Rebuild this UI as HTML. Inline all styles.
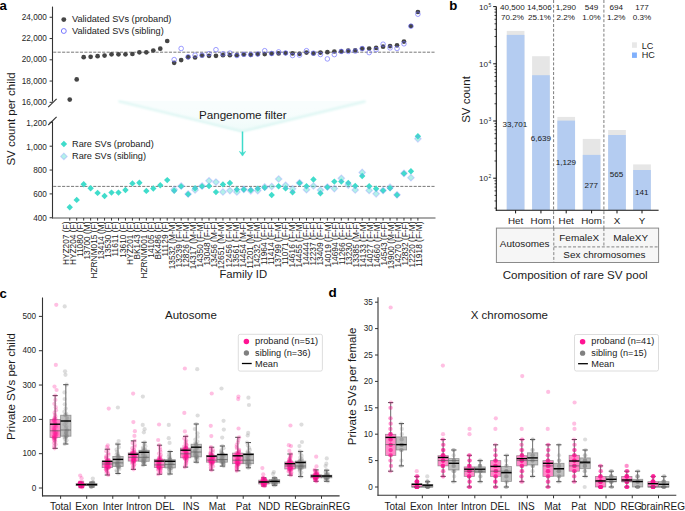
<!DOCTYPE html>
<html><head><meta charset="utf-8"><title>Figure</title>
<style>
html,body{margin:0;padding:0;background:#fff;}
body{width:685px;height:511px;overflow:hidden;}
svg{display:block;font-family:"Liberation Sans", sans-serif;}
</style></head>
<body>
<svg width="685" height="511" viewBox="0 0 685 511">
<rect x="0" y="0" width="685" height="511" fill="#fff"/>
<text x="-0.60" y="9.70" font-size="13.2" text-anchor="start" fill="#000" font-weight="bold" >a</text>
<text x="449.30" y="9.60" font-size="13.2" text-anchor="start" fill="#000" font-weight="bold" >b</text>
<text x="-0.40" y="297.70" font-size="13.2" text-anchor="start" fill="#000" font-weight="bold" >c</text>
<text x="328.40" y="297.00" font-size="13.5" text-anchor="start" fill="#000" font-weight="bold" >d</text>
<defs><linearGradient id="fg" x1="0" y1="0" x2="0" y2="1"><stop offset="0" stop-color="#ffffff" stop-opacity="0"/><stop offset="1" stop-color="#d6f5f1" stop-opacity="0.35"/></linearGradient><filter id="bl" x="-5%" y="-50%" width="110%" height="200%"><feGaussianBlur stdDeviation="1.1"/></filter></defs>
<polygon points="116.5,100.8 367.5,101.1 242.2,132.4" fill="#f8fdfd"/>
<polygon points="116.5,100.8 367.5,101.1 242.2,132.4" fill="url(#fg)"/>
<polyline points="118.5,101.2 242.2,131.4 365.5,101.4" fill="none" stroke="#ddf6f3" stroke-width="2.2" filter="url(#bl)"/>
<text x="199.00" y="118.60" font-size="11.6" text-anchor="start" fill="#1a1a1a" >Pangenome filter</text>
<line x1="242.50" y1="131.50" x2="242.50" y2="153.50" stroke="#3edbcb" stroke-width="1.5" />
<path d="M239.4,151.4 L242.5,156.1 L245.6,151.4 L242.5,153.3 Z" fill="#3edbcb" stroke="#3edbcb" stroke-width="0.6" stroke-linejoin="round"/>
<line x1="52.50" y1="6.60" x2="52.50" y2="101.60" stroke="#333" stroke-width="1.1" />
<line x1="52.50" y1="121.30" x2="52.50" y2="218.40" stroke="#333" stroke-width="1.1" />
<line x1="48.20" y1="107.20" x2="56.60" y2="98.80" stroke="#333" stroke-width="1.1" />
<line x1="48.20" y1="125.00" x2="56.60" y2="116.80" stroke="#333" stroke-width="1.1" />
<line x1="49.60" y1="17.28" x2="52.50" y2="17.28" stroke="#333" stroke-width="1" />
<text x="46.80" y="19.78" font-size="8.2" text-anchor="end" fill="#262626" >24,000</text>
<line x1="49.60" y1="38.54" x2="52.50" y2="38.54" stroke="#333" stroke-width="1" />
<text x="46.80" y="41.04" font-size="8.2" text-anchor="end" fill="#262626" >22,000</text>
<line x1="49.60" y1="59.80" x2="52.50" y2="59.80" stroke="#333" stroke-width="1" />
<text x="46.80" y="62.30" font-size="8.2" text-anchor="end" fill="#262626" >20,000</text>
<line x1="49.60" y1="81.06" x2="52.50" y2="81.06" stroke="#333" stroke-width="1" />
<text x="46.80" y="83.56" font-size="8.2" text-anchor="end" fill="#262626" >18,000</text>
<line x1="49.60" y1="102.32" x2="52.50" y2="102.32" stroke="#333" stroke-width="1" />
<text x="46.80" y="104.82" font-size="8.2" text-anchor="end" fill="#262626" >16,000</text>
<line x1="49.60" y1="122.35" x2="52.50" y2="122.35" stroke="#333" stroke-width="1" />
<text x="46.80" y="125.65" font-size="8.2" text-anchor="end" fill="#262626" >1,200</text>
<line x1="49.60" y1="146.20" x2="52.50" y2="146.20" stroke="#333" stroke-width="1" />
<text x="46.80" y="149.50" font-size="8.2" text-anchor="end" fill="#262626" >1,000</text>
<line x1="49.60" y1="170.05" x2="52.50" y2="170.05" stroke="#333" stroke-width="1" />
<text x="46.80" y="173.35" font-size="8.2" text-anchor="end" fill="#262626" >800</text>
<line x1="49.60" y1="193.90" x2="52.50" y2="193.90" stroke="#333" stroke-width="1" />
<text x="46.80" y="197.20" font-size="8.2" text-anchor="end" fill="#262626" >600</text>
<line x1="49.60" y1="217.75" x2="52.50" y2="217.75" stroke="#333" stroke-width="1" />
<text x="46.80" y="221.05" font-size="8.2" text-anchor="end" fill="#262626" >400</text>
<line x1="52.00" y1="218.00" x2="435.50" y2="218.00" stroke="#555" stroke-width="1.2" />
<line x1="69.75" y1="218.00" x2="69.75" y2="220.60" stroke="#222" stroke-width="0.9" />
<text transform="translate(68.95,221.50) rotate(-90)" font-size="8.35" text-anchor="end" fill="#1e1e1e">HYZ207 (F)</text>
<line x1="76.71" y1="218.00" x2="76.71" y2="220.60" stroke="#222" stroke-width="0.9" />
<text transform="translate(76.02,221.50) rotate(-90)" font-size="8.35" text-anchor="end" fill="#1e1e1e">HYZ204 (F)</text>
<line x1="83.68" y1="218.00" x2="83.68" y2="220.60" stroke="#222" stroke-width="0.9" />
<text transform="translate(83.09,221.50) rotate(-90)" font-size="8.35" text-anchor="end" fill="#1e1e1e">11080 (F)</text>
<line x1="90.64" y1="218.00" x2="90.64" y2="220.60" stroke="#222" stroke-width="0.9" />
<text transform="translate(90.16,221.50) rotate(-90)" font-size="8.35" text-anchor="end" fill="#1e1e1e">13700 (M)</text>
<line x1="97.60" y1="218.00" x2="97.60" y2="220.60" stroke="#222" stroke-width="0.9" />
<text transform="translate(97.23,221.50) rotate(-90)" font-size="8.35" text-anchor="end" fill="#1e1e1e">HZRNM015 (F)</text>
<line x1="104.56" y1="218.00" x2="104.56" y2="220.60" stroke="#222" stroke-width="0.9" />
<text transform="translate(104.30,221.50) rotate(-90)" font-size="8.35" text-anchor="end" fill="#1e1e1e">13414 (M)</text>
<line x1="111.53" y1="218.00" x2="111.53" y2="220.60" stroke="#222" stroke-width="0.9" />
<text transform="translate(111.37,221.50) rotate(-90)" font-size="8.35" text-anchor="end" fill="#1e1e1e">13530 (F)</text>
<line x1="118.49" y1="218.00" x2="118.49" y2="220.60" stroke="#222" stroke-width="0.9" />
<text transform="translate(118.44,221.50) rotate(-90)" font-size="8.35" text-anchor="end" fill="#1e1e1e">11611 (F)</text>
<line x1="125.45" y1="218.00" x2="125.45" y2="220.60" stroke="#222" stroke-width="0.9" />
<text transform="translate(125.51,221.50) rotate(-90)" font-size="8.35" text-anchor="end" fill="#1e1e1e">13610 (F)</text>
<line x1="132.42" y1="218.00" x2="132.42" y2="220.60" stroke="#222" stroke-width="0.9" />
<text transform="translate(132.58,221.50) rotate(-90)" font-size="8.35" text-anchor="end" fill="#1e1e1e">HYZ201 (F)</text>
<line x1="139.38" y1="218.00" x2="139.38" y2="220.60" stroke="#222" stroke-width="0.9" />
<text transform="translate(139.65,221.50) rotate(-90)" font-size="8.35" text-anchor="end" fill="#1e1e1e">BK143 (F)</text>
<line x1="146.34" y1="218.00" x2="146.34" y2="220.60" stroke="#222" stroke-width="0.9" />
<text transform="translate(146.72,221.50) rotate(-90)" font-size="8.35" text-anchor="end" fill="#1e1e1e">HZRNM001 (F)</text>
<line x1="153.31" y1="218.00" x2="153.31" y2="220.60" stroke="#222" stroke-width="0.9" />
<text transform="translate(153.79,221.50) rotate(-90)" font-size="8.35" text-anchor="end" fill="#1e1e1e">14105 (F)</text>
<line x1="160.27" y1="218.00" x2="160.27" y2="220.60" stroke="#222" stroke-width="0.9" />
<text transform="translate(160.86,221.50) rotate(-90)" font-size="8.35" text-anchor="end" fill="#1e1e1e">BK486 (F)</text>
<line x1="167.23" y1="218.00" x2="167.23" y2="220.60" stroke="#222" stroke-width="0.9" />
<text transform="translate(167.93,221.50) rotate(-90)" font-size="8.35" text-anchor="end" fill="#1e1e1e">11129 (F)</text>
<line x1="174.19" y1="218.00" x2="174.19" y2="220.60" stroke="#222" stroke-width="0.9" />
<text transform="translate(175.00,221.50) rotate(-90)" font-size="8.35" text-anchor="end" fill="#1e1e1e">13532 (M-M)</text>
<line x1="181.16" y1="218.00" x2="181.16" y2="220.60" stroke="#222" stroke-width="0.9" />
<text transform="translate(182.07,221.50) rotate(-90)" font-size="8.35" text-anchor="end" fill="#1e1e1e">13239 (F-M)</text>
<line x1="188.12" y1="218.00" x2="188.12" y2="220.60" stroke="#222" stroke-width="0.9" />
<text transform="translate(189.14,221.50) rotate(-90)" font-size="8.35" text-anchor="end" fill="#1e1e1e">12826 (F-M)</text>
<line x1="195.08" y1="218.00" x2="195.08" y2="220.60" stroke="#222" stroke-width="0.9" />
<text transform="translate(196.21,221.50) rotate(-90)" font-size="8.35" text-anchor="end" fill="#1e1e1e">14317 (M-M)</text>
<line x1="202.05" y1="218.00" x2="202.05" y2="220.60" stroke="#222" stroke-width="0.9" />
<text transform="translate(203.28,221.50) rotate(-90)" font-size="8.35" text-anchor="end" fill="#1e1e1e">14350 (F-M)</text>
<line x1="209.01" y1="218.00" x2="209.01" y2="220.60" stroke="#222" stroke-width="0.9" />
<text transform="translate(210.35,221.50) rotate(-90)" font-size="8.35" text-anchor="end" fill="#1e1e1e">13048 (F-F)</text>
<line x1="215.97" y1="218.00" x2="215.97" y2="220.60" stroke="#222" stroke-width="0.9" />
<text transform="translate(217.42,221.50) rotate(-90)" font-size="8.35" text-anchor="end" fill="#1e1e1e">13456 (M-F)</text>
<line x1="222.94" y1="218.00" x2="222.94" y2="220.60" stroke="#222" stroke-width="0.9" />
<text transform="translate(224.49,221.50) rotate(-90)" font-size="8.35" text-anchor="end" fill="#1e1e1e">12651 (M-M)</text>
<line x1="229.90" y1="218.00" x2="229.90" y2="220.60" stroke="#222" stroke-width="0.9" />
<text transform="translate(231.56,221.50) rotate(-90)" font-size="8.35" text-anchor="end" fill="#1e1e1e">12456 (F-M)</text>
<line x1="236.86" y1="218.00" x2="236.86" y2="220.60" stroke="#222" stroke-width="0.9" />
<text transform="translate(238.63,221.50) rotate(-90)" font-size="8.35" text-anchor="end" fill="#1e1e1e">13561 (F-M)</text>
<line x1="243.82" y1="218.00" x2="243.82" y2="220.60" stroke="#222" stroke-width="0.9" />
<text transform="translate(245.70,221.50) rotate(-90)" font-size="8.35" text-anchor="end" fill="#1e1e1e">14454 (M-F)</text>
<line x1="250.79" y1="218.00" x2="250.79" y2="220.60" stroke="#222" stroke-width="0.9" />
<text transform="translate(252.77,221.50) rotate(-90)" font-size="8.35" text-anchor="end" fill="#1e1e1e">11201 (M-M)</text>
<line x1="257.75" y1="218.00" x2="257.75" y2="220.60" stroke="#222" stroke-width="0.9" />
<text transform="translate(259.84,221.50) rotate(-90)" font-size="8.35" text-anchor="end" fill="#1e1e1e">14232 (F-M)</text>
<line x1="264.71" y1="218.00" x2="264.71" y2="220.60" stroke="#222" stroke-width="0.9" />
<text transform="translate(266.91,221.50) rotate(-90)" font-size="8.35" text-anchor="end" fill="#1e1e1e">11964 (F-F)</text>
<line x1="271.68" y1="218.00" x2="271.68" y2="220.60" stroke="#222" stroke-width="0.9" />
<text transform="translate(273.98,221.50) rotate(-90)" font-size="8.35" text-anchor="end" fill="#1e1e1e">11414 (F-F)</text>
<line x1="278.64" y1="218.00" x2="278.64" y2="220.60" stroke="#222" stroke-width="0.9" />
<text transform="translate(281.05,221.50) rotate(-90)" font-size="8.35" text-anchor="end" fill="#1e1e1e">13799 (F-M)</text>
<line x1="285.60" y1="218.00" x2="285.60" y2="220.60" stroke="#222" stroke-width="0.9" />
<text transform="translate(288.12,221.50) rotate(-90)" font-size="8.35" text-anchor="end" fill="#1e1e1e">11071 (F-F)</text>
<line x1="292.57" y1="218.00" x2="292.57" y2="220.60" stroke="#222" stroke-width="0.9" />
<text transform="translate(295.19,221.50) rotate(-90)" font-size="8.35" text-anchor="end" fill="#1e1e1e">14616 (F-M)</text>
<line x1="299.53" y1="218.00" x2="299.53" y2="220.60" stroke="#222" stroke-width="0.9" />
<text transform="translate(302.26,221.50) rotate(-90)" font-size="8.35" text-anchor="end" fill="#1e1e1e">14455 (F-M)</text>
<line x1="306.49" y1="218.00" x2="306.49" y2="220.60" stroke="#222" stroke-width="0.9" />
<text transform="translate(309.33,221.50) rotate(-90)" font-size="8.35" text-anchor="end" fill="#1e1e1e">14444 (F-F)</text>
<line x1="313.46" y1="218.00" x2="313.46" y2="220.60" stroke="#222" stroke-width="0.9" />
<text transform="translate(316.40,221.50) rotate(-90)" font-size="8.35" text-anchor="end" fill="#1e1e1e">12237 (F-F)</text>
<line x1="320.42" y1="218.00" x2="320.42" y2="220.60" stroke="#222" stroke-width="0.9" />
<text transform="translate(323.47,221.50) rotate(-90)" font-size="8.35" text-anchor="end" fill="#1e1e1e">13409 (F-F)</text>
<line x1="327.38" y1="218.00" x2="327.38" y2="220.60" stroke="#222" stroke-width="0.9" />
<text transform="translate(330.54,221.50) rotate(-90)" font-size="8.35" text-anchor="end" fill="#1e1e1e">14019 (F-M)</text>
<line x1="334.34" y1="218.00" x2="334.34" y2="220.60" stroke="#222" stroke-width="0.9" />
<text transform="translate(337.61,221.50) rotate(-90)" font-size="8.35" text-anchor="end" fill="#1e1e1e">14694 (F-F)</text>
<line x1="341.31" y1="218.00" x2="341.31" y2="220.60" stroke="#222" stroke-width="0.9" />
<text transform="translate(344.68,221.50) rotate(-90)" font-size="8.35" text-anchor="end" fill="#1e1e1e">11266 (F-F)</text>
<line x1="348.27" y1="218.00" x2="348.27" y2="220.60" stroke="#222" stroke-width="0.9" />
<text transform="translate(351.75,221.50) rotate(-90)" font-size="8.35" text-anchor="end" fill="#1e1e1e">13230 (F-F)</text>
<line x1="355.23" y1="218.00" x2="355.23" y2="220.60" stroke="#222" stroke-width="0.9" />
<text transform="translate(358.82,221.50) rotate(-90)" font-size="8.35" text-anchor="end" fill="#1e1e1e">13385 (M-F)</text>
<line x1="362.20" y1="218.00" x2="362.20" y2="220.60" stroke="#222" stroke-width="0.9" />
<text transform="translate(365.89,221.50) rotate(-90)" font-size="8.35" text-anchor="end" fill="#1e1e1e">14133 (F-M)</text>
<line x1="369.16" y1="218.00" x2="369.16" y2="220.60" stroke="#222" stroke-width="0.9" />
<text transform="translate(372.96,221.50) rotate(-90)" font-size="8.35" text-anchor="end" fill="#1e1e1e">14027 (F-M)</text>
<line x1="376.12" y1="218.00" x2="376.12" y2="220.60" stroke="#222" stroke-width="0.9" />
<text transform="translate(380.03,221.50) rotate(-90)" font-size="8.35" text-anchor="end" fill="#1e1e1e">14660 (F-M)</text>
<line x1="383.08" y1="218.00" x2="383.08" y2="220.60" stroke="#222" stroke-width="0.9" />
<text transform="translate(387.10,221.50) rotate(-90)" font-size="8.35" text-anchor="end" fill="#1e1e1e">14543 (F-F)</text>
<line x1="390.05" y1="218.00" x2="390.05" y2="220.60" stroke="#222" stroke-width="0.9" />
<text transform="translate(394.17,221.50) rotate(-90)" font-size="8.35" text-anchor="end" fill="#1e1e1e">13900 (M-M)</text>
<line x1="397.01" y1="218.00" x2="397.01" y2="220.60" stroke="#222" stroke-width="0.9" />
<text transform="translate(401.24,221.50) rotate(-90)" font-size="8.35" text-anchor="end" fill="#1e1e1e">14270 (F-M)</text>
<line x1="403.97" y1="218.00" x2="403.97" y2="220.60" stroke="#222" stroke-width="0.9" />
<text transform="translate(408.31,221.50) rotate(-90)" font-size="8.35" text-anchor="end" fill="#1e1e1e">12832 (F-F)</text>
<line x1="410.94" y1="218.00" x2="410.94" y2="220.60" stroke="#222" stroke-width="0.9" />
<text transform="translate(415.38,221.50) rotate(-90)" font-size="8.35" text-anchor="end" fill="#1e1e1e">12220 (F-M)</text>
<line x1="417.90" y1="218.00" x2="417.90" y2="220.60" stroke="#222" stroke-width="0.9" />
<text transform="translate(422.45,221.50) rotate(-90)" font-size="8.35" text-anchor="end" fill="#1e1e1e">11918 (F-M)</text>
<text x="219.40" y="278.00" font-size="11.3" text-anchor="start" fill="#1a1a1a" >Family ID</text>
<text transform="translate(15.00,118.90) rotate(-90)" font-size="11.5" text-anchor="middle" fill="#1a1a1a">SV count per child</text>
<line x1="53.20" y1="52.20" x2="435.00" y2="52.20" stroke="#6a6a6a" stroke-width="0.9" stroke-dasharray="3.1 1.35"/>
<line x1="53.20" y1="186.40" x2="435.00" y2="186.40" stroke="#6a6a6a" stroke-width="0.9" stroke-dasharray="3.1 1.35"/>
<circle cx="69.75" cy="99.60" r="2.35" fill="#454545"/>
<circle cx="76.71" cy="79.40" r="2.35" fill="#454545"/>
<circle cx="83.68" cy="57.20" r="2.35" fill="#454545"/>
<circle cx="90.64" cy="56.80" r="2.35" fill="#454545"/>
<circle cx="97.60" cy="56.20" r="2.35" fill="#454545"/>
<circle cx="104.56" cy="55.60" r="2.35" fill="#454545"/>
<circle cx="111.53" cy="54.30" r="2.35" fill="#454545"/>
<circle cx="118.49" cy="54.30" r="2.35" fill="#454545"/>
<circle cx="125.45" cy="54.30" r="2.35" fill="#454545"/>
<circle cx="132.42" cy="54.00" r="2.35" fill="#454545"/>
<circle cx="139.38" cy="52.30" r="2.35" fill="#454545"/>
<circle cx="146.34" cy="52.30" r="2.35" fill="#454545"/>
<circle cx="153.31" cy="50.50" r="2.35" fill="#454545"/>
<circle cx="160.27" cy="48.70" r="2.35" fill="#454545"/>
<circle cx="167.23" cy="41.00" r="2.35" fill="#454545"/>
<circle cx="174.19" cy="62.80" r="2.35" fill="#454545"/>
<circle cx="181.16" cy="60.10" r="2.35" fill="#454545"/>
<circle cx="188.12" cy="57.20" r="2.35" fill="#454545"/>
<circle cx="195.08" cy="57.50" r="2.35" fill="#454545"/>
<circle cx="202.05" cy="55.50" r="2.35" fill="#454545"/>
<circle cx="209.01" cy="55.80" r="2.35" fill="#454545"/>
<circle cx="215.97" cy="55.80" r="2.35" fill="#454545"/>
<circle cx="222.94" cy="55.20" r="2.35" fill="#454545"/>
<circle cx="229.90" cy="55.20" r="2.35" fill="#454545"/>
<circle cx="236.86" cy="55.20" r="2.35" fill="#454545"/>
<circle cx="243.82" cy="54.50" r="2.35" fill="#454545"/>
<circle cx="250.79" cy="54.80" r="2.35" fill="#454545"/>
<circle cx="257.75" cy="54.10" r="2.35" fill="#454545"/>
<circle cx="264.71" cy="54.10" r="2.35" fill="#454545"/>
<circle cx="271.68" cy="53.60" r="2.35" fill="#454545"/>
<circle cx="278.64" cy="53.40" r="2.35" fill="#454545"/>
<circle cx="285.60" cy="53.10" r="2.35" fill="#454545"/>
<circle cx="292.57" cy="53.40" r="2.35" fill="#454545"/>
<circle cx="299.53" cy="53.80" r="2.35" fill="#454545"/>
<circle cx="306.49" cy="52.60" r="2.35" fill="#454545"/>
<circle cx="313.46" cy="53.40" r="2.35" fill="#454545"/>
<circle cx="320.42" cy="52.60" r="2.35" fill="#454545"/>
<circle cx="327.38" cy="52.20" r="2.35" fill="#454545"/>
<circle cx="334.34" cy="51.50" r="2.35" fill="#454545"/>
<circle cx="341.31" cy="51.40" r="2.35" fill="#454545"/>
<circle cx="348.27" cy="50.70" r="2.35" fill="#454545"/>
<circle cx="355.23" cy="50.40" r="2.35" fill="#454545"/>
<circle cx="362.20" cy="48.60" r="2.35" fill="#454545"/>
<circle cx="369.16" cy="48.50" r="2.35" fill="#454545"/>
<circle cx="376.12" cy="47.90" r="2.35" fill="#454545"/>
<circle cx="383.08" cy="46.70" r="2.35" fill="#454545"/>
<circle cx="390.05" cy="46.10" r="2.35" fill="#454545"/>
<circle cx="397.01" cy="45.30" r="2.35" fill="#454545"/>
<circle cx="403.97" cy="41.60" r="2.35" fill="#454545"/>
<circle cx="410.94" cy="26.00" r="2.35" fill="#454545"/>
<circle cx="417.90" cy="12.00" r="2.35" fill="#454545"/>
<circle cx="174.19" cy="59.60" r="2.3" fill="none" stroke="#6b6bff" stroke-width="0.85" stroke-opacity="0.78"/>
<circle cx="181.16" cy="48.50" r="2.3" fill="none" stroke="#6b6bff" stroke-width="0.85" stroke-opacity="0.78"/>
<circle cx="188.12" cy="56.80" r="2.3" fill="none" stroke="#6b6bff" stroke-width="0.85" stroke-opacity="0.78"/>
<circle cx="195.08" cy="55.20" r="2.3" fill="none" stroke="#6b6bff" stroke-width="0.85" stroke-opacity="0.78"/>
<circle cx="202.05" cy="55.20" r="2.3" fill="none" stroke="#6b6bff" stroke-width="0.85" stroke-opacity="0.78"/>
<circle cx="209.01" cy="53.70" r="2.3" fill="none" stroke="#6b6bff" stroke-width="0.85" stroke-opacity="0.78"/>
<circle cx="215.97" cy="49.70" r="2.3" fill="none" stroke="#6b6bff" stroke-width="0.85" stroke-opacity="0.78"/>
<circle cx="222.94" cy="53.80" r="2.3" fill="none" stroke="#6b6bff" stroke-width="0.85" stroke-opacity="0.78"/>
<circle cx="229.90" cy="53.10" r="2.3" fill="none" stroke="#6b6bff" stroke-width="0.85" stroke-opacity="0.78"/>
<circle cx="236.86" cy="55.50" r="2.3" fill="none" stroke="#6b6bff" stroke-width="0.85" stroke-opacity="0.78"/>
<circle cx="243.82" cy="54.30" r="2.3" fill="none" stroke="#6b6bff" stroke-width="0.85" stroke-opacity="0.78"/>
<circle cx="250.79" cy="54.50" r="2.3" fill="none" stroke="#6b6bff" stroke-width="0.85" stroke-opacity="0.78"/>
<circle cx="257.75" cy="54.00" r="2.3" fill="none" stroke="#6b6bff" stroke-width="0.85" stroke-opacity="0.78"/>
<circle cx="264.71" cy="50.70" r="2.3" fill="none" stroke="#6b6bff" stroke-width="0.85" stroke-opacity="0.78"/>
<circle cx="271.68" cy="53.50" r="2.3" fill="none" stroke="#6b6bff" stroke-width="0.85" stroke-opacity="0.78"/>
<circle cx="278.64" cy="51.90" r="2.3" fill="none" stroke="#6b6bff" stroke-width="0.85" stroke-opacity="0.78"/>
<circle cx="285.60" cy="53.00" r="2.3" fill="none" stroke="#6b6bff" stroke-width="0.85" stroke-opacity="0.78"/>
<circle cx="292.57" cy="55.50" r="2.3" fill="none" stroke="#6b6bff" stroke-width="0.85" stroke-opacity="0.78"/>
<circle cx="299.53" cy="55.10" r="2.3" fill="none" stroke="#6b6bff" stroke-width="0.85" stroke-opacity="0.78"/>
<circle cx="306.49" cy="50.70" r="2.3" fill="none" stroke="#6b6bff" stroke-width="0.85" stroke-opacity="0.78"/>
<circle cx="313.46" cy="53.20" r="2.3" fill="none" stroke="#6b6bff" stroke-width="0.85" stroke-opacity="0.78"/>
<circle cx="320.42" cy="54.50" r="2.3" fill="none" stroke="#6b6bff" stroke-width="0.85" stroke-opacity="0.78"/>
<circle cx="327.38" cy="58.90" r="2.3" fill="none" stroke="#6b6bff" stroke-width="0.85" stroke-opacity="0.78"/>
<circle cx="334.34" cy="54.60" r="2.3" fill="none" stroke="#6b6bff" stroke-width="0.85" stroke-opacity="0.78"/>
<circle cx="341.31" cy="51.40" r="2.3" fill="none" stroke="#6b6bff" stroke-width="0.85" stroke-opacity="0.78"/>
<circle cx="348.27" cy="51.40" r="2.3" fill="none" stroke="#6b6bff" stroke-width="0.85" stroke-opacity="0.78"/>
<circle cx="355.23" cy="51.10" r="2.3" fill="none" stroke="#6b6bff" stroke-width="0.85" stroke-opacity="0.78"/>
<circle cx="362.20" cy="48.60" r="2.3" fill="none" stroke="#6b6bff" stroke-width="0.85" stroke-opacity="0.78"/>
<circle cx="369.16" cy="52.60" r="2.3" fill="none" stroke="#6b6bff" stroke-width="0.85" stroke-opacity="0.78"/>
<circle cx="376.12" cy="49.60" r="2.3" fill="none" stroke="#6b6bff" stroke-width="0.85" stroke-opacity="0.78"/>
<circle cx="383.08" cy="44.20" r="2.3" fill="none" stroke="#6b6bff" stroke-width="0.85" stroke-opacity="0.78"/>
<circle cx="390.05" cy="47.90" r="2.3" fill="none" stroke="#6b6bff" stroke-width="0.85" stroke-opacity="0.78"/>
<circle cx="397.01" cy="48.50" r="2.3" fill="none" stroke="#6b6bff" stroke-width="0.85" stroke-opacity="0.78"/>
<circle cx="403.97" cy="43.80" r="2.3" fill="none" stroke="#6b6bff" stroke-width="0.85" stroke-opacity="0.78"/>
<circle cx="410.94" cy="26.20" r="2.3" fill="none" stroke="#6b6bff" stroke-width="0.85" stroke-opacity="0.78"/>
<circle cx="417.90" cy="14.20" r="2.3" fill="none" stroke="#6b6bff" stroke-width="0.85" stroke-opacity="0.78"/>
<polygon points="69.75,204.00 72.95,207.20 69.75,210.40 66.55,207.20" fill="#40dccb"/>
<polygon points="76.71,196.70 79.91,199.90 76.71,203.10 73.51,199.90" fill="#40dccb"/>
<polygon points="83.68,181.10 86.88,184.30 83.68,187.50 80.48,184.30" fill="#40dccb"/>
<polygon points="90.64,185.00 93.84,188.20 90.64,191.40 87.44,188.20" fill="#40dccb"/>
<polygon points="97.60,189.70 100.80,192.90 97.60,196.10 94.40,192.90" fill="#40dccb"/>
<polygon points="104.56,192.80 107.77,196.00 104.56,199.20 101.36,196.00" fill="#40dccb"/>
<polygon points="111.53,189.40 114.73,192.60 111.53,195.80 108.33,192.60" fill="#40dccb"/>
<polygon points="118.49,189.40 121.69,192.60 118.49,195.80 115.29,192.60" fill="#40dccb"/>
<polygon points="125.45,186.80 128.65,190.00 125.45,193.20 122.25,190.00" fill="#40dccb"/>
<polygon points="132.42,180.20 135.62,183.40 132.42,186.60 129.22,183.40" fill="#40dccb"/>
<polygon points="139.38,179.60 142.58,182.80 139.38,186.00 136.18,182.80" fill="#40dccb"/>
<polygon points="146.34,187.70 149.54,190.90 146.34,194.10 143.14,190.90" fill="#40dccb"/>
<polygon points="153.31,185.30 156.51,188.50 153.31,191.70 150.11,188.50" fill="#40dccb"/>
<polygon points="160.27,182.10 163.47,185.30 160.27,188.50 157.07,185.30" fill="#40dccb"/>
<polygon points="167.23,176.90 170.43,180.10 167.23,183.30 164.03,180.10" fill="#40dccb"/>
<polygon points="174.19,187.60 177.39,190.80 174.19,194.00 171.00,190.80" fill="#40dccb"/>
<polygon points="181.16,183.20 184.36,186.40 181.16,189.60 177.96,186.40" fill="#40dccb"/>
<polygon points="188.12,191.10 191.32,194.30 188.12,197.50 184.92,194.30" fill="#40dccb"/>
<polygon points="195.08,185.00 198.28,188.20 195.08,191.40 191.88,188.20" fill="#40dccb"/>
<polygon points="202.05,183.20 205.25,186.40 202.05,189.60 198.85,186.40" fill="#40dccb"/>
<polygon points="209.01,182.80 212.21,186.00 209.01,189.20 205.81,186.00" fill="#40dccb"/>
<polygon points="215.97,188.90 219.17,192.10 215.97,195.30 212.77,192.10" fill="#40dccb"/>
<polygon points="222.94,181.20 226.14,184.40 222.94,187.60 219.74,184.40" fill="#40dccb"/>
<polygon points="229.90,179.80 233.10,183.00 229.90,186.20 226.70,183.00" fill="#40dccb"/>
<polygon points="236.86,186.30 240.06,189.50 236.86,192.70 233.66,189.50" fill="#40dccb"/>
<polygon points="243.82,186.30 247.02,189.50 243.82,192.70 240.62,189.50" fill="#40dccb"/>
<polygon points="250.79,186.80 253.99,190.00 250.79,193.20 247.59,190.00" fill="#40dccb"/>
<polygon points="257.75,185.40 260.95,188.60 257.75,191.80 254.55,188.60" fill="#40dccb"/>
<polygon points="264.71,184.60 267.91,187.80 264.71,191.00 261.51,187.80" fill="#40dccb"/>
<polygon points="271.68,191.80 274.88,195.00 271.68,198.20 268.48,195.00" fill="#40dccb"/>
<polygon points="278.64,183.00 281.84,186.20 278.64,189.40 275.44,186.20" fill="#40dccb"/>
<polygon points="285.60,185.20 288.80,188.40 285.60,191.60 282.40,188.40" fill="#40dccb"/>
<polygon points="292.57,189.10 295.77,192.30 292.57,195.50 289.37,192.30" fill="#40dccb"/>
<polygon points="299.53,179.80 302.73,183.00 299.53,186.20 296.33,183.00" fill="#40dccb"/>
<polygon points="306.49,183.00 309.69,186.20 306.49,189.40 303.29,186.20" fill="#40dccb"/>
<polygon points="313.46,176.30 316.66,179.50 313.46,182.70 310.26,179.50" fill="#40dccb"/>
<polygon points="320.42,190.00 323.62,193.20 320.42,196.40 317.22,193.20" fill="#40dccb"/>
<polygon points="327.38,184.00 330.58,187.20 327.38,190.40 324.18,187.20" fill="#40dccb"/>
<polygon points="334.34,178.40 337.54,181.60 334.34,184.80 331.14,181.60" fill="#40dccb"/>
<polygon points="341.31,178.40 344.51,181.60 341.31,184.80 338.11,181.60" fill="#40dccb"/>
<polygon points="348.27,179.80 351.47,183.00 348.27,186.20 345.07,183.00" fill="#40dccb"/>
<polygon points="355.23,182.80 358.43,186.00 355.23,189.20 352.03,186.00" fill="#40dccb"/>
<polygon points="362.20,172.80 365.40,176.00 362.20,179.20 359.00,176.00" fill="#40dccb"/>
<polygon points="369.16,183.00 372.36,186.20 369.16,189.40 365.96,186.20" fill="#40dccb"/>
<polygon points="376.12,185.50 379.32,188.70 376.12,191.90 372.92,188.70" fill="#40dccb"/>
<polygon points="383.08,187.40 386.28,190.60 383.08,193.80 379.88,190.60" fill="#40dccb"/>
<polygon points="390.05,185.00 393.25,188.20 390.05,191.40 386.85,188.20" fill="#40dccb"/>
<polygon points="397.01,191.80 400.21,195.00 397.01,198.20 393.81,195.00" fill="#40dccb"/>
<polygon points="403.97,170.30 407.17,173.50 403.97,176.70 400.77,173.50" fill="#40dccb"/>
<polygon points="410.94,168.10 414.14,171.30 410.94,174.50 407.74,171.30" fill="#40dccb"/>
<polygon points="417.90,133.10 421.10,136.30 417.90,139.50 414.70,136.30" fill="#40dccb"/>
<polygon points="174.19,186.20 177.50,189.50 174.19,192.80 170.89,189.50" fill="#40dccb" fill-opacity="0.4" stroke="#8a8aff" stroke-width="1.1" stroke-opacity="0.32"/>
<polygon points="181.16,182.70 184.46,186.00 181.16,189.30 177.86,186.00" fill="#40dccb" fill-opacity="0.4" stroke="#8a8aff" stroke-width="1.1" stroke-opacity="0.32"/>
<polygon points="188.12,190.70 191.42,194.00 188.12,197.30 184.82,194.00" fill="#40dccb" fill-opacity="0.4" stroke="#8a8aff" stroke-width="1.1" stroke-opacity="0.32"/>
<polygon points="195.08,186.70 198.38,190.00 195.08,193.30 191.78,190.00" fill="#40dccb" fill-opacity="0.4" stroke="#8a8aff" stroke-width="1.1" stroke-opacity="0.32"/>
<polygon points="202.05,182.70 205.35,186.00 202.05,189.30 198.75,186.00" fill="#40dccb" fill-opacity="0.4" stroke="#8a8aff" stroke-width="1.1" stroke-opacity="0.32"/>
<polygon points="209.01,177.50 212.31,180.80 209.01,184.10 205.71,180.80" fill="#40dccb" fill-opacity="0.4" stroke="#8a8aff" stroke-width="1.1" stroke-opacity="0.32"/>
<polygon points="215.97,178.80 219.27,182.10 215.97,185.40 212.67,182.10" fill="#40dccb" fill-opacity="0.4" stroke="#8a8aff" stroke-width="1.1" stroke-opacity="0.32"/>
<polygon points="222.94,188.70 226.24,192.00 222.94,195.30 219.64,192.00" fill="#40dccb" fill-opacity="0.4" stroke="#8a8aff" stroke-width="1.1" stroke-opacity="0.32"/>
<polygon points="229.90,187.30 233.20,190.60 229.90,193.90 226.60,190.60" fill="#40dccb" fill-opacity="0.4" stroke="#8a8aff" stroke-width="1.1" stroke-opacity="0.32"/>
<polygon points="236.86,188.70 240.16,192.00 236.86,195.30 233.56,192.00" fill="#40dccb" fill-opacity="0.4" stroke="#8a8aff" stroke-width="1.1" stroke-opacity="0.32"/>
<polygon points="243.82,186.00 247.12,189.30 243.82,192.60 240.52,189.30" fill="#40dccb" fill-opacity="0.4" stroke="#8a8aff" stroke-width="1.1" stroke-opacity="0.32"/>
<polygon points="250.79,187.50 254.09,190.80 250.79,194.10 247.49,190.80" fill="#40dccb" fill-opacity="0.4" stroke="#8a8aff" stroke-width="1.1" stroke-opacity="0.32"/>
<polygon points="257.75,187.30 261.05,190.60 257.75,193.90 254.45,190.60" fill="#40dccb" fill-opacity="0.4" stroke="#8a8aff" stroke-width="1.1" stroke-opacity="0.32"/>
<polygon points="264.71,183.60 268.01,186.90 264.71,190.20 261.41,186.90" fill="#40dccb" fill-opacity="0.4" stroke="#8a8aff" stroke-width="1.1" stroke-opacity="0.32"/>
<polygon points="271.68,183.20 274.98,186.50 271.68,189.80 268.38,186.50" fill="#40dccb" fill-opacity="0.4" stroke="#8a8aff" stroke-width="1.1" stroke-opacity="0.32"/>
<polygon points="278.64,175.70 281.94,179.00 278.64,182.30 275.34,179.00" fill="#40dccb" fill-opacity="0.4" stroke="#8a8aff" stroke-width="1.1" stroke-opacity="0.32"/>
<polygon points="285.60,182.00 288.90,185.30 285.60,188.60 282.30,185.30" fill="#40dccb" fill-opacity="0.4" stroke="#8a8aff" stroke-width="1.1" stroke-opacity="0.32"/>
<polygon points="292.57,185.50 295.87,188.80 292.57,192.10 289.27,188.80" fill="#40dccb" fill-opacity="0.4" stroke="#8a8aff" stroke-width="1.1" stroke-opacity="0.32"/>
<polygon points="299.53,179.50 302.83,182.80 299.53,186.10 296.23,182.80" fill="#40dccb" fill-opacity="0.4" stroke="#8a8aff" stroke-width="1.1" stroke-opacity="0.32"/>
<polygon points="306.49,186.40 309.79,189.70 306.49,193.00 303.19,189.70" fill="#40dccb" fill-opacity="0.4" stroke="#8a8aff" stroke-width="1.1" stroke-opacity="0.32"/>
<polygon points="313.46,182.70 316.76,186.00 313.46,189.30 310.16,186.00" fill="#40dccb" fill-opacity="0.4" stroke="#8a8aff" stroke-width="1.1" stroke-opacity="0.32"/>
<polygon points="320.42,186.70 323.72,190.00 320.42,193.30 317.12,190.00" fill="#40dccb" fill-opacity="0.4" stroke="#8a8aff" stroke-width="1.1" stroke-opacity="0.32"/>
<polygon points="327.38,183.70 330.68,187.00 327.38,190.30 324.08,187.00" fill="#40dccb" fill-opacity="0.4" stroke="#8a8aff" stroke-width="1.1" stroke-opacity="0.32"/>
<polygon points="334.34,185.30 337.64,188.60 334.34,191.90 331.04,188.60" fill="#40dccb" fill-opacity="0.4" stroke="#8a8aff" stroke-width="1.1" stroke-opacity="0.32"/>
<polygon points="341.31,175.00 344.61,178.30 341.31,181.60 338.01,178.30" fill="#40dccb" fill-opacity="0.4" stroke="#8a8aff" stroke-width="1.1" stroke-opacity="0.32"/>
<polygon points="348.27,181.80 351.57,185.10 348.27,188.40 344.97,185.10" fill="#40dccb" fill-opacity="0.4" stroke="#8a8aff" stroke-width="1.1" stroke-opacity="0.32"/>
<polygon points="355.23,186.70 358.53,190.00 355.23,193.30 351.93,190.00" fill="#40dccb" fill-opacity="0.4" stroke="#8a8aff" stroke-width="1.1" stroke-opacity="0.32"/>
<polygon points="362.20,169.10 365.50,172.40 362.20,175.70 358.90,172.40" fill="#40dccb" fill-opacity="0.4" stroke="#8a8aff" stroke-width="1.1" stroke-opacity="0.32"/>
<polygon points="369.16,187.10 372.46,190.40 369.16,193.70 365.86,190.40" fill="#40dccb" fill-opacity="0.4" stroke="#8a8aff" stroke-width="1.1" stroke-opacity="0.32"/>
<polygon points="376.12,190.50 379.42,193.80 376.12,197.10 372.82,193.80" fill="#40dccb" fill-opacity="0.4" stroke="#8a8aff" stroke-width="1.1" stroke-opacity="0.32"/>
<polygon points="383.08,187.10 386.38,190.40 383.08,193.70 379.78,190.40" fill="#40dccb" fill-opacity="0.4" stroke="#8a8aff" stroke-width="1.1" stroke-opacity="0.32"/>
<polygon points="390.05,183.90 393.35,187.20 390.05,190.50 386.75,187.20" fill="#40dccb" fill-opacity="0.4" stroke="#8a8aff" stroke-width="1.1" stroke-opacity="0.32"/>
<polygon points="397.01,191.50 400.31,194.80 397.01,198.10 393.71,194.80" fill="#40dccb" fill-opacity="0.4" stroke="#8a8aff" stroke-width="1.1" stroke-opacity="0.32"/>
<polygon points="403.97,170.00 407.27,173.30 403.97,176.60 400.67,173.30" fill="#40dccb" fill-opacity="0.4" stroke="#8a8aff" stroke-width="1.1" stroke-opacity="0.32"/>
<polygon points="410.94,174.40 414.24,177.70 410.94,181.00 407.64,177.70" fill="#40dccb" fill-opacity="0.4" stroke="#8a8aff" stroke-width="1.1" stroke-opacity="0.32"/>
<polygon points="417.90,135.50 421.20,138.80 417.90,142.10 414.60,138.80" fill="#40dccb" fill-opacity="0.4" stroke="#8a8aff" stroke-width="1.1" stroke-opacity="0.32"/>
<circle cx="63.8" cy="19.6" r="2.45" fill="#454545"/>
<circle cx="63.8" cy="31.0" r="2.45" fill="none" stroke="#6b6bff" stroke-width="0.9"/>
<text x="72.00" y="22.30" font-size="9.2" text-anchor="start" fill="#1a1a1a" >Validated SVs (proband)</text>
<text x="72.00" y="34.20" font-size="9.2" text-anchor="start" fill="#1a1a1a" >Validated SVs (sibling)</text>
<polygon points="63.90,140.85 67.15,144.10 63.90,147.35 60.65,144.10" fill="#40dccb"/>
<polygon points="63.90,153.05 67.25,156.40 63.90,159.75 60.55,156.40" fill="#40dccb" fill-opacity="0.4" stroke="#8a8aff" stroke-width="1.1" stroke-opacity="0.32"/>
<text x="72.00" y="146.80" font-size="9.2" text-anchor="start" fill="#1a1a1a" >Rare SVs (proband)</text>
<text x="72.00" y="159.00" font-size="9.2" text-anchor="start" fill="#1a1a1a" >Rare SVs (sibling)</text>
<rect x="506.75" y="30.90" width="17.7" height="179.10" fill="#e6e6e6"/>
<rect x="506.75" y="34.90" width="17.7" height="175.10" fill="#b4ccf1"/>
<rect x="532.10" y="56.20" width="17.7" height="153.80" fill="#e6e6e6"/>
<rect x="532.10" y="75.20" width="17.7" height="134.80" fill="#b4ccf1"/>
<rect x="557.35" y="116.90" width="17.7" height="93.10" fill="#e6e6e6"/>
<rect x="557.35" y="120.60" width="17.7" height="89.40" fill="#b4ccf1"/>
<rect x="582.75" y="138.90" width="17.7" height="71.10" fill="#e6e6e6"/>
<rect x="582.75" y="154.90" width="17.7" height="55.10" fill="#b4ccf1"/>
<rect x="608.15" y="130.00" width="17.7" height="80.00" fill="#e6e6e6"/>
<rect x="608.15" y="135.00" width="17.7" height="75.00" fill="#b4ccf1"/>
<rect x="633.15" y="164.40" width="17.7" height="45.60" fill="#e6e6e6"/>
<rect x="633.15" y="170.00" width="17.7" height="40.00" fill="#b4ccf1"/>
<line x1="553.60" y1="0.00" x2="553.60" y2="262.50" stroke="#6e6e6e" stroke-width="0.9" stroke-dasharray="3 1.8"/>
<line x1="603.90" y1="0.00" x2="603.90" y2="246.80" stroke="#6e6e6e" stroke-width="0.9" stroke-dasharray="3 1.8"/>
<line x1="496.30" y1="6.60" x2="496.30" y2="210.80" stroke="#111" stroke-width="1.1" />
<line x1="495.80" y1="210.30" x2="658.60" y2="210.30" stroke="#111" stroke-width="1.1" />
<line x1="493.20" y1="6.60" x2="496.30" y2="6.60" stroke="#111" stroke-width="1" />
<text x="487.90" y="9.75" font-size="8.1" text-anchor="end" fill="#262626" >10</text>
<text x="488.40" y="6.80" font-size="4.9" text-anchor="start" fill="#262626" >5</text>
<line x1="493.20" y1="63.80" x2="496.30" y2="63.80" stroke="#111" stroke-width="1" />
<text x="487.90" y="66.95" font-size="8.1" text-anchor="end" fill="#262626" >10</text>
<text x="488.40" y="64.00" font-size="4.9" text-anchor="start" fill="#262626" >4</text>
<line x1="493.20" y1="121.00" x2="496.30" y2="121.00" stroke="#111" stroke-width="1" />
<text x="487.90" y="124.15" font-size="8.1" text-anchor="end" fill="#262626" >10</text>
<text x="488.40" y="121.20" font-size="4.9" text-anchor="start" fill="#262626" >3</text>
<line x1="493.20" y1="178.20" x2="496.30" y2="178.20" stroke="#111" stroke-width="1" />
<text x="487.90" y="181.35" font-size="8.1" text-anchor="end" fill="#262626" >10</text>
<text x="488.40" y="178.40" font-size="4.9" text-anchor="start" fill="#262626" >2</text>
<line x1="494.50" y1="46.58" x2="496.30" y2="46.58" stroke="#111" stroke-width="0.8" />
<line x1="494.50" y1="36.51" x2="496.30" y2="36.51" stroke="#111" stroke-width="0.8" />
<line x1="494.50" y1="29.36" x2="496.30" y2="29.36" stroke="#111" stroke-width="0.8" />
<line x1="494.50" y1="23.82" x2="496.30" y2="23.82" stroke="#111" stroke-width="0.8" />
<line x1="494.50" y1="19.29" x2="496.30" y2="19.29" stroke="#111" stroke-width="0.8" />
<line x1="494.50" y1="15.46" x2="496.30" y2="15.46" stroke="#111" stroke-width="0.8" />
<line x1="494.50" y1="12.14" x2="496.30" y2="12.14" stroke="#111" stroke-width="0.8" />
<line x1="494.50" y1="9.22" x2="496.30" y2="9.22" stroke="#111" stroke-width="0.8" />
<line x1="494.50" y1="103.78" x2="496.30" y2="103.78" stroke="#111" stroke-width="0.8" />
<line x1="494.50" y1="93.71" x2="496.30" y2="93.71" stroke="#111" stroke-width="0.8" />
<line x1="494.50" y1="86.56" x2="496.30" y2="86.56" stroke="#111" stroke-width="0.8" />
<line x1="494.50" y1="81.02" x2="496.30" y2="81.02" stroke="#111" stroke-width="0.8" />
<line x1="494.50" y1="76.49" x2="496.30" y2="76.49" stroke="#111" stroke-width="0.8" />
<line x1="494.50" y1="72.66" x2="496.30" y2="72.66" stroke="#111" stroke-width="0.8" />
<line x1="494.50" y1="69.34" x2="496.30" y2="69.34" stroke="#111" stroke-width="0.8" />
<line x1="494.50" y1="66.42" x2="496.30" y2="66.42" stroke="#111" stroke-width="0.8" />
<line x1="494.50" y1="160.98" x2="496.30" y2="160.98" stroke="#111" stroke-width="0.8" />
<line x1="494.50" y1="150.91" x2="496.30" y2="150.91" stroke="#111" stroke-width="0.8" />
<line x1="494.50" y1="143.76" x2="496.30" y2="143.76" stroke="#111" stroke-width="0.8" />
<line x1="494.50" y1="138.22" x2="496.30" y2="138.22" stroke="#111" stroke-width="0.8" />
<line x1="494.50" y1="133.69" x2="496.30" y2="133.69" stroke="#111" stroke-width="0.8" />
<line x1="494.50" y1="129.86" x2="496.30" y2="129.86" stroke="#111" stroke-width="0.8" />
<line x1="494.50" y1="126.54" x2="496.30" y2="126.54" stroke="#111" stroke-width="0.8" />
<line x1="494.50" y1="123.62" x2="496.30" y2="123.62" stroke="#111" stroke-width="0.8" />
<line x1="494.50" y1="208.11" x2="496.30" y2="208.11" stroke="#111" stroke-width="0.8" />
<line x1="494.50" y1="200.96" x2="496.30" y2="200.96" stroke="#111" stroke-width="0.8" />
<line x1="494.50" y1="195.42" x2="496.30" y2="195.42" stroke="#111" stroke-width="0.8" />
<line x1="494.50" y1="190.89" x2="496.30" y2="190.89" stroke="#111" stroke-width="0.8" />
<line x1="494.50" y1="187.06" x2="496.30" y2="187.06" stroke="#111" stroke-width="0.8" />
<line x1="494.50" y1="183.74" x2="496.30" y2="183.74" stroke="#111" stroke-width="0.8" />
<line x1="494.50" y1="180.82" x2="496.30" y2="180.82" stroke="#111" stroke-width="0.8" />
<text transform="translate(470.30,99.50) rotate(-90)" font-size="11.5" text-anchor="middle" fill="#1a1a1a">SV count</text>
<line x1="515.60" y1="210.30" x2="515.60" y2="213.40" stroke="#111" stroke-width="1" />
<text x="515.60" y="223.70" font-size="9.8" text-anchor="middle" fill="#1a1a1a" >Het</text>
<line x1="540.95" y1="210.30" x2="540.95" y2="213.40" stroke="#111" stroke-width="1" />
<text x="540.95" y="223.70" font-size="9.8" text-anchor="middle" fill="#1a1a1a" >Hom</text>
<line x1="566.20" y1="210.30" x2="566.20" y2="213.40" stroke="#111" stroke-width="1" />
<text x="566.20" y="223.70" font-size="9.8" text-anchor="middle" fill="#1a1a1a" >Het</text>
<line x1="591.60" y1="210.30" x2="591.60" y2="213.40" stroke="#111" stroke-width="1" />
<text x="591.60" y="223.70" font-size="9.8" text-anchor="middle" fill="#1a1a1a" >Hom</text>
<line x1="617.00" y1="210.30" x2="617.00" y2="213.40" stroke="#111" stroke-width="1" />
<text x="617.00" y="223.70" font-size="9.8" text-anchor="middle" fill="#1a1a1a" >X</text>
<line x1="642.00" y1="210.30" x2="642.00" y2="213.40" stroke="#111" stroke-width="1" />
<text x="642.00" y="223.70" font-size="9.8" text-anchor="middle" fill="#1a1a1a" >Y</text>
<text x="512.50" y="9.90" font-size="8.1" text-anchor="middle" fill="#1a1a1a" >40,500</text>
<text x="512.50" y="19.70" font-size="8.1" text-anchor="middle" fill="#1a1a1a" >70.2%</text>
<text x="539.50" y="9.90" font-size="8.1" text-anchor="middle" fill="#1a1a1a" >14,506</text>
<text x="539.50" y="19.70" font-size="8.1" text-anchor="middle" fill="#1a1a1a" >25.1%</text>
<text x="565.80" y="9.90" font-size="8.1" text-anchor="middle" fill="#1a1a1a" >1,290</text>
<text x="565.80" y="19.70" font-size="8.1" text-anchor="middle" fill="#1a1a1a" >2.2%</text>
<text x="591.40" y="9.90" font-size="8.1" text-anchor="middle" fill="#1a1a1a" >549</text>
<text x="591.40" y="19.70" font-size="8.1" text-anchor="middle" fill="#1a1a1a" >1.0%</text>
<text x="616.30" y="9.90" font-size="8.1" text-anchor="middle" fill="#1a1a1a" >694</text>
<text x="616.30" y="19.70" font-size="8.1" text-anchor="middle" fill="#1a1a1a" >1.2%</text>
<text x="642.00" y="9.90" font-size="8.1" text-anchor="middle" fill="#1a1a1a" >177</text>
<text x="642.00" y="19.70" font-size="8.1" text-anchor="middle" fill="#1a1a1a" >0.3%</text>
<text x="514.90" y="126.90" font-size="8.1" text-anchor="middle" fill="#1a1a1a" >33,701</text>
<text x="540.80" y="140.80" font-size="8.1" text-anchor="middle" fill="#1a1a1a" >6,639</text>
<text x="565.80" y="164.60" font-size="8.1" text-anchor="middle" fill="#1a1a1a" >1,129</text>
<text x="591.20" y="188.40" font-size="8.1" text-anchor="middle" fill="#1a1a1a" >277</text>
<text x="616.50" y="176.60" font-size="8.1" text-anchor="middle" fill="#1a1a1a" >565</text>
<text x="641.70" y="194.50" font-size="8.1" text-anchor="middle" fill="#1a1a1a" >141</text>
<rect x="632" y="42.3" width="4.9" height="5.5" fill="#e8e8e8"/>
<rect x="632" y="52.5" width="4.9" height="5.4" fill="#80b0fc"/>
<text x="641.70" y="48.60" font-size="9.1" text-anchor="start" fill="#1a1a1a" >LC</text>
<text x="641.70" y="57.80" font-size="9.1" text-anchor="start" fill="#1a1a1a" >HC</text>
<rect x="496.4" y="228.1" width="162.2" height="34.4" fill="#f6f6f6" stroke="#8a8a8a" stroke-width="1"/>
<line x1="553.80" y1="228.10" x2="553.80" y2="262.50" stroke="#777" stroke-width="0.9" stroke-dasharray="3 1.8"/>
<line x1="603.90" y1="228.10" x2="603.90" y2="246.80" stroke="#777" stroke-width="0.9" stroke-dasharray="3 1.8"/>
<line x1="553.80" y1="246.80" x2="658.60" y2="246.80" stroke="#999" stroke-width="1.2" stroke-dasharray="3 1.8"/>
<text x="499.80" y="247.00" font-size="9.95" text-anchor="start" fill="#1a1a1a" >Autosomes</text>
<text x="559.30" y="240.60" font-size="9.95" text-anchor="start" fill="#1a1a1a" >FemaleX</text>
<text x="613.30" y="240.50" font-size="9.95" text-anchor="start" fill="#1a1a1a" >MaleXY</text>
<text x="563.30" y="257.70" font-size="9.95" text-anchor="start" fill="#1a1a1a" >Sex chromosomes</text>
<text x="502.70" y="278.60" font-size="11.6" text-anchor="start" fill="#1a1a1a" >Composition of rare SV pool</text>
<line x1="42.50" y1="297.50" x2="42.50" y2="496.40" stroke="#333" stroke-width="1.1" />
<line x1="42.00" y1="495.90" x2="339.60" y2="495.90" stroke="#333" stroke-width="1.1" />
<line x1="38.90" y1="488.00" x2="42.50" y2="488.00" stroke="#333" stroke-width="1" />
<text x="36.20" y="490.50" font-size="8.2" text-anchor="end" fill="#262626" >0</text>
<line x1="38.90" y1="453.68" x2="42.50" y2="453.68" stroke="#333" stroke-width="1" />
<text x="36.20" y="456.18" font-size="8.2" text-anchor="end" fill="#262626" >100</text>
<line x1="38.90" y1="419.36" x2="42.50" y2="419.36" stroke="#333" stroke-width="1" />
<text x="36.20" y="421.86" font-size="8.2" text-anchor="end" fill="#262626" >200</text>
<line x1="38.90" y1="385.04" x2="42.50" y2="385.04" stroke="#333" stroke-width="1" />
<text x="36.20" y="387.54" font-size="8.2" text-anchor="end" fill="#262626" >300</text>
<line x1="38.90" y1="350.72" x2="42.50" y2="350.72" stroke="#333" stroke-width="1" />
<text x="36.20" y="353.22" font-size="8.2" text-anchor="end" fill="#262626" >400</text>
<line x1="38.90" y1="316.40" x2="42.50" y2="316.40" stroke="#333" stroke-width="1" />
<text x="36.20" y="318.90" font-size="8.2" text-anchor="end" fill="#262626" >500</text>
<line x1="60.60" y1="495.90" x2="60.60" y2="498.80" stroke="#333" stroke-width="1" />
<text x="60.60" y="510.30" font-size="10.0" text-anchor="middle" fill="#1a1a1a" >Total</text>
<line x1="86.69" y1="495.90" x2="86.69" y2="498.80" stroke="#333" stroke-width="1" />
<text x="86.69" y="510.30" font-size="10.0" text-anchor="middle" fill="#1a1a1a" >Exon</text>
<line x1="112.78" y1="495.90" x2="112.78" y2="498.80" stroke="#333" stroke-width="1" />
<text x="112.78" y="510.30" font-size="10.0" text-anchor="middle" fill="#1a1a1a" >Inter</text>
<line x1="138.87" y1="495.90" x2="138.87" y2="498.80" stroke="#333" stroke-width="1" />
<text x="138.87" y="510.30" font-size="10.0" text-anchor="middle" fill="#1a1a1a" >Intron</text>
<line x1="164.96" y1="495.90" x2="164.96" y2="498.80" stroke="#333" stroke-width="1" />
<text x="164.96" y="510.30" font-size="10.0" text-anchor="middle" fill="#1a1a1a" >DEL</text>
<line x1="191.05" y1="495.90" x2="191.05" y2="498.80" stroke="#333" stroke-width="1" />
<text x="191.05" y="510.30" font-size="10.0" text-anchor="middle" fill="#1a1a1a" >INS</text>
<line x1="217.14" y1="495.90" x2="217.14" y2="498.80" stroke="#333" stroke-width="1" />
<text x="217.14" y="510.30" font-size="10.0" text-anchor="middle" fill="#1a1a1a" >Mat</text>
<line x1="243.23" y1="495.90" x2="243.23" y2="498.80" stroke="#333" stroke-width="1" />
<text x="243.23" y="510.30" font-size="10.0" text-anchor="middle" fill="#1a1a1a" >Pat</text>
<line x1="269.32" y1="495.90" x2="269.32" y2="498.80" stroke="#333" stroke-width="1" />
<text x="269.32" y="510.30" font-size="10.0" text-anchor="middle" fill="#1a1a1a" >NDD</text>
<line x1="295.41" y1="495.90" x2="295.41" y2="498.80" stroke="#333" stroke-width="1" />
<text x="295.41" y="510.30" font-size="10.0" text-anchor="middle" fill="#1a1a1a" >REG</text>
<line x1="321.50" y1="495.90" x2="321.50" y2="498.80" stroke="#333" stroke-width="1" />
<text x="328.30" y="510.30" font-size="10.0" text-anchor="middle" fill="#1a1a1a" >brainREG</text>
<text transform="translate(14.70,386.50) rotate(-90)" font-size="11.5" text-anchor="middle" fill="#1a1a1a">Private SVs per child</text>
<text x="165.00" y="318.70" font-size="11.5" text-anchor="start" fill="#1a1a1a" >Autosome</text>
<rect x="49.95" y="419.50" width="10.4" height="18.00" fill="#ff1493" fill-opacity="0.5" stroke="#666" stroke-opacity="0.6" stroke-width="0.8"/>
<line x1="55.15" y1="419.50" x2="55.15" y2="395.60" stroke="#5a5a5a" stroke-width="0.9" stroke-opacity="0.85"/>
<line x1="55.15" y1="437.50" x2="55.15" y2="448.30" stroke="#5a5a5a" stroke-width="0.9" stroke-opacity="0.85"/>
<line x1="52.55" y1="395.60" x2="57.75" y2="395.60" stroke="#444" stroke-width="1.0" />
<line x1="52.55" y1="448.30" x2="57.75" y2="448.30" stroke="#444" stroke-width="1.0" />
<circle cx="54.62" cy="448.30" r="2.1" fill="#ff1493" fill-opacity="0.27"/>
<circle cx="54.10" cy="446.34" r="2.1" fill="#ff1493" fill-opacity="0.27"/>
<circle cx="55.60" cy="444.59" r="2.1" fill="#ff1493" fill-opacity="0.27"/>
<circle cx="53.87" cy="443.05" r="2.1" fill="#ff1493" fill-opacity="0.27"/>
<circle cx="55.26" cy="441.72" r="2.1" fill="#ff1493" fill-opacity="0.27"/>
<circle cx="54.75" cy="440.58" r="2.1" fill="#ff1493" fill-opacity="0.27"/>
<circle cx="53.82" cy="439.63" r="2.1" fill="#ff1493" fill-opacity="0.27"/>
<circle cx="55.17" cy="438.87" r="2.1" fill="#ff1493" fill-opacity="0.27"/>
<circle cx="53.76" cy="438.29" r="2.1" fill="#ff1493" fill-opacity="0.27"/>
<circle cx="54.95" cy="437.88" r="2.1" fill="#ff1493" fill-opacity="0.27"/>
<circle cx="53.86" cy="437.62" r="2.1" fill="#ff1493" fill-opacity="0.27"/>
<circle cx="53.92" cy="437.51" r="2.1" fill="#ff1493" fill-opacity="0.27"/>
<circle cx="54.92" cy="437.21" r="2.1" fill="#ff1493" fill-opacity="0.27"/>
<circle cx="56.13" cy="436.63" r="2.1" fill="#ff1493" fill-opacity="0.27"/>
<circle cx="54.02" cy="436.04" r="2.1" fill="#ff1493" fill-opacity="0.27"/>
<circle cx="54.32" cy="435.46" r="2.1" fill="#ff1493" fill-opacity="0.27"/>
<circle cx="55.53" cy="434.88" r="2.1" fill="#ff1493" fill-opacity="0.27"/>
<circle cx="56.49" cy="434.30" r="2.1" fill="#ff1493" fill-opacity="0.27"/>
<circle cx="55.38" cy="433.71" r="2.1" fill="#ff1493" fill-opacity="0.27"/>
<circle cx="54.84" cy="433.13" r="2.1" fill="#ff1493" fill-opacity="0.27"/>
<circle cx="56.58" cy="432.55" r="2.1" fill="#ff1493" fill-opacity="0.27"/>
<circle cx="53.79" cy="431.97" r="2.1" fill="#ff1493" fill-opacity="0.27"/>
<circle cx="56.23" cy="431.38" r="2.1" fill="#ff1493" fill-opacity="0.27"/>
<circle cx="54.52" cy="430.80" r="2.1" fill="#ff1493" fill-opacity="0.27"/>
<circle cx="54.08" cy="429.82" r="2.1" fill="#ff1493" fill-opacity="0.27"/>
<circle cx="54.00" cy="428.83" r="2.1" fill="#ff1493" fill-opacity="0.27"/>
<circle cx="54.58" cy="427.85" r="2.1" fill="#ff1493" fill-opacity="0.27"/>
<circle cx="56.10" cy="426.87" r="2.1" fill="#ff1493" fill-opacity="0.27"/>
<circle cx="54.19" cy="425.89" r="2.1" fill="#ff1493" fill-opacity="0.27"/>
<circle cx="55.39" cy="424.90" r="2.1" fill="#ff1493" fill-opacity="0.27"/>
<circle cx="55.57" cy="423.92" r="2.1" fill="#ff1493" fill-opacity="0.27"/>
<circle cx="54.77" cy="422.94" r="2.1" fill="#ff1493" fill-opacity="0.27"/>
<circle cx="55.29" cy="421.96" r="2.1" fill="#ff1493" fill-opacity="0.27"/>
<circle cx="53.84" cy="420.97" r="2.1" fill="#ff1493" fill-opacity="0.27"/>
<circle cx="53.83" cy="419.99" r="2.1" fill="#ff1493" fill-opacity="0.27"/>
<circle cx="54.27" cy="419.48" r="2.1" fill="#ff1493" fill-opacity="0.27"/>
<circle cx="55.69" cy="419.23" r="2.1" fill="#ff1493" fill-opacity="0.27"/>
<circle cx="54.93" cy="418.67" r="2.1" fill="#ff1493" fill-opacity="0.27"/>
<circle cx="54.59" cy="417.75" r="2.1" fill="#ff1493" fill-opacity="0.27"/>
<circle cx="55.41" cy="416.47" r="2.1" fill="#ff1493" fill-opacity="0.27"/>
<circle cx="55.01" cy="414.78" r="2.1" fill="#ff1493" fill-opacity="0.27"/>
<circle cx="54.55" cy="412.69" r="2.1" fill="#ff1493" fill-opacity="0.27"/>
<circle cx="56.03" cy="410.17" r="2.1" fill="#ff1493" fill-opacity="0.27"/>
<circle cx="55.75" cy="407.21" r="2.1" fill="#ff1493" fill-opacity="0.27"/>
<circle cx="54.38" cy="403.80" r="2.1" fill="#ff1493" fill-opacity="0.27"/>
<circle cx="55.37" cy="399.94" r="2.1" fill="#ff1493" fill-opacity="0.27"/>
<circle cx="55.23" cy="395.60" r="2.1" fill="#ff1493" fill-opacity="0.27"/>
<circle cx="56.28" cy="304.80" r="2.1" fill="#ff1493" fill-opacity="0.27"/>
<circle cx="55.84" cy="364.90" r="2.1" fill="#ff1493" fill-opacity="0.27"/>
<circle cx="54.51" cy="386.60" r="2.1" fill="#ff1493" fill-opacity="0.27"/>
<circle cx="56.59" cy="390.00" r="2.1" fill="#ff1493" fill-opacity="0.27"/>
<line x1="49.95" y1="430.80" x2="60.35" y2="430.80" stroke="#555" stroke-width="0.9" stroke-opacity="0.75"/>
<line x1="55.15" y1="419.50" x2="55.15" y2="395.60" stroke="#5a5a5a" stroke-width="0.7" stroke-opacity="0.45"/>
<line x1="55.15" y1="437.50" x2="55.15" y2="448.30" stroke="#5a5a5a" stroke-width="0.7" stroke-opacity="0.45"/>
<line x1="49.95" y1="424.20" x2="60.35" y2="424.20" stroke="#000" stroke-width="1.4" />
<rect x="60.60" y="415.20" width="10.4" height="21.00" fill="#808080" fill-opacity="0.5" stroke="#666" stroke-opacity="0.6" stroke-width="0.8"/>
<line x1="65.80" y1="415.20" x2="65.80" y2="384.70" stroke="#5a5a5a" stroke-width="0.9" stroke-opacity="0.85"/>
<line x1="65.80" y1="436.20" x2="65.80" y2="444.00" stroke="#5a5a5a" stroke-width="0.9" stroke-opacity="0.85"/>
<line x1="63.20" y1="384.70" x2="68.40" y2="384.70" stroke="#444" stroke-width="1.0" />
<line x1="63.20" y1="444.00" x2="68.40" y2="444.00" stroke="#444" stroke-width="1.0" />
<circle cx="64.65" cy="444.00" r="2.1" fill="#808080" fill-opacity="0.27"/>
<circle cx="65.55" cy="442.01" r="2.1" fill="#808080" fill-opacity="0.27"/>
<circle cx="66.57" cy="440.34" r="2.1" fill="#808080" fill-opacity="0.27"/>
<circle cx="64.76" cy="438.97" r="2.1" fill="#808080" fill-opacity="0.27"/>
<circle cx="65.77" cy="437.90" r="2.1" fill="#808080" fill-opacity="0.27"/>
<circle cx="64.42" cy="437.10" r="2.1" fill="#808080" fill-opacity="0.27"/>
<circle cx="66.30" cy="436.57" r="2.1" fill="#808080" fill-opacity="0.27"/>
<circle cx="66.59" cy="436.28" r="2.1" fill="#808080" fill-opacity="0.27"/>
<circle cx="66.02" cy="436.20" r="2.1" fill="#808080" fill-opacity="0.27"/>
<circle cx="66.93" cy="435.43" r="2.1" fill="#808080" fill-opacity="0.27"/>
<circle cx="65.24" cy="434.65" r="2.1" fill="#808080" fill-opacity="0.27"/>
<circle cx="66.39" cy="433.88" r="2.1" fill="#808080" fill-opacity="0.27"/>
<circle cx="66.08" cy="433.10" r="2.1" fill="#808080" fill-opacity="0.27"/>
<circle cx="66.04" cy="432.32" r="2.1" fill="#808080" fill-opacity="0.27"/>
<circle cx="65.67" cy="431.55" r="2.1" fill="#808080" fill-opacity="0.27"/>
<circle cx="66.82" cy="430.77" r="2.1" fill="#808080" fill-opacity="0.27"/>
<circle cx="67.13" cy="430.00" r="2.1" fill="#808080" fill-opacity="0.27"/>
<circle cx="65.72" cy="428.15" r="2.1" fill="#808080" fill-opacity="0.27"/>
<circle cx="66.29" cy="426.30" r="2.1" fill="#808080" fill-opacity="0.27"/>
<circle cx="64.48" cy="424.45" r="2.1" fill="#808080" fill-opacity="0.27"/>
<circle cx="66.40" cy="422.60" r="2.1" fill="#808080" fill-opacity="0.27"/>
<circle cx="66.24" cy="420.75" r="2.1" fill="#808080" fill-opacity="0.27"/>
<circle cx="67.28" cy="418.90" r="2.1" fill="#808080" fill-opacity="0.27"/>
<circle cx="66.77" cy="417.05" r="2.1" fill="#808080" fill-opacity="0.27"/>
<circle cx="65.15" cy="415.20" r="2.1" fill="#808080" fill-opacity="0.27"/>
<circle cx="65.46" cy="414.89" r="2.1" fill="#808080" fill-opacity="0.27"/>
<circle cx="66.31" cy="413.76" r="2.1" fill="#808080" fill-opacity="0.27"/>
<circle cx="64.37" cy="411.67" r="2.1" fill="#808080" fill-opacity="0.27"/>
<circle cx="65.69" cy="408.56" r="2.1" fill="#808080" fill-opacity="0.27"/>
<circle cx="64.80" cy="404.35" r="2.1" fill="#808080" fill-opacity="0.27"/>
<circle cx="64.65" cy="399.00" r="2.1" fill="#808080" fill-opacity="0.27"/>
<circle cx="64.48" cy="392.46" r="2.1" fill="#808080" fill-opacity="0.27"/>
<circle cx="66.60" cy="384.70" r="2.1" fill="#808080" fill-opacity="0.27"/>
<circle cx="64.69" cy="306.40" r="2.1" fill="#808080" fill-opacity="0.27"/>
<circle cx="65.04" cy="371.30" r="2.1" fill="#808080" fill-opacity="0.27"/>
<circle cx="65.47" cy="374.80" r="2.1" fill="#808080" fill-opacity="0.27"/>
<line x1="60.60" y1="430.00" x2="71.00" y2="430.00" stroke="#555" stroke-width="0.9" stroke-opacity="0.75"/>
<line x1="65.80" y1="415.20" x2="65.80" y2="384.70" stroke="#5a5a5a" stroke-width="0.7" stroke-opacity="0.45"/>
<line x1="65.80" y1="436.20" x2="65.80" y2="444.00" stroke="#5a5a5a" stroke-width="0.7" stroke-opacity="0.45"/>
<line x1="60.60" y1="421.00" x2="71.00" y2="421.00" stroke="#000" stroke-width="1.4" />
<rect x="76.04" y="483.60" width="10.4" height="2.00" fill="#ff1493" fill-opacity="0.5" stroke="#666" stroke-opacity="0.6" stroke-width="0.8"/>
<line x1="81.24" y1="483.60" x2="81.24" y2="482.00" stroke="#5a5a5a" stroke-width="0.9" stroke-opacity="0.85"/>
<line x1="81.24" y1="485.60" x2="81.24" y2="487.30" stroke="#5a5a5a" stroke-width="0.9" stroke-opacity="0.85"/>
<line x1="78.64" y1="482.00" x2="83.84" y2="482.00" stroke="#444" stroke-width="1.0" />
<line x1="78.64" y1="487.30" x2="83.84" y2="487.30" stroke="#444" stroke-width="1.0" />
<circle cx="82.35" cy="487.30" r="2.1" fill="#ff1493" fill-opacity="0.27"/>
<circle cx="79.98" cy="487.00" r="2.1" fill="#ff1493" fill-opacity="0.27"/>
<circle cx="81.09" cy="486.74" r="2.1" fill="#ff1493" fill-opacity="0.27"/>
<circle cx="81.39" cy="486.50" r="2.1" fill="#ff1493" fill-opacity="0.27"/>
<circle cx="82.39" cy="486.30" r="2.1" fill="#ff1493" fill-opacity="0.27"/>
<circle cx="82.20" cy="486.12" r="2.1" fill="#ff1493" fill-opacity="0.27"/>
<circle cx="82.33" cy="485.97" r="2.1" fill="#ff1493" fill-opacity="0.27"/>
<circle cx="80.58" cy="485.85" r="2.1" fill="#ff1493" fill-opacity="0.27"/>
<circle cx="80.99" cy="485.75" r="2.1" fill="#ff1493" fill-opacity="0.27"/>
<circle cx="80.82" cy="485.68" r="2.1" fill="#ff1493" fill-opacity="0.27"/>
<circle cx="82.39" cy="485.63" r="2.1" fill="#ff1493" fill-opacity="0.27"/>
<circle cx="82.61" cy="485.61" r="2.1" fill="#ff1493" fill-opacity="0.27"/>
<circle cx="80.19" cy="485.60" r="2.1" fill="#ff1493" fill-opacity="0.27"/>
<circle cx="80.27" cy="485.53" r="2.1" fill="#ff1493" fill-opacity="0.27"/>
<circle cx="80.44" cy="485.47" r="2.1" fill="#ff1493" fill-opacity="0.27"/>
<circle cx="80.44" cy="485.40" r="2.1" fill="#ff1493" fill-opacity="0.27"/>
<circle cx="81.19" cy="485.33" r="2.1" fill="#ff1493" fill-opacity="0.27"/>
<circle cx="81.51" cy="485.27" r="2.1" fill="#ff1493" fill-opacity="0.27"/>
<circle cx="80.53" cy="485.20" r="2.1" fill="#ff1493" fill-opacity="0.27"/>
<circle cx="79.75" cy="485.13" r="2.1" fill="#ff1493" fill-opacity="0.27"/>
<circle cx="81.00" cy="485.07" r="2.1" fill="#ff1493" fill-opacity="0.27"/>
<circle cx="80.85" cy="485.00" r="2.1" fill="#ff1493" fill-opacity="0.27"/>
<circle cx="81.44" cy="484.93" r="2.1" fill="#ff1493" fill-opacity="0.27"/>
<circle cx="82.60" cy="484.87" r="2.1" fill="#ff1493" fill-opacity="0.27"/>
<circle cx="81.81" cy="484.80" r="2.1" fill="#ff1493" fill-opacity="0.27"/>
<circle cx="81.29" cy="484.70" r="2.1" fill="#ff1493" fill-opacity="0.27"/>
<circle cx="81.59" cy="484.60" r="2.1" fill="#ff1493" fill-opacity="0.27"/>
<circle cx="81.77" cy="484.50" r="2.1" fill="#ff1493" fill-opacity="0.27"/>
<circle cx="79.90" cy="484.40" r="2.1" fill="#ff1493" fill-opacity="0.27"/>
<circle cx="82.44" cy="484.30" r="2.1" fill="#ff1493" fill-opacity="0.27"/>
<circle cx="82.08" cy="484.20" r="2.1" fill="#ff1493" fill-opacity="0.27"/>
<circle cx="82.36" cy="484.10" r="2.1" fill="#ff1493" fill-opacity="0.27"/>
<circle cx="82.13" cy="484.00" r="2.1" fill="#ff1493" fill-opacity="0.27"/>
<circle cx="80.92" cy="483.90" r="2.1" fill="#ff1493" fill-opacity="0.27"/>
<circle cx="80.94" cy="483.80" r="2.1" fill="#ff1493" fill-opacity="0.27"/>
<circle cx="80.05" cy="483.70" r="2.1" fill="#ff1493" fill-opacity="0.27"/>
<circle cx="81.64" cy="483.60" r="2.1" fill="#ff1493" fill-opacity="0.27"/>
<circle cx="79.93" cy="483.59" r="2.1" fill="#ff1493" fill-opacity="0.27"/>
<circle cx="79.94" cy="483.57" r="2.1" fill="#ff1493" fill-opacity="0.27"/>
<circle cx="80.37" cy="483.52" r="2.1" fill="#ff1493" fill-opacity="0.27"/>
<circle cx="80.23" cy="483.46" r="2.1" fill="#ff1493" fill-opacity="0.27"/>
<circle cx="80.76" cy="483.37" r="2.1" fill="#ff1493" fill-opacity="0.27"/>
<circle cx="79.90" cy="483.25" r="2.1" fill="#ff1493" fill-opacity="0.27"/>
<circle cx="79.74" cy="483.11" r="2.1" fill="#ff1493" fill-opacity="0.27"/>
<circle cx="80.19" cy="482.94" r="2.1" fill="#ff1493" fill-opacity="0.27"/>
<circle cx="80.04" cy="482.75" r="2.1" fill="#ff1493" fill-opacity="0.27"/>
<circle cx="80.83" cy="482.53" r="2.1" fill="#ff1493" fill-opacity="0.27"/>
<circle cx="79.82" cy="482.28" r="2.1" fill="#ff1493" fill-opacity="0.27"/>
<circle cx="82.36" cy="482.00" r="2.1" fill="#ff1493" fill-opacity="0.27"/>
<circle cx="81.58" cy="478.20" r="2.1" fill="#ff1493" fill-opacity="0.27"/>
<circle cx="80.19" cy="475.60" r="2.1" fill="#ff1493" fill-opacity="0.27"/>
<line x1="76.04" y1="484.80" x2="86.44" y2="484.80" stroke="#555" stroke-width="0.9" stroke-opacity="0.75"/>
<line x1="81.24" y1="483.60" x2="81.24" y2="482.00" stroke="#5a5a5a" stroke-width="0.7" stroke-opacity="0.45"/>
<line x1="81.24" y1="485.60" x2="81.24" y2="487.30" stroke="#5a5a5a" stroke-width="0.7" stroke-opacity="0.45"/>
<line x1="76.04" y1="484.60" x2="86.44" y2="484.60" stroke="#000" stroke-width="1.4" />
<rect x="86.69" y="483.60" width="10.4" height="2.00" fill="#808080" fill-opacity="0.5" stroke="#666" stroke-opacity="0.6" stroke-width="0.8"/>
<line x1="91.89" y1="483.60" x2="91.89" y2="482.20" stroke="#5a5a5a" stroke-width="0.9" stroke-opacity="0.85"/>
<line x1="91.89" y1="485.60" x2="91.89" y2="487.00" stroke="#5a5a5a" stroke-width="0.9" stroke-opacity="0.85"/>
<line x1="89.29" y1="482.20" x2="94.49" y2="482.20" stroke="#444" stroke-width="1.0" />
<line x1="89.29" y1="487.00" x2="94.49" y2="487.00" stroke="#444" stroke-width="1.0" />
<circle cx="91.15" cy="487.00" r="2.1" fill="#808080" fill-opacity="0.27"/>
<circle cx="91.43" cy="486.66" r="2.1" fill="#808080" fill-opacity="0.27"/>
<circle cx="91.48" cy="486.38" r="2.1" fill="#808080" fill-opacity="0.27"/>
<circle cx="90.76" cy="486.14" r="2.1" fill="#808080" fill-opacity="0.27"/>
<circle cx="92.94" cy="485.95" r="2.1" fill="#808080" fill-opacity="0.27"/>
<circle cx="93.37" cy="485.80" r="2.1" fill="#808080" fill-opacity="0.27"/>
<circle cx="91.79" cy="485.69" r="2.1" fill="#808080" fill-opacity="0.27"/>
<circle cx="91.84" cy="485.63" r="2.1" fill="#808080" fill-opacity="0.27"/>
<circle cx="90.65" cy="485.60" r="2.1" fill="#808080" fill-opacity="0.27"/>
<circle cx="90.70" cy="485.55" r="2.1" fill="#808080" fill-opacity="0.27"/>
<circle cx="91.42" cy="485.46" r="2.1" fill="#808080" fill-opacity="0.27"/>
<circle cx="91.18" cy="485.36" r="2.1" fill="#808080" fill-opacity="0.27"/>
<circle cx="92.88" cy="485.27" r="2.1" fill="#808080" fill-opacity="0.27"/>
<circle cx="90.87" cy="485.18" r="2.1" fill="#808080" fill-opacity="0.27"/>
<circle cx="90.46" cy="485.08" r="2.1" fill="#808080" fill-opacity="0.27"/>
<circle cx="93.24" cy="484.99" r="2.1" fill="#808080" fill-opacity="0.27"/>
<circle cx="91.97" cy="484.89" r="2.1" fill="#808080" fill-opacity="0.27"/>
<circle cx="90.83" cy="484.80" r="2.1" fill="#808080" fill-opacity="0.27"/>
<circle cx="92.02" cy="484.66" r="2.1" fill="#808080" fill-opacity="0.27"/>
<circle cx="90.47" cy="484.52" r="2.1" fill="#808080" fill-opacity="0.27"/>
<circle cx="91.97" cy="484.38" r="2.1" fill="#808080" fill-opacity="0.27"/>
<circle cx="93.33" cy="484.24" r="2.1" fill="#808080" fill-opacity="0.27"/>
<circle cx="92.98" cy="484.09" r="2.1" fill="#808080" fill-opacity="0.27"/>
<circle cx="92.48" cy="483.95" r="2.1" fill="#808080" fill-opacity="0.27"/>
<circle cx="91.17" cy="483.81" r="2.1" fill="#808080" fill-opacity="0.27"/>
<circle cx="91.49" cy="483.67" r="2.1" fill="#808080" fill-opacity="0.27"/>
<circle cx="90.89" cy="483.60" r="2.1" fill="#808080" fill-opacity="0.27"/>
<circle cx="92.71" cy="483.57" r="2.1" fill="#808080" fill-opacity="0.27"/>
<circle cx="91.99" cy="483.51" r="2.1" fill="#808080" fill-opacity="0.27"/>
<circle cx="92.73" cy="483.40" r="2.1" fill="#808080" fill-opacity="0.27"/>
<circle cx="91.38" cy="483.25" r="2.1" fill="#808080" fill-opacity="0.27"/>
<circle cx="91.06" cy="483.06" r="2.1" fill="#808080" fill-opacity="0.27"/>
<circle cx="92.82" cy="482.82" r="2.1" fill="#808080" fill-opacity="0.27"/>
<circle cx="93.34" cy="482.54" r="2.1" fill="#808080" fill-opacity="0.27"/>
<circle cx="92.95" cy="482.20" r="2.1" fill="#808080" fill-opacity="0.27"/>
<circle cx="92.81" cy="478.60" r="2.1" fill="#808080" fill-opacity="0.27"/>
<line x1="86.69" y1="484.80" x2="97.09" y2="484.80" stroke="#555" stroke-width="0.9" stroke-opacity="0.75"/>
<line x1="91.89" y1="483.60" x2="91.89" y2="482.20" stroke="#5a5a5a" stroke-width="0.7" stroke-opacity="0.45"/>
<line x1="91.89" y1="485.60" x2="91.89" y2="487.00" stroke="#5a5a5a" stroke-width="0.7" stroke-opacity="0.45"/>
<line x1="86.69" y1="484.60" x2="97.09" y2="484.60" stroke="#000" stroke-width="1.4" />
<rect x="102.13" y="460.90" width="10.4" height="6.70" fill="#ff1493" fill-opacity="0.5" stroke="#666" stroke-opacity="0.6" stroke-width="0.8"/>
<line x1="107.33" y1="460.90" x2="107.33" y2="449.20" stroke="#5a5a5a" stroke-width="0.9" stroke-opacity="0.85"/>
<line x1="107.33" y1="467.60" x2="107.33" y2="475.00" stroke="#5a5a5a" stroke-width="0.9" stroke-opacity="0.85"/>
<line x1="104.73" y1="449.20" x2="109.93" y2="449.20" stroke="#444" stroke-width="1.0" />
<line x1="104.73" y1="475.00" x2="109.93" y2="475.00" stroke="#444" stroke-width="1.0" />
<circle cx="108.28" cy="475.00" r="2.1" fill="#ff1493" fill-opacity="0.27"/>
<circle cx="108.05" cy="473.68" r="2.1" fill="#ff1493" fill-opacity="0.27"/>
<circle cx="106.51" cy="472.51" r="2.1" fill="#ff1493" fill-opacity="0.27"/>
<circle cx="107.38" cy="471.47" r="2.1" fill="#ff1493" fill-opacity="0.27"/>
<circle cx="106.90" cy="470.56" r="2.1" fill="#ff1493" fill-opacity="0.27"/>
<circle cx="105.92" cy="469.79" r="2.1" fill="#ff1493" fill-opacity="0.27"/>
<circle cx="105.91" cy="469.14" r="2.1" fill="#ff1493" fill-opacity="0.27"/>
<circle cx="106.67" cy="468.61" r="2.1" fill="#ff1493" fill-opacity="0.27"/>
<circle cx="106.61" cy="468.20" r="2.1" fill="#ff1493" fill-opacity="0.27"/>
<circle cx="107.91" cy="467.90" r="2.1" fill="#ff1493" fill-opacity="0.27"/>
<circle cx="108.70" cy="467.71" r="2.1" fill="#ff1493" fill-opacity="0.27"/>
<circle cx="107.17" cy="467.62" r="2.1" fill="#ff1493" fill-opacity="0.27"/>
<circle cx="108.64" cy="467.52" r="2.1" fill="#ff1493" fill-opacity="0.27"/>
<circle cx="108.79" cy="467.22" r="2.1" fill="#ff1493" fill-opacity="0.27"/>
<circle cx="108.70" cy="466.91" r="2.1" fill="#ff1493" fill-opacity="0.27"/>
<circle cx="106.92" cy="466.60" r="2.1" fill="#ff1493" fill-opacity="0.27"/>
<circle cx="106.49" cy="466.30" r="2.1" fill="#ff1493" fill-opacity="0.27"/>
<circle cx="106.51" cy="465.99" r="2.1" fill="#ff1493" fill-opacity="0.27"/>
<circle cx="106.42" cy="465.69" r="2.1" fill="#ff1493" fill-opacity="0.27"/>
<circle cx="106.44" cy="465.38" r="2.1" fill="#ff1493" fill-opacity="0.27"/>
<circle cx="107.70" cy="465.07" r="2.1" fill="#ff1493" fill-opacity="0.27"/>
<circle cx="108.53" cy="464.77" r="2.1" fill="#ff1493" fill-opacity="0.27"/>
<circle cx="108.35" cy="464.46" r="2.1" fill="#ff1493" fill-opacity="0.27"/>
<circle cx="107.27" cy="464.15" r="2.1" fill="#ff1493" fill-opacity="0.27"/>
<circle cx="107.79" cy="463.87" r="2.1" fill="#ff1493" fill-opacity="0.27"/>
<circle cx="108.23" cy="463.60" r="2.1" fill="#ff1493" fill-opacity="0.27"/>
<circle cx="106.08" cy="463.34" r="2.1" fill="#ff1493" fill-opacity="0.27"/>
<circle cx="107.81" cy="463.08" r="2.1" fill="#ff1493" fill-opacity="0.27"/>
<circle cx="108.56" cy="462.81" r="2.1" fill="#ff1493" fill-opacity="0.27"/>
<circle cx="108.18" cy="462.55" r="2.1" fill="#ff1493" fill-opacity="0.27"/>
<circle cx="108.08" cy="462.29" r="2.1" fill="#ff1493" fill-opacity="0.27"/>
<circle cx="107.26" cy="462.02" r="2.1" fill="#ff1493" fill-opacity="0.27"/>
<circle cx="106.37" cy="461.76" r="2.1" fill="#ff1493" fill-opacity="0.27"/>
<circle cx="108.20" cy="461.49" r="2.1" fill="#ff1493" fill-opacity="0.27"/>
<circle cx="106.83" cy="461.23" r="2.1" fill="#ff1493" fill-opacity="0.27"/>
<circle cx="108.23" cy="460.97" r="2.1" fill="#ff1493" fill-opacity="0.27"/>
<circle cx="108.74" cy="460.87" r="2.1" fill="#ff1493" fill-opacity="0.27"/>
<circle cx="107.02" cy="460.72" r="2.1" fill="#ff1493" fill-opacity="0.27"/>
<circle cx="107.03" cy="460.42" r="2.1" fill="#ff1493" fill-opacity="0.27"/>
<circle cx="108.67" cy="459.95" r="2.1" fill="#ff1493" fill-opacity="0.27"/>
<circle cx="108.00" cy="459.30" r="2.1" fill="#ff1493" fill-opacity="0.27"/>
<circle cx="106.34" cy="458.47" r="2.1" fill="#ff1493" fill-opacity="0.27"/>
<circle cx="106.21" cy="457.44" r="2.1" fill="#ff1493" fill-opacity="0.27"/>
<circle cx="106.28" cy="456.22" r="2.1" fill="#ff1493" fill-opacity="0.27"/>
<circle cx="108.54" cy="454.78" r="2.1" fill="#ff1493" fill-opacity="0.27"/>
<circle cx="108.25" cy="453.14" r="2.1" fill="#ff1493" fill-opacity="0.27"/>
<circle cx="106.27" cy="451.28" r="2.1" fill="#ff1493" fill-opacity="0.27"/>
<circle cx="108.31" cy="449.20" r="2.1" fill="#ff1493" fill-opacity="0.27"/>
<circle cx="108.77" cy="408.60" r="2.1" fill="#ff1493" fill-opacity="0.27"/>
<circle cx="107.80" cy="445.30" r="2.1" fill="#ff1493" fill-opacity="0.27"/>
<circle cx="106.88" cy="447.00" r="2.1" fill="#ff1493" fill-opacity="0.27"/>
<line x1="102.13" y1="464.00" x2="112.53" y2="464.00" stroke="#555" stroke-width="0.9" stroke-opacity="0.75"/>
<line x1="107.33" y1="460.90" x2="107.33" y2="449.20" stroke="#5a5a5a" stroke-width="0.7" stroke-opacity="0.45"/>
<line x1="107.33" y1="467.60" x2="107.33" y2="475.00" stroke="#5a5a5a" stroke-width="0.7" stroke-opacity="0.45"/>
<line x1="102.13" y1="461.40" x2="112.53" y2="461.40" stroke="#000" stroke-width="1.4" />
<rect x="112.78" y="456.40" width="10.4" height="10.00" fill="#808080" fill-opacity="0.5" stroke="#666" stroke-opacity="0.6" stroke-width="0.8"/>
<line x1="117.98" y1="456.40" x2="117.98" y2="444.10" stroke="#5a5a5a" stroke-width="0.9" stroke-opacity="0.85"/>
<line x1="117.98" y1="466.40" x2="117.98" y2="473.50" stroke="#5a5a5a" stroke-width="0.9" stroke-opacity="0.85"/>
<line x1="115.38" y1="444.10" x2="120.58" y2="444.10" stroke="#444" stroke-width="1.0" />
<line x1="115.38" y1="473.50" x2="120.58" y2="473.50" stroke="#444" stroke-width="1.0" />
<circle cx="118.13" cy="473.50" r="2.1" fill="#808080" fill-opacity="0.27"/>
<circle cx="116.87" cy="471.74" r="2.1" fill="#808080" fill-opacity="0.27"/>
<circle cx="116.52" cy="470.25" r="2.1" fill="#808080" fill-opacity="0.27"/>
<circle cx="119.39" cy="469.03" r="2.1" fill="#808080" fill-opacity="0.27"/>
<circle cx="118.43" cy="468.05" r="2.1" fill="#808080" fill-opacity="0.27"/>
<circle cx="118.06" cy="467.31" r="2.1" fill="#808080" fill-opacity="0.27"/>
<circle cx="119.28" cy="466.81" r="2.1" fill="#808080" fill-opacity="0.27"/>
<circle cx="117.78" cy="466.51" r="2.1" fill="#808080" fill-opacity="0.27"/>
<circle cx="119.10" cy="466.40" r="2.1" fill="#808080" fill-opacity="0.27"/>
<circle cx="118.96" cy="466.08" r="2.1" fill="#808080" fill-opacity="0.27"/>
<circle cx="117.11" cy="465.66" r="2.1" fill="#808080" fill-opacity="0.27"/>
<circle cx="117.24" cy="465.23" r="2.1" fill="#808080" fill-opacity="0.27"/>
<circle cx="117.36" cy="464.81" r="2.1" fill="#808080" fill-opacity="0.27"/>
<circle cx="117.20" cy="464.38" r="2.1" fill="#808080" fill-opacity="0.27"/>
<circle cx="118.24" cy="463.96" r="2.1" fill="#808080" fill-opacity="0.27"/>
<circle cx="117.26" cy="463.54" r="2.1" fill="#808080" fill-opacity="0.27"/>
<circle cx="117.74" cy="463.11" r="2.1" fill="#808080" fill-opacity="0.27"/>
<circle cx="116.87" cy="462.51" r="2.1" fill="#808080" fill-opacity="0.27"/>
<circle cx="119.21" cy="461.72" r="2.1" fill="#808080" fill-opacity="0.27"/>
<circle cx="117.54" cy="460.93" r="2.1" fill="#808080" fill-opacity="0.27"/>
<circle cx="117.85" cy="460.14" r="2.1" fill="#808080" fill-opacity="0.27"/>
<circle cx="118.23" cy="459.35" r="2.1" fill="#808080" fill-opacity="0.27"/>
<circle cx="119.19" cy="458.57" r="2.1" fill="#808080" fill-opacity="0.27"/>
<circle cx="117.74" cy="457.78" r="2.1" fill="#808080" fill-opacity="0.27"/>
<circle cx="119.23" cy="456.99" r="2.1" fill="#808080" fill-opacity="0.27"/>
<circle cx="117.98" cy="456.39" r="2.1" fill="#808080" fill-opacity="0.27"/>
<circle cx="118.08" cy="456.21" r="2.1" fill="#808080" fill-opacity="0.27"/>
<circle cx="118.05" cy="455.69" r="2.1" fill="#808080" fill-opacity="0.27"/>
<circle cx="116.54" cy="454.82" r="2.1" fill="#808080" fill-opacity="0.27"/>
<circle cx="117.80" cy="453.54" r="2.1" fill="#808080" fill-opacity="0.27"/>
<circle cx="117.03" cy="451.85" r="2.1" fill="#808080" fill-opacity="0.27"/>
<circle cx="116.49" cy="449.72" r="2.1" fill="#808080" fill-opacity="0.27"/>
<circle cx="118.88" cy="447.14" r="2.1" fill="#808080" fill-opacity="0.27"/>
<circle cx="117.00" cy="444.10" r="2.1" fill="#808080" fill-opacity="0.27"/>
<circle cx="117.90" cy="407.50" r="2.1" fill="#808080" fill-opacity="0.27"/>
<circle cx="118.66" cy="441.00" r="2.1" fill="#808080" fill-opacity="0.27"/>
<line x1="112.78" y1="462.90" x2="123.18" y2="462.90" stroke="#555" stroke-width="0.9" stroke-opacity="0.75"/>
<line x1="117.98" y1="456.40" x2="117.98" y2="444.10" stroke="#5a5a5a" stroke-width="0.7" stroke-opacity="0.45"/>
<line x1="117.98" y1="466.40" x2="117.98" y2="473.50" stroke="#5a5a5a" stroke-width="0.7" stroke-opacity="0.45"/>
<line x1="112.78" y1="459.40" x2="123.18" y2="459.40" stroke="#000" stroke-width="1.4" />
<rect x="128.22" y="452.90" width="10.4" height="8.20" fill="#ff1493" fill-opacity="0.5" stroke="#666" stroke-opacity="0.6" stroke-width="0.8"/>
<line x1="133.42" y1="452.90" x2="133.42" y2="440.90" stroke="#5a5a5a" stroke-width="0.9" stroke-opacity="0.85"/>
<line x1="133.42" y1="461.10" x2="133.42" y2="469.30" stroke="#5a5a5a" stroke-width="0.9" stroke-opacity="0.85"/>
<line x1="130.82" y1="440.90" x2="136.02" y2="440.90" stroke="#444" stroke-width="1.0" />
<line x1="130.82" y1="469.30" x2="136.02" y2="469.30" stroke="#444" stroke-width="1.0" />
<circle cx="133.59" cy="469.30" r="2.1" fill="#ff1493" fill-opacity="0.27"/>
<circle cx="132.90" cy="467.81" r="2.1" fill="#ff1493" fill-opacity="0.27"/>
<circle cx="133.48" cy="466.49" r="2.1" fill="#ff1493" fill-opacity="0.27"/>
<circle cx="133.59" cy="465.32" r="2.1" fill="#ff1493" fill-opacity="0.27"/>
<circle cx="134.27" cy="464.30" r="2.1" fill="#ff1493" fill-opacity="0.27"/>
<circle cx="132.24" cy="463.44" r="2.1" fill="#ff1493" fill-opacity="0.27"/>
<circle cx="133.60" cy="462.72" r="2.1" fill="#ff1493" fill-opacity="0.27"/>
<circle cx="132.67" cy="462.14" r="2.1" fill="#ff1493" fill-opacity="0.27"/>
<circle cx="132.75" cy="461.70" r="2.1" fill="#ff1493" fill-opacity="0.27"/>
<circle cx="134.24" cy="461.39" r="2.1" fill="#ff1493" fill-opacity="0.27"/>
<circle cx="133.44" cy="461.19" r="2.1" fill="#ff1493" fill-opacity="0.27"/>
<circle cx="133.61" cy="461.11" r="2.1" fill="#ff1493" fill-opacity="0.27"/>
<circle cx="134.20" cy="460.93" r="2.1" fill="#ff1493" fill-opacity="0.27"/>
<circle cx="134.66" cy="460.60" r="2.1" fill="#ff1493" fill-opacity="0.27"/>
<circle cx="133.25" cy="460.27" r="2.1" fill="#ff1493" fill-opacity="0.27"/>
<circle cx="133.76" cy="459.94" r="2.1" fill="#ff1493" fill-opacity="0.27"/>
<circle cx="133.44" cy="459.61" r="2.1" fill="#ff1493" fill-opacity="0.27"/>
<circle cx="133.46" cy="459.28" r="2.1" fill="#ff1493" fill-opacity="0.27"/>
<circle cx="134.00" cy="458.95" r="2.1" fill="#ff1493" fill-opacity="0.27"/>
<circle cx="133.28" cy="458.62" r="2.1" fill="#ff1493" fill-opacity="0.27"/>
<circle cx="133.52" cy="458.29" r="2.1" fill="#ff1493" fill-opacity="0.27"/>
<circle cx="133.35" cy="457.96" r="2.1" fill="#ff1493" fill-opacity="0.27"/>
<circle cx="134.74" cy="457.63" r="2.1" fill="#ff1493" fill-opacity="0.27"/>
<circle cx="134.02" cy="457.30" r="2.1" fill="#ff1493" fill-opacity="0.27"/>
<circle cx="134.55" cy="456.92" r="2.1" fill="#ff1493" fill-opacity="0.27"/>
<circle cx="134.75" cy="456.53" r="2.1" fill="#ff1493" fill-opacity="0.27"/>
<circle cx="132.70" cy="456.15" r="2.1" fill="#ff1493" fill-opacity="0.27"/>
<circle cx="133.60" cy="455.77" r="2.1" fill="#ff1493" fill-opacity="0.27"/>
<circle cx="134.75" cy="455.39" r="2.1" fill="#ff1493" fill-opacity="0.27"/>
<circle cx="134.44" cy="455.00" r="2.1" fill="#ff1493" fill-opacity="0.27"/>
<circle cx="132.33" cy="454.62" r="2.1" fill="#ff1493" fill-opacity="0.27"/>
<circle cx="132.28" cy="454.24" r="2.1" fill="#ff1493" fill-opacity="0.27"/>
<circle cx="133.25" cy="453.86" r="2.1" fill="#ff1493" fill-opacity="0.27"/>
<circle cx="132.14" cy="453.47" r="2.1" fill="#ff1493" fill-opacity="0.27"/>
<circle cx="132.64" cy="453.09" r="2.1" fill="#ff1493" fill-opacity="0.27"/>
<circle cx="132.14" cy="452.89" r="2.1" fill="#ff1493" fill-opacity="0.27"/>
<circle cx="133.93" cy="452.76" r="2.1" fill="#ff1493" fill-opacity="0.27"/>
<circle cx="134.27" cy="452.48" r="2.1" fill="#ff1493" fill-opacity="0.27"/>
<circle cx="134.61" cy="452.02" r="2.1" fill="#ff1493" fill-opacity="0.27"/>
<circle cx="132.38" cy="451.38" r="2.1" fill="#ff1493" fill-opacity="0.27"/>
<circle cx="134.07" cy="450.53" r="2.1" fill="#ff1493" fill-opacity="0.27"/>
<circle cx="133.90" cy="449.48" r="2.1" fill="#ff1493" fill-opacity="0.27"/>
<circle cx="132.35" cy="448.21" r="2.1" fill="#ff1493" fill-opacity="0.27"/>
<circle cx="134.57" cy="446.73" r="2.1" fill="#ff1493" fill-opacity="0.27"/>
<circle cx="134.82" cy="445.02" r="2.1" fill="#ff1493" fill-opacity="0.27"/>
<circle cx="132.58" cy="443.08" r="2.1" fill="#ff1493" fill-opacity="0.27"/>
<circle cx="134.78" cy="440.90" r="2.1" fill="#ff1493" fill-opacity="0.27"/>
<circle cx="133.11" cy="393.60" r="2.1" fill="#ff1493" fill-opacity="0.27"/>
<circle cx="133.38" cy="422.10" r="2.1" fill="#ff1493" fill-opacity="0.27"/>
<circle cx="134.89" cy="431.20" r="2.1" fill="#ff1493" fill-opacity="0.27"/>
<circle cx="134.42" cy="435.90" r="2.1" fill="#ff1493" fill-opacity="0.27"/>
<line x1="128.22" y1="457.30" x2="138.62" y2="457.30" stroke="#555" stroke-width="0.9" stroke-opacity="0.75"/>
<line x1="133.42" y1="452.90" x2="133.42" y2="440.90" stroke="#5a5a5a" stroke-width="0.7" stroke-opacity="0.45"/>
<line x1="133.42" y1="461.10" x2="133.42" y2="469.30" stroke="#5a5a5a" stroke-width="0.7" stroke-opacity="0.45"/>
<line x1="128.22" y1="454.30" x2="138.62" y2="454.30" stroke="#000" stroke-width="1.4" />
<rect x="138.87" y="450.30" width="10.4" height="11.00" fill="#808080" fill-opacity="0.5" stroke="#666" stroke-opacity="0.6" stroke-width="0.8"/>
<line x1="144.07" y1="450.30" x2="144.07" y2="442.30" stroke="#5a5a5a" stroke-width="0.9" stroke-opacity="0.85"/>
<line x1="144.07" y1="461.30" x2="144.07" y2="465.20" stroke="#5a5a5a" stroke-width="0.9" stroke-opacity="0.85"/>
<line x1="141.47" y1="442.30" x2="146.67" y2="442.30" stroke="#444" stroke-width="1.0" />
<line x1="141.47" y1="465.20" x2="146.67" y2="465.20" stroke="#444" stroke-width="1.0" />
<circle cx="143.05" cy="465.20" r="2.1" fill="#808080" fill-opacity="0.27"/>
<circle cx="143.86" cy="464.18" r="2.1" fill="#808080" fill-opacity="0.27"/>
<circle cx="144.12" cy="463.32" r="2.1" fill="#808080" fill-opacity="0.27"/>
<circle cx="143.59" cy="462.63" r="2.1" fill="#808080" fill-opacity="0.27"/>
<circle cx="143.16" cy="462.09" r="2.1" fill="#808080" fill-opacity="0.27"/>
<circle cx="143.53" cy="461.70" r="2.1" fill="#808080" fill-opacity="0.27"/>
<circle cx="144.74" cy="461.45" r="2.1" fill="#808080" fill-opacity="0.27"/>
<circle cx="142.63" cy="461.32" r="2.1" fill="#808080" fill-opacity="0.27"/>
<circle cx="144.23" cy="461.17" r="2.1" fill="#808080" fill-opacity="0.27"/>
<circle cx="143.89" cy="460.65" r="2.1" fill="#808080" fill-opacity="0.27"/>
<circle cx="142.62" cy="460.14" r="2.1" fill="#808080" fill-opacity="0.27"/>
<circle cx="143.56" cy="459.62" r="2.1" fill="#808080" fill-opacity="0.27"/>
<circle cx="144.44" cy="459.11" r="2.1" fill="#808080" fill-opacity="0.27"/>
<circle cx="144.11" cy="458.59" r="2.1" fill="#808080" fill-opacity="0.27"/>
<circle cx="142.76" cy="458.07" r="2.1" fill="#808080" fill-opacity="0.27"/>
<circle cx="145.53" cy="457.56" r="2.1" fill="#808080" fill-opacity="0.27"/>
<circle cx="144.94" cy="456.85" r="2.1" fill="#808080" fill-opacity="0.27"/>
<circle cx="145.49" cy="455.95" r="2.1" fill="#808080" fill-opacity="0.27"/>
<circle cx="142.88" cy="455.04" r="2.1" fill="#808080" fill-opacity="0.27"/>
<circle cx="143.37" cy="454.14" r="2.1" fill="#808080" fill-opacity="0.27"/>
<circle cx="142.69" cy="453.24" r="2.1" fill="#808080" fill-opacity="0.27"/>
<circle cx="144.91" cy="452.33" r="2.1" fill="#808080" fill-opacity="0.27"/>
<circle cx="143.38" cy="451.43" r="2.1" fill="#808080" fill-opacity="0.27"/>
<circle cx="142.96" cy="450.53" r="2.1" fill="#808080" fill-opacity="0.27"/>
<circle cx="143.84" cy="450.25" r="2.1" fill="#808080" fill-opacity="0.27"/>
<circle cx="145.30" cy="450.00" r="2.1" fill="#808080" fill-opacity="0.27"/>
<circle cx="145.03" cy="449.48" r="2.1" fill="#808080" fill-opacity="0.27"/>
<circle cx="143.35" cy="448.68" r="2.1" fill="#808080" fill-opacity="0.27"/>
<circle cx="143.02" cy="447.58" r="2.1" fill="#808080" fill-opacity="0.27"/>
<circle cx="145.33" cy="446.15" r="2.1" fill="#808080" fill-opacity="0.27"/>
<circle cx="144.28" cy="444.40" r="2.1" fill="#808080" fill-opacity="0.27"/>
<circle cx="144.67" cy="442.30" r="2.1" fill="#808080" fill-opacity="0.27"/>
<circle cx="142.84" cy="396.60" r="2.1" fill="#808080" fill-opacity="0.27"/>
<circle cx="142.74" cy="424.90" r="2.1" fill="#808080" fill-opacity="0.27"/>
<circle cx="144.63" cy="429.20" r="2.1" fill="#808080" fill-opacity="0.27"/>
<circle cx="143.85" cy="432.30" r="2.1" fill="#808080" fill-opacity="0.27"/>
<line x1="138.87" y1="457.30" x2="149.27" y2="457.30" stroke="#555" stroke-width="0.9" stroke-opacity="0.75"/>
<line x1="144.07" y1="450.30" x2="144.07" y2="442.30" stroke="#5a5a5a" stroke-width="0.7" stroke-opacity="0.45"/>
<line x1="144.07" y1="461.30" x2="144.07" y2="465.20" stroke="#5a5a5a" stroke-width="0.7" stroke-opacity="0.45"/>
<line x1="138.87" y1="452.30" x2="149.27" y2="452.30" stroke="#000" stroke-width="1.4" />
<rect x="154.31" y="459.30" width="10.4" height="8.30" fill="#ff1493" fill-opacity="0.5" stroke="#666" stroke-opacity="0.6" stroke-width="0.8"/>
<line x1="159.51" y1="459.30" x2="159.51" y2="445.20" stroke="#5a5a5a" stroke-width="0.9" stroke-opacity="0.85"/>
<line x1="159.51" y1="467.60" x2="159.51" y2="474.20" stroke="#5a5a5a" stroke-width="0.9" stroke-opacity="0.85"/>
<line x1="156.91" y1="445.20" x2="162.11" y2="445.20" stroke="#444" stroke-width="1.0" />
<line x1="156.91" y1="474.20" x2="162.11" y2="474.20" stroke="#444" stroke-width="1.0" />
<circle cx="158.23" cy="474.20" r="2.1" fill="#ff1493" fill-opacity="0.27"/>
<circle cx="160.83" cy="473.05" r="2.1" fill="#ff1493" fill-opacity="0.27"/>
<circle cx="159.91" cy="472.02" r="2.1" fill="#ff1493" fill-opacity="0.27"/>
<circle cx="160.41" cy="471.10" r="2.1" fill="#ff1493" fill-opacity="0.27"/>
<circle cx="158.26" cy="470.30" r="2.1" fill="#ff1493" fill-opacity="0.27"/>
<circle cx="160.58" cy="469.62" r="2.1" fill="#ff1493" fill-opacity="0.27"/>
<circle cx="158.21" cy="469.04" r="2.1" fill="#ff1493" fill-opacity="0.27"/>
<circle cx="160.60" cy="468.56" r="2.1" fill="#ff1493" fill-opacity="0.27"/>
<circle cx="159.37" cy="468.19" r="2.1" fill="#ff1493" fill-opacity="0.27"/>
<circle cx="159.03" cy="467.91" r="2.1" fill="#ff1493" fill-opacity="0.27"/>
<circle cx="159.67" cy="467.73" r="2.1" fill="#ff1493" fill-opacity="0.27"/>
<circle cx="160.79" cy="467.63" r="2.1" fill="#ff1493" fill-opacity="0.27"/>
<circle cx="158.81" cy="467.60" r="2.1" fill="#ff1493" fill-opacity="0.27"/>
<circle cx="158.40" cy="467.38" r="2.1" fill="#ff1493" fill-opacity="0.27"/>
<circle cx="159.59" cy="467.15" r="2.1" fill="#ff1493" fill-opacity="0.27"/>
<circle cx="158.73" cy="466.93" r="2.1" fill="#ff1493" fill-opacity="0.27"/>
<circle cx="158.34" cy="466.70" r="2.1" fill="#ff1493" fill-opacity="0.27"/>
<circle cx="158.49" cy="466.48" r="2.1" fill="#ff1493" fill-opacity="0.27"/>
<circle cx="158.16" cy="466.25" r="2.1" fill="#ff1493" fill-opacity="0.27"/>
<circle cx="158.62" cy="466.02" r="2.1" fill="#ff1493" fill-opacity="0.27"/>
<circle cx="158.95" cy="465.80" r="2.1" fill="#ff1493" fill-opacity="0.27"/>
<circle cx="158.93" cy="465.57" r="2.1" fill="#ff1493" fill-opacity="0.27"/>
<circle cx="160.29" cy="465.35" r="2.1" fill="#ff1493" fill-opacity="0.27"/>
<circle cx="158.88" cy="465.12" r="2.1" fill="#ff1493" fill-opacity="0.27"/>
<circle cx="159.51" cy="464.90" r="2.1" fill="#ff1493" fill-opacity="0.27"/>
<circle cx="158.54" cy="464.43" r="2.1" fill="#ff1493" fill-opacity="0.27"/>
<circle cx="159.05" cy="463.97" r="2.1" fill="#ff1493" fill-opacity="0.27"/>
<circle cx="158.06" cy="463.50" r="2.1" fill="#ff1493" fill-opacity="0.27"/>
<circle cx="158.76" cy="463.03" r="2.1" fill="#ff1493" fill-opacity="0.27"/>
<circle cx="158.06" cy="462.57" r="2.1" fill="#ff1493" fill-opacity="0.27"/>
<circle cx="160.21" cy="462.10" r="2.1" fill="#ff1493" fill-opacity="0.27"/>
<circle cx="159.66" cy="461.63" r="2.1" fill="#ff1493" fill-opacity="0.27"/>
<circle cx="158.58" cy="461.17" r="2.1" fill="#ff1493" fill-opacity="0.27"/>
<circle cx="159.43" cy="460.70" r="2.1" fill="#ff1493" fill-opacity="0.27"/>
<circle cx="160.81" cy="460.23" r="2.1" fill="#ff1493" fill-opacity="0.27"/>
<circle cx="158.33" cy="459.77" r="2.1" fill="#ff1493" fill-opacity="0.27"/>
<circle cx="160.47" cy="459.30" r="2.1" fill="#ff1493" fill-opacity="0.27"/>
<circle cx="159.31" cy="459.24" r="2.1" fill="#ff1493" fill-opacity="0.27"/>
<circle cx="159.50" cy="459.03" r="2.1" fill="#ff1493" fill-opacity="0.27"/>
<circle cx="160.51" cy="458.63" r="2.1" fill="#ff1493" fill-opacity="0.27"/>
<circle cx="159.19" cy="458.04" r="2.1" fill="#ff1493" fill-opacity="0.27"/>
<circle cx="159.53" cy="457.25" r="2.1" fill="#ff1493" fill-opacity="0.27"/>
<circle cx="160.07" cy="456.23" r="2.1" fill="#ff1493" fill-opacity="0.27"/>
<circle cx="160.96" cy="454.99" r="2.1" fill="#ff1493" fill-opacity="0.27"/>
<circle cx="159.04" cy="453.52" r="2.1" fill="#ff1493" fill-opacity="0.27"/>
<circle cx="160.51" cy="451.81" r="2.1" fill="#ff1493" fill-opacity="0.27"/>
<circle cx="160.13" cy="449.86" r="2.1" fill="#ff1493" fill-opacity="0.27"/>
<circle cx="159.92" cy="447.66" r="2.1" fill="#ff1493" fill-opacity="0.27"/>
<circle cx="159.22" cy="445.20" r="2.1" fill="#ff1493" fill-opacity="0.27"/>
<circle cx="159.05" cy="424.50" r="2.1" fill="#ff1493" fill-opacity="0.27"/>
<circle cx="158.17" cy="440.00" r="2.1" fill="#ff1493" fill-opacity="0.27"/>
<line x1="154.31" y1="464.90" x2="164.71" y2="464.90" stroke="#555" stroke-width="0.9" stroke-opacity="0.75"/>
<line x1="159.51" y1="459.30" x2="159.51" y2="445.20" stroke="#5a5a5a" stroke-width="0.7" stroke-opacity="0.45"/>
<line x1="159.51" y1="467.60" x2="159.51" y2="474.20" stroke="#5a5a5a" stroke-width="0.7" stroke-opacity="0.45"/>
<line x1="154.31" y1="461.10" x2="164.71" y2="461.10" stroke="#000" stroke-width="1.4" />
<rect x="164.96" y="459.70" width="10.4" height="8.20" fill="#808080" fill-opacity="0.5" stroke="#666" stroke-opacity="0.6" stroke-width="0.8"/>
<line x1="170.16" y1="459.70" x2="170.16" y2="451.50" stroke="#5a5a5a" stroke-width="0.9" stroke-opacity="0.85"/>
<line x1="170.16" y1="467.90" x2="170.16" y2="474.00" stroke="#5a5a5a" stroke-width="0.9" stroke-opacity="0.85"/>
<line x1="167.56" y1="451.50" x2="172.76" y2="451.50" stroke="#444" stroke-width="1.0" />
<line x1="167.56" y1="474.00" x2="172.76" y2="474.00" stroke="#444" stroke-width="1.0" />
<circle cx="169.05" cy="474.00" r="2.1" fill="#808080" fill-opacity="0.27"/>
<circle cx="168.87" cy="472.45" r="2.1" fill="#808080" fill-opacity="0.27"/>
<circle cx="170.88" cy="471.14" r="2.1" fill="#808080" fill-opacity="0.27"/>
<circle cx="169.43" cy="470.07" r="2.1" fill="#808080" fill-opacity="0.27"/>
<circle cx="169.15" cy="469.23" r="2.1" fill="#808080" fill-opacity="0.27"/>
<circle cx="168.91" cy="468.61" r="2.1" fill="#808080" fill-opacity="0.27"/>
<circle cx="171.18" cy="468.19" r="2.1" fill="#808080" fill-opacity="0.27"/>
<circle cx="171.27" cy="467.96" r="2.1" fill="#808080" fill-opacity="0.27"/>
<circle cx="170.67" cy="467.90" r="2.1" fill="#808080" fill-opacity="0.27"/>
<circle cx="169.51" cy="467.46" r="2.1" fill="#808080" fill-opacity="0.27"/>
<circle cx="169.39" cy="467.02" r="2.1" fill="#808080" fill-opacity="0.27"/>
<circle cx="169.54" cy="466.59" r="2.1" fill="#808080" fill-opacity="0.27"/>
<circle cx="170.04" cy="466.15" r="2.1" fill="#808080" fill-opacity="0.27"/>
<circle cx="169.13" cy="465.71" r="2.1" fill="#808080" fill-opacity="0.27"/>
<circle cx="170.00" cy="465.27" r="2.1" fill="#808080" fill-opacity="0.27"/>
<circle cx="169.45" cy="464.84" r="2.1" fill="#808080" fill-opacity="0.27"/>
<circle cx="171.55" cy="464.40" r="2.1" fill="#808080" fill-opacity="0.27"/>
<circle cx="171.58" cy="463.81" r="2.1" fill="#808080" fill-opacity="0.27"/>
<circle cx="170.30" cy="463.22" r="2.1" fill="#808080" fill-opacity="0.27"/>
<circle cx="169.39" cy="462.64" r="2.1" fill="#808080" fill-opacity="0.27"/>
<circle cx="171.56" cy="462.05" r="2.1" fill="#808080" fill-opacity="0.27"/>
<circle cx="169.59" cy="461.46" r="2.1" fill="#808080" fill-opacity="0.27"/>
<circle cx="169.73" cy="460.88" r="2.1" fill="#808080" fill-opacity="0.27"/>
<circle cx="168.66" cy="460.29" r="2.1" fill="#808080" fill-opacity="0.27"/>
<circle cx="169.80" cy="459.70" r="2.1" fill="#808080" fill-opacity="0.27"/>
<circle cx="170.08" cy="459.62" r="2.1" fill="#808080" fill-opacity="0.27"/>
<circle cx="170.17" cy="459.31" r="2.1" fill="#808080" fill-opacity="0.27"/>
<circle cx="169.26" cy="458.75" r="2.1" fill="#808080" fill-opacity="0.27"/>
<circle cx="170.17" cy="457.92" r="2.1" fill="#808080" fill-opacity="0.27"/>
<circle cx="168.67" cy="456.78" r="2.1" fill="#808080" fill-opacity="0.27"/>
<circle cx="169.45" cy="455.35" r="2.1" fill="#808080" fill-opacity="0.27"/>
<circle cx="168.93" cy="453.59" r="2.1" fill="#808080" fill-opacity="0.27"/>
<circle cx="169.86" cy="451.50" r="2.1" fill="#808080" fill-opacity="0.27"/>
<circle cx="168.79" cy="424.90" r="2.1" fill="#808080" fill-opacity="0.27"/>
<circle cx="168.73" cy="438.20" r="2.1" fill="#808080" fill-opacity="0.27"/>
<circle cx="169.57" cy="442.90" r="2.1" fill="#808080" fill-opacity="0.27"/>
<line x1="164.96" y1="464.40" x2="175.36" y2="464.40" stroke="#555" stroke-width="0.9" stroke-opacity="0.75"/>
<line x1="170.16" y1="459.70" x2="170.16" y2="451.50" stroke="#5a5a5a" stroke-width="0.7" stroke-opacity="0.45"/>
<line x1="170.16" y1="467.90" x2="170.16" y2="474.00" stroke="#5a5a5a" stroke-width="0.7" stroke-opacity="0.45"/>
<line x1="164.96" y1="461.30" x2="175.36" y2="461.30" stroke="#000" stroke-width="1.4" />
<rect x="180.40" y="448.10" width="10.4" height="9.70" fill="#ff1493" fill-opacity="0.5" stroke="#666" stroke-opacity="0.6" stroke-width="0.8"/>
<line x1="185.60" y1="448.10" x2="185.60" y2="436.30" stroke="#5a5a5a" stroke-width="0.9" stroke-opacity="0.85"/>
<line x1="185.60" y1="457.80" x2="185.60" y2="467.10" stroke="#5a5a5a" stroke-width="0.9" stroke-opacity="0.85"/>
<line x1="183.00" y1="436.30" x2="188.20" y2="436.30" stroke="#444" stroke-width="1.0" />
<line x1="183.00" y1="467.10" x2="188.20" y2="467.10" stroke="#444" stroke-width="1.0" />
<circle cx="184.80" cy="467.10" r="2.1" fill="#ff1493" fill-opacity="0.27"/>
<circle cx="185.86" cy="465.45" r="2.1" fill="#ff1493" fill-opacity="0.27"/>
<circle cx="185.69" cy="463.97" r="2.1" fill="#ff1493" fill-opacity="0.27"/>
<circle cx="186.35" cy="462.66" r="2.1" fill="#ff1493" fill-opacity="0.27"/>
<circle cx="186.07" cy="461.52" r="2.1" fill="#ff1493" fill-opacity="0.27"/>
<circle cx="186.25" cy="460.55" r="2.1" fill="#ff1493" fill-opacity="0.27"/>
<circle cx="186.74" cy="459.73" r="2.1" fill="#ff1493" fill-opacity="0.27"/>
<circle cx="185.27" cy="459.07" r="2.1" fill="#ff1493" fill-opacity="0.27"/>
<circle cx="185.08" cy="458.55" r="2.1" fill="#ff1493" fill-opacity="0.27"/>
<circle cx="187.05" cy="458.18" r="2.1" fill="#ff1493" fill-opacity="0.27"/>
<circle cx="184.55" cy="457.94" r="2.1" fill="#ff1493" fill-opacity="0.27"/>
<circle cx="186.27" cy="457.82" r="2.1" fill="#ff1493" fill-opacity="0.27"/>
<circle cx="186.03" cy="457.71" r="2.1" fill="#ff1493" fill-opacity="0.27"/>
<circle cx="184.23" cy="457.37" r="2.1" fill="#ff1493" fill-opacity="0.27"/>
<circle cx="186.61" cy="457.03" r="2.1" fill="#ff1493" fill-opacity="0.27"/>
<circle cx="186.78" cy="456.69" r="2.1" fill="#ff1493" fill-opacity="0.27"/>
<circle cx="185.98" cy="456.35" r="2.1" fill="#ff1493" fill-opacity="0.27"/>
<circle cx="186.30" cy="456.01" r="2.1" fill="#ff1493" fill-opacity="0.27"/>
<circle cx="186.54" cy="455.67" r="2.1" fill="#ff1493" fill-opacity="0.27"/>
<circle cx="184.52" cy="455.33" r="2.1" fill="#ff1493" fill-opacity="0.27"/>
<circle cx="185.67" cy="454.99" r="2.1" fill="#ff1493" fill-opacity="0.27"/>
<circle cx="185.61" cy="454.65" r="2.1" fill="#ff1493" fill-opacity="0.27"/>
<circle cx="186.60" cy="454.31" r="2.1" fill="#ff1493" fill-opacity="0.27"/>
<circle cx="186.51" cy="453.97" r="2.1" fill="#ff1493" fill-opacity="0.27"/>
<circle cx="186.58" cy="453.56" r="2.1" fill="#ff1493" fill-opacity="0.27"/>
<circle cx="185.85" cy="453.07" r="2.1" fill="#ff1493" fill-opacity="0.27"/>
<circle cx="186.78" cy="452.59" r="2.1" fill="#ff1493" fill-opacity="0.27"/>
<circle cx="186.15" cy="452.10" r="2.1" fill="#ff1493" fill-opacity="0.27"/>
<circle cx="186.18" cy="451.62" r="2.1" fill="#ff1493" fill-opacity="0.27"/>
<circle cx="184.79" cy="451.13" r="2.1" fill="#ff1493" fill-opacity="0.27"/>
<circle cx="184.19" cy="450.65" r="2.1" fill="#ff1493" fill-opacity="0.27"/>
<circle cx="184.50" cy="450.16" r="2.1" fill="#ff1493" fill-opacity="0.27"/>
<circle cx="185.18" cy="449.68" r="2.1" fill="#ff1493" fill-opacity="0.27"/>
<circle cx="184.41" cy="449.19" r="2.1" fill="#ff1493" fill-opacity="0.27"/>
<circle cx="186.61" cy="448.71" r="2.1" fill="#ff1493" fill-opacity="0.27"/>
<circle cx="185.78" cy="448.22" r="2.1" fill="#ff1493" fill-opacity="0.27"/>
<circle cx="185.98" cy="448.07" r="2.1" fill="#ff1493" fill-opacity="0.27"/>
<circle cx="185.98" cy="447.92" r="2.1" fill="#ff1493" fill-opacity="0.27"/>
<circle cx="186.14" cy="447.62" r="2.1" fill="#ff1493" fill-opacity="0.27"/>
<circle cx="185.57" cy="447.14" r="2.1" fill="#ff1493" fill-opacity="0.27"/>
<circle cx="184.11" cy="446.49" r="2.1" fill="#ff1493" fill-opacity="0.27"/>
<circle cx="186.49" cy="445.65" r="2.1" fill="#ff1493" fill-opacity="0.27"/>
<circle cx="186.34" cy="444.61" r="2.1" fill="#ff1493" fill-opacity="0.27"/>
<circle cx="185.61" cy="443.38" r="2.1" fill="#ff1493" fill-opacity="0.27"/>
<circle cx="185.71" cy="441.93" r="2.1" fill="#ff1493" fill-opacity="0.27"/>
<circle cx="186.08" cy="440.27" r="2.1" fill="#ff1493" fill-opacity="0.27"/>
<circle cx="184.30" cy="438.40" r="2.1" fill="#ff1493" fill-opacity="0.27"/>
<circle cx="186.31" cy="436.30" r="2.1" fill="#ff1493" fill-opacity="0.27"/>
<circle cx="184.86" cy="368.50" r="2.1" fill="#ff1493" fill-opacity="0.27"/>
<circle cx="184.32" cy="412.90" r="2.1" fill="#ff1493" fill-opacity="0.27"/>
<circle cx="184.90" cy="431.40" r="2.1" fill="#ff1493" fill-opacity="0.27"/>
<line x1="180.40" y1="453.80" x2="190.80" y2="453.80" stroke="#555" stroke-width="0.9" stroke-opacity="0.75"/>
<line x1="185.60" y1="448.10" x2="185.60" y2="436.30" stroke="#5a5a5a" stroke-width="0.7" stroke-opacity="0.45"/>
<line x1="185.60" y1="457.80" x2="185.60" y2="467.10" stroke="#5a5a5a" stroke-width="0.7" stroke-opacity="0.45"/>
<line x1="180.40" y1="450.20" x2="190.80" y2="450.20" stroke="#000" stroke-width="1.4" />
<rect x="191.05" y="444.20" width="10.4" height="12.70" fill="#808080" fill-opacity="0.5" stroke="#666" stroke-opacity="0.6" stroke-width="0.8"/>
<line x1="196.25" y1="444.20" x2="196.25" y2="424.00" stroke="#5a5a5a" stroke-width="0.9" stroke-opacity="0.85"/>
<line x1="196.25" y1="456.90" x2="196.25" y2="462.20" stroke="#5a5a5a" stroke-width="0.9" stroke-opacity="0.85"/>
<line x1="193.65" y1="424.00" x2="198.85" y2="424.00" stroke="#444" stroke-width="1.0" />
<line x1="193.65" y1="462.20" x2="198.85" y2="462.20" stroke="#444" stroke-width="1.0" />
<circle cx="196.94" cy="462.20" r="2.1" fill="#808080" fill-opacity="0.27"/>
<circle cx="195.37" cy="460.89" r="2.1" fill="#808080" fill-opacity="0.27"/>
<circle cx="196.97" cy="459.78" r="2.1" fill="#808080" fill-opacity="0.27"/>
<circle cx="197.68" cy="458.86" r="2.1" fill="#808080" fill-opacity="0.27"/>
<circle cx="196.23" cy="458.13" r="2.1" fill="#808080" fill-opacity="0.27"/>
<circle cx="195.90" cy="457.58" r="2.1" fill="#808080" fill-opacity="0.27"/>
<circle cx="196.19" cy="457.20" r="2.1" fill="#808080" fill-opacity="0.27"/>
<circle cx="196.80" cy="456.98" r="2.1" fill="#808080" fill-opacity="0.27"/>
<circle cx="197.05" cy="456.90" r="2.1" fill="#808080" fill-opacity="0.27"/>
<circle cx="196.60" cy="456.45" r="2.1" fill="#808080" fill-opacity="0.27"/>
<circle cx="196.68" cy="455.86" r="2.1" fill="#808080" fill-opacity="0.27"/>
<circle cx="194.98" cy="455.27" r="2.1" fill="#808080" fill-opacity="0.27"/>
<circle cx="195.19" cy="454.67" r="2.1" fill="#808080" fill-opacity="0.27"/>
<circle cx="195.51" cy="454.08" r="2.1" fill="#808080" fill-opacity="0.27"/>
<circle cx="196.98" cy="453.48" r="2.1" fill="#808080" fill-opacity="0.27"/>
<circle cx="195.66" cy="452.89" r="2.1" fill="#808080" fill-opacity="0.27"/>
<circle cx="196.45" cy="452.30" r="2.1" fill="#808080" fill-opacity="0.27"/>
<circle cx="194.79" cy="451.53" r="2.1" fill="#808080" fill-opacity="0.27"/>
<circle cx="194.93" cy="450.58" r="2.1" fill="#808080" fill-opacity="0.27"/>
<circle cx="195.56" cy="449.64" r="2.1" fill="#808080" fill-opacity="0.27"/>
<circle cx="196.77" cy="448.69" r="2.1" fill="#808080" fill-opacity="0.27"/>
<circle cx="196.83" cy="447.75" r="2.1" fill="#808080" fill-opacity="0.27"/>
<circle cx="196.78" cy="446.80" r="2.1" fill="#808080" fill-opacity="0.27"/>
<circle cx="195.62" cy="445.85" r="2.1" fill="#808080" fill-opacity="0.27"/>
<circle cx="196.30" cy="444.91" r="2.1" fill="#808080" fill-opacity="0.27"/>
<circle cx="196.14" cy="444.19" r="2.1" fill="#808080" fill-opacity="0.27"/>
<circle cx="196.15" cy="443.88" r="2.1" fill="#808080" fill-opacity="0.27"/>
<circle cx="195.11" cy="443.04" r="2.1" fill="#808080" fill-opacity="0.27"/>
<circle cx="197.43" cy="441.60" r="2.1" fill="#808080" fill-opacity="0.27"/>
<circle cx="195.35" cy="439.51" r="2.1" fill="#808080" fill-opacity="0.27"/>
<circle cx="197.68" cy="436.73" r="2.1" fill="#808080" fill-opacity="0.27"/>
<circle cx="197.56" cy="433.23" r="2.1" fill="#808080" fill-opacity="0.27"/>
<circle cx="194.80" cy="429.00" r="2.1" fill="#808080" fill-opacity="0.27"/>
<circle cx="196.13" cy="424.00" r="2.1" fill="#808080" fill-opacity="0.27"/>
<circle cx="197.21" cy="369.20" r="2.1" fill="#808080" fill-opacity="0.27"/>
<circle cx="197.65" cy="415.50" r="2.1" fill="#808080" fill-opacity="0.27"/>
<line x1="191.05" y1="452.00" x2="201.45" y2="452.00" stroke="#555" stroke-width="0.9" stroke-opacity="0.75"/>
<line x1="196.25" y1="444.20" x2="196.25" y2="424.00" stroke="#5a5a5a" stroke-width="0.7" stroke-opacity="0.45"/>
<line x1="196.25" y1="456.90" x2="196.25" y2="462.20" stroke="#5a5a5a" stroke-width="0.7" stroke-opacity="0.45"/>
<line x1="191.05" y1="447.20" x2="201.45" y2="447.20" stroke="#000" stroke-width="1.4" />
<rect x="206.49" y="455.50" width="10.4" height="6.70" fill="#ff1493" fill-opacity="0.5" stroke="#666" stroke-opacity="0.6" stroke-width="0.8"/>
<line x1="211.69" y1="455.50" x2="211.69" y2="447.20" stroke="#5a5a5a" stroke-width="0.9" stroke-opacity="0.85"/>
<line x1="211.69" y1="462.20" x2="211.69" y2="470.10" stroke="#5a5a5a" stroke-width="0.9" stroke-opacity="0.85"/>
<line x1="209.09" y1="447.20" x2="214.29" y2="447.20" stroke="#444" stroke-width="1.0" />
<line x1="209.09" y1="470.10" x2="214.29" y2="470.10" stroke="#444" stroke-width="1.0" />
<circle cx="211.54" cy="470.10" r="2.1" fill="#ff1493" fill-opacity="0.27"/>
<circle cx="211.00" cy="468.70" r="2.1" fill="#ff1493" fill-opacity="0.27"/>
<circle cx="210.82" cy="467.44" r="2.1" fill="#ff1493" fill-opacity="0.27"/>
<circle cx="213.03" cy="466.33" r="2.1" fill="#ff1493" fill-opacity="0.27"/>
<circle cx="210.82" cy="465.36" r="2.1" fill="#ff1493" fill-opacity="0.27"/>
<circle cx="211.93" cy="464.53" r="2.1" fill="#ff1493" fill-opacity="0.27"/>
<circle cx="210.62" cy="463.84" r="2.1" fill="#ff1493" fill-opacity="0.27"/>
<circle cx="211.76" cy="463.28" r="2.1" fill="#ff1493" fill-opacity="0.27"/>
<circle cx="213.05" cy="462.84" r="2.1" fill="#ff1493" fill-opacity="0.27"/>
<circle cx="210.59" cy="462.52" r="2.1" fill="#ff1493" fill-opacity="0.27"/>
<circle cx="212.65" cy="462.32" r="2.1" fill="#ff1493" fill-opacity="0.27"/>
<circle cx="211.72" cy="462.22" r="2.1" fill="#ff1493" fill-opacity="0.27"/>
<circle cx="212.85" cy="462.16" r="2.1" fill="#ff1493" fill-opacity="0.27"/>
<circle cx="212.30" cy="461.98" r="2.1" fill="#ff1493" fill-opacity="0.27"/>
<circle cx="210.88" cy="461.80" r="2.1" fill="#ff1493" fill-opacity="0.27"/>
<circle cx="212.88" cy="461.62" r="2.1" fill="#ff1493" fill-opacity="0.27"/>
<circle cx="211.65" cy="461.44" r="2.1" fill="#ff1493" fill-opacity="0.27"/>
<circle cx="210.26" cy="461.26" r="2.1" fill="#ff1493" fill-opacity="0.27"/>
<circle cx="210.20" cy="461.08" r="2.1" fill="#ff1493" fill-opacity="0.27"/>
<circle cx="211.67" cy="460.90" r="2.1" fill="#ff1493" fill-opacity="0.27"/>
<circle cx="211.54" cy="460.73" r="2.1" fill="#ff1493" fill-opacity="0.27"/>
<circle cx="211.10" cy="460.55" r="2.1" fill="#ff1493" fill-opacity="0.27"/>
<circle cx="210.61" cy="460.37" r="2.1" fill="#ff1493" fill-opacity="0.27"/>
<circle cx="211.22" cy="460.19" r="2.1" fill="#ff1493" fill-opacity="0.27"/>
<circle cx="211.14" cy="459.90" r="2.1" fill="#ff1493" fill-opacity="0.27"/>
<circle cx="212.71" cy="459.51" r="2.1" fill="#ff1493" fill-opacity="0.27"/>
<circle cx="210.20" cy="459.12" r="2.1" fill="#ff1493" fill-opacity="0.27"/>
<circle cx="212.44" cy="458.73" r="2.1" fill="#ff1493" fill-opacity="0.27"/>
<circle cx="212.71" cy="458.34" r="2.1" fill="#ff1493" fill-opacity="0.27"/>
<circle cx="210.55" cy="457.95" r="2.1" fill="#ff1493" fill-opacity="0.27"/>
<circle cx="212.97" cy="457.56" r="2.1" fill="#ff1493" fill-opacity="0.27"/>
<circle cx="212.33" cy="457.16" r="2.1" fill="#ff1493" fill-opacity="0.27"/>
<circle cx="212.89" cy="456.77" r="2.1" fill="#ff1493" fill-opacity="0.27"/>
<circle cx="211.06" cy="456.38" r="2.1" fill="#ff1493" fill-opacity="0.27"/>
<circle cx="211.31" cy="455.99" r="2.1" fill="#ff1493" fill-opacity="0.27"/>
<circle cx="211.37" cy="455.60" r="2.1" fill="#ff1493" fill-opacity="0.27"/>
<circle cx="213.19" cy="455.48" r="2.1" fill="#ff1493" fill-opacity="0.27"/>
<circle cx="211.96" cy="455.37" r="2.1" fill="#ff1493" fill-opacity="0.27"/>
<circle cx="211.27" cy="455.16" r="2.1" fill="#ff1493" fill-opacity="0.27"/>
<circle cx="211.47" cy="454.83" r="2.1" fill="#ff1493" fill-opacity="0.27"/>
<circle cx="211.02" cy="454.37" r="2.1" fill="#ff1493" fill-opacity="0.27"/>
<circle cx="210.33" cy="453.78" r="2.1" fill="#ff1493" fill-opacity="0.27"/>
<circle cx="210.50" cy="453.05" r="2.1" fill="#ff1493" fill-opacity="0.27"/>
<circle cx="212.69" cy="452.18" r="2.1" fill="#ff1493" fill-opacity="0.27"/>
<circle cx="211.05" cy="451.16" r="2.1" fill="#ff1493" fill-opacity="0.27"/>
<circle cx="213.00" cy="449.99" r="2.1" fill="#ff1493" fill-opacity="0.27"/>
<circle cx="210.94" cy="448.68" r="2.1" fill="#ff1493" fill-opacity="0.27"/>
<circle cx="210.99" cy="447.20" r="2.1" fill="#ff1493" fill-opacity="0.27"/>
<circle cx="211.72" cy="393.50" r="2.1" fill="#ff1493" fill-opacity="0.27"/>
<circle cx="210.76" cy="425.80" r="2.1" fill="#ff1493" fill-opacity="0.27"/>
<circle cx="211.31" cy="436.10" r="2.1" fill="#ff1493" fill-opacity="0.27"/>
<line x1="206.49" y1="460.10" x2="216.89" y2="460.10" stroke="#555" stroke-width="0.9" stroke-opacity="0.75"/>
<line x1="211.69" y1="455.50" x2="211.69" y2="447.20" stroke="#5a5a5a" stroke-width="0.7" stroke-opacity="0.45"/>
<line x1="211.69" y1="462.20" x2="211.69" y2="470.10" stroke="#5a5a5a" stroke-width="0.7" stroke-opacity="0.45"/>
<line x1="206.49" y1="456.20" x2="216.89" y2="456.20" stroke="#000" stroke-width="1.4" />
<rect x="217.14" y="454.30" width="10.4" height="7.90" fill="#808080" fill-opacity="0.5" stroke="#666" stroke-opacity="0.6" stroke-width="0.8"/>
<line x1="222.34" y1="454.30" x2="222.34" y2="446.00" stroke="#5a5a5a" stroke-width="0.9" stroke-opacity="0.85"/>
<line x1="222.34" y1="462.20" x2="222.34" y2="466.10" stroke="#5a5a5a" stroke-width="0.9" stroke-opacity="0.85"/>
<line x1="219.74" y1="446.00" x2="224.94" y2="446.00" stroke="#444" stroke-width="1.0" />
<line x1="219.74" y1="466.10" x2="224.94" y2="466.10" stroke="#444" stroke-width="1.0" />
<circle cx="223.71" cy="466.10" r="2.1" fill="#808080" fill-opacity="0.27"/>
<circle cx="223.49" cy="465.08" r="2.1" fill="#808080" fill-opacity="0.27"/>
<circle cx="223.28" cy="464.22" r="2.1" fill="#808080" fill-opacity="0.27"/>
<circle cx="222.73" cy="463.53" r="2.1" fill="#808080" fill-opacity="0.27"/>
<circle cx="223.58" cy="462.99" r="2.1" fill="#808080" fill-opacity="0.27"/>
<circle cx="223.66" cy="462.60" r="2.1" fill="#808080" fill-opacity="0.27"/>
<circle cx="222.49" cy="462.35" r="2.1" fill="#808080" fill-opacity="0.27"/>
<circle cx="223.00" cy="462.22" r="2.1" fill="#808080" fill-opacity="0.27"/>
<circle cx="220.99" cy="462.12" r="2.1" fill="#808080" fill-opacity="0.27"/>
<circle cx="223.04" cy="461.78" r="2.1" fill="#808080" fill-opacity="0.27"/>
<circle cx="222.19" cy="461.45" r="2.1" fill="#808080" fill-opacity="0.27"/>
<circle cx="223.10" cy="461.11" r="2.1" fill="#808080" fill-opacity="0.27"/>
<circle cx="222.77" cy="460.77" r="2.1" fill="#808080" fill-opacity="0.27"/>
<circle cx="221.70" cy="460.44" r="2.1" fill="#808080" fill-opacity="0.27"/>
<circle cx="220.99" cy="460.10" r="2.1" fill="#808080" fill-opacity="0.27"/>
<circle cx="223.62" cy="459.77" r="2.1" fill="#808080" fill-opacity="0.27"/>
<circle cx="221.22" cy="459.26" r="2.1" fill="#808080" fill-opacity="0.27"/>
<circle cx="222.26" cy="458.57" r="2.1" fill="#808080" fill-opacity="0.27"/>
<circle cx="221.87" cy="457.89" r="2.1" fill="#808080" fill-opacity="0.27"/>
<circle cx="221.73" cy="457.21" r="2.1" fill="#808080" fill-opacity="0.27"/>
<circle cx="223.06" cy="456.52" r="2.1" fill="#808080" fill-opacity="0.27"/>
<circle cx="223.77" cy="455.84" r="2.1" fill="#808080" fill-opacity="0.27"/>
<circle cx="221.62" cy="455.15" r="2.1" fill="#808080" fill-opacity="0.27"/>
<circle cx="222.81" cy="454.47" r="2.1" fill="#808080" fill-opacity="0.27"/>
<circle cx="221.74" cy="454.25" r="2.1" fill="#808080" fill-opacity="0.27"/>
<circle cx="222.51" cy="453.99" r="2.1" fill="#808080" fill-opacity="0.27"/>
<circle cx="222.02" cy="453.45" r="2.1" fill="#808080" fill-opacity="0.27"/>
<circle cx="221.34" cy="452.62" r="2.1" fill="#808080" fill-opacity="0.27"/>
<circle cx="221.32" cy="451.47" r="2.1" fill="#808080" fill-opacity="0.27"/>
<circle cx="221.46" cy="450.00" r="2.1" fill="#808080" fill-opacity="0.27"/>
<circle cx="223.56" cy="448.18" r="2.1" fill="#808080" fill-opacity="0.27"/>
<circle cx="222.33" cy="446.00" r="2.1" fill="#808080" fill-opacity="0.27"/>
<circle cx="221.50" cy="388.50" r="2.1" fill="#808080" fill-opacity="0.27"/>
<circle cx="223.56" cy="420.80" r="2.1" fill="#808080" fill-opacity="0.27"/>
<circle cx="223.83" cy="429.60" r="2.1" fill="#808080" fill-opacity="0.27"/>
<circle cx="222.19" cy="437.60" r="2.1" fill="#808080" fill-opacity="0.27"/>
<line x1="217.14" y1="459.60" x2="227.54" y2="459.60" stroke="#555" stroke-width="0.9" stroke-opacity="0.75"/>
<line x1="222.34" y1="454.30" x2="222.34" y2="446.00" stroke="#5a5a5a" stroke-width="0.7" stroke-opacity="0.45"/>
<line x1="222.34" y1="462.20" x2="222.34" y2="466.10" stroke="#5a5a5a" stroke-width="0.7" stroke-opacity="0.45"/>
<line x1="217.14" y1="454.50" x2="227.54" y2="454.50" stroke="#000" stroke-width="1.4" />
<rect x="232.58" y="453.10" width="10.4" height="10.60" fill="#ff1493" fill-opacity="0.5" stroke="#666" stroke-opacity="0.6" stroke-width="0.8"/>
<line x1="237.78" y1="453.10" x2="237.78" y2="437.30" stroke="#5a5a5a" stroke-width="0.9" stroke-opacity="0.85"/>
<line x1="237.78" y1="463.70" x2="237.78" y2="470.80" stroke="#5a5a5a" stroke-width="0.9" stroke-opacity="0.85"/>
<line x1="235.18" y1="437.30" x2="240.38" y2="437.30" stroke="#444" stroke-width="1.0" />
<line x1="235.18" y1="470.80" x2="240.38" y2="470.80" stroke="#444" stroke-width="1.0" />
<circle cx="236.70" cy="470.80" r="2.1" fill="#ff1493" fill-opacity="0.27"/>
<circle cx="236.86" cy="469.54" r="2.1" fill="#ff1493" fill-opacity="0.27"/>
<circle cx="236.55" cy="468.41" r="2.1" fill="#ff1493" fill-opacity="0.27"/>
<circle cx="237.31" cy="467.41" r="2.1" fill="#ff1493" fill-opacity="0.27"/>
<circle cx="236.55" cy="466.54" r="2.1" fill="#ff1493" fill-opacity="0.27"/>
<circle cx="237.00" cy="465.80" r="2.1" fill="#ff1493" fill-opacity="0.27"/>
<circle cx="237.06" cy="465.17" r="2.1" fill="#ff1493" fill-opacity="0.27"/>
<circle cx="237.99" cy="464.67" r="2.1" fill="#ff1493" fill-opacity="0.27"/>
<circle cx="238.94" cy="464.28" r="2.1" fill="#ff1493" fill-opacity="0.27"/>
<circle cx="238.53" cy="463.99" r="2.1" fill="#ff1493" fill-opacity="0.27"/>
<circle cx="237.52" cy="463.81" r="2.1" fill="#ff1493" fill-opacity="0.27"/>
<circle cx="237.52" cy="463.72" r="2.1" fill="#ff1493" fill-opacity="0.27"/>
<circle cx="237.85" cy="463.63" r="2.1" fill="#ff1493" fill-opacity="0.27"/>
<circle cx="237.41" cy="463.33" r="2.1" fill="#ff1493" fill-opacity="0.27"/>
<circle cx="237.29" cy="463.03" r="2.1" fill="#ff1493" fill-opacity="0.27"/>
<circle cx="236.47" cy="462.73" r="2.1" fill="#ff1493" fill-opacity="0.27"/>
<circle cx="237.11" cy="462.43" r="2.1" fill="#ff1493" fill-opacity="0.27"/>
<circle cx="239.18" cy="462.14" r="2.1" fill="#ff1493" fill-opacity="0.27"/>
<circle cx="236.66" cy="461.84" r="2.1" fill="#ff1493" fill-opacity="0.27"/>
<circle cx="237.79" cy="461.54" r="2.1" fill="#ff1493" fill-opacity="0.27"/>
<circle cx="238.17" cy="461.24" r="2.1" fill="#ff1493" fill-opacity="0.27"/>
<circle cx="238.87" cy="460.94" r="2.1" fill="#ff1493" fill-opacity="0.27"/>
<circle cx="236.93" cy="460.65" r="2.1" fill="#ff1493" fill-opacity="0.27"/>
<circle cx="237.09" cy="460.35" r="2.1" fill="#ff1493" fill-opacity="0.27"/>
<circle cx="237.03" cy="459.90" r="2.1" fill="#ff1493" fill-opacity="0.27"/>
<circle cx="237.48" cy="459.29" r="2.1" fill="#ff1493" fill-opacity="0.27"/>
<circle cx="237.62" cy="458.69" r="2.1" fill="#ff1493" fill-opacity="0.27"/>
<circle cx="239.14" cy="458.09" r="2.1" fill="#ff1493" fill-opacity="0.27"/>
<circle cx="238.83" cy="457.48" r="2.1" fill="#ff1493" fill-opacity="0.27"/>
<circle cx="238.90" cy="456.88" r="2.1" fill="#ff1493" fill-opacity="0.27"/>
<circle cx="236.35" cy="456.27" r="2.1" fill="#ff1493" fill-opacity="0.27"/>
<circle cx="236.38" cy="455.67" r="2.1" fill="#ff1493" fill-opacity="0.27"/>
<circle cx="238.41" cy="455.06" r="2.1" fill="#ff1493" fill-opacity="0.27"/>
<circle cx="238.97" cy="454.46" r="2.1" fill="#ff1493" fill-opacity="0.27"/>
<circle cx="237.70" cy="453.86" r="2.1" fill="#ff1493" fill-opacity="0.27"/>
<circle cx="238.04" cy="453.25" r="2.1" fill="#ff1493" fill-opacity="0.27"/>
<circle cx="236.28" cy="453.06" r="2.1" fill="#ff1493" fill-opacity="0.27"/>
<circle cx="237.45" cy="452.86" r="2.1" fill="#ff1493" fill-opacity="0.27"/>
<circle cx="239.06" cy="452.45" r="2.1" fill="#ff1493" fill-opacity="0.27"/>
<circle cx="238.76" cy="451.82" r="2.1" fill="#ff1493" fill-opacity="0.27"/>
<circle cx="238.85" cy="450.95" r="2.1" fill="#ff1493" fill-opacity="0.27"/>
<circle cx="239.20" cy="449.82" r="2.1" fill="#ff1493" fill-opacity="0.27"/>
<circle cx="237.03" cy="448.43" r="2.1" fill="#ff1493" fill-opacity="0.27"/>
<circle cx="236.61" cy="446.78" r="2.1" fill="#ff1493" fill-opacity="0.27"/>
<circle cx="236.74" cy="444.84" r="2.1" fill="#ff1493" fill-opacity="0.27"/>
<circle cx="237.85" cy="442.62" r="2.1" fill="#ff1493" fill-opacity="0.27"/>
<circle cx="238.33" cy="440.11" r="2.1" fill="#ff1493" fill-opacity="0.27"/>
<circle cx="239.10" cy="437.30" r="2.1" fill="#ff1493" fill-opacity="0.27"/>
<circle cx="238.45" cy="396.60" r="2.1" fill="#ff1493" fill-opacity="0.27"/>
<circle cx="238.22" cy="399.10" r="2.1" fill="#ff1493" fill-opacity="0.27"/>
<circle cx="238.57" cy="428.50" r="2.1" fill="#ff1493" fill-opacity="0.27"/>
<line x1="232.58" y1="460.20" x2="242.98" y2="460.20" stroke="#555" stroke-width="0.9" stroke-opacity="0.75"/>
<line x1="237.78" y1="453.10" x2="237.78" y2="437.30" stroke="#5a5a5a" stroke-width="0.7" stroke-opacity="0.45"/>
<line x1="237.78" y1="463.70" x2="237.78" y2="470.80" stroke="#5a5a5a" stroke-width="0.7" stroke-opacity="0.45"/>
<line x1="232.58" y1="455.80" x2="242.98" y2="455.80" stroke="#000" stroke-width="1.4" />
<rect x="243.23" y="453.70" width="10.4" height="10.00" fill="#808080" fill-opacity="0.5" stroke="#666" stroke-opacity="0.6" stroke-width="0.8"/>
<line x1="248.43" y1="453.70" x2="248.43" y2="442.60" stroke="#5a5a5a" stroke-width="0.9" stroke-opacity="0.85"/>
<line x1="248.43" y1="463.70" x2="248.43" y2="467.80" stroke="#5a5a5a" stroke-width="0.9" stroke-opacity="0.85"/>
<line x1="245.83" y1="442.60" x2="251.03" y2="442.60" stroke="#444" stroke-width="1.0" />
<line x1="245.83" y1="467.80" x2="251.03" y2="467.80" stroke="#444" stroke-width="1.0" />
<circle cx="248.30" cy="467.80" r="2.1" fill="#808080" fill-opacity="0.27"/>
<circle cx="248.58" cy="466.73" r="2.1" fill="#808080" fill-opacity="0.27"/>
<circle cx="247.05" cy="465.83" r="2.1" fill="#808080" fill-opacity="0.27"/>
<circle cx="249.28" cy="465.10" r="2.1" fill="#808080" fill-opacity="0.27"/>
<circle cx="247.63" cy="464.53" r="2.1" fill="#808080" fill-opacity="0.27"/>
<circle cx="249.69" cy="464.12" r="2.1" fill="#808080" fill-opacity="0.27"/>
<circle cx="248.87" cy="463.86" r="2.1" fill="#808080" fill-opacity="0.27"/>
<circle cx="247.84" cy="463.72" r="2.1" fill="#808080" fill-opacity="0.27"/>
<circle cx="247.31" cy="463.59" r="2.1" fill="#808080" fill-opacity="0.27"/>
<circle cx="247.69" cy="463.14" r="2.1" fill="#808080" fill-opacity="0.27"/>
<circle cx="248.84" cy="462.68" r="2.1" fill="#808080" fill-opacity="0.27"/>
<circle cx="249.03" cy="462.23" r="2.1" fill="#808080" fill-opacity="0.27"/>
<circle cx="247.27" cy="461.78" r="2.1" fill="#808080" fill-opacity="0.27"/>
<circle cx="247.14" cy="461.33" r="2.1" fill="#808080" fill-opacity="0.27"/>
<circle cx="248.50" cy="460.88" r="2.1" fill="#808080" fill-opacity="0.27"/>
<circle cx="248.68" cy="460.43" r="2.1" fill="#808080" fill-opacity="0.27"/>
<circle cx="248.09" cy="459.78" r="2.1" fill="#808080" fill-opacity="0.27"/>
<circle cx="247.60" cy="458.94" r="2.1" fill="#808080" fill-opacity="0.27"/>
<circle cx="248.73" cy="458.10" r="2.1" fill="#808080" fill-opacity="0.27"/>
<circle cx="246.96" cy="457.26" r="2.1" fill="#808080" fill-opacity="0.27"/>
<circle cx="247.83" cy="456.43" r="2.1" fill="#808080" fill-opacity="0.27"/>
<circle cx="248.31" cy="455.59" r="2.1" fill="#808080" fill-opacity="0.27"/>
<circle cx="249.81" cy="454.75" r="2.1" fill="#808080" fill-opacity="0.27"/>
<circle cx="248.86" cy="453.91" r="2.1" fill="#808080" fill-opacity="0.27"/>
<circle cx="249.58" cy="453.63" r="2.1" fill="#808080" fill-opacity="0.27"/>
<circle cx="248.36" cy="453.28" r="2.1" fill="#808080" fill-opacity="0.27"/>
<circle cx="247.63" cy="452.56" r="2.1" fill="#808080" fill-opacity="0.27"/>
<circle cx="247.67" cy="451.45" r="2.1" fill="#808080" fill-opacity="0.27"/>
<circle cx="249.81" cy="449.92" r="2.1" fill="#808080" fill-opacity="0.27"/>
<circle cx="249.04" cy="447.94" r="2.1" fill="#808080" fill-opacity="0.27"/>
<circle cx="247.85" cy="445.51" r="2.1" fill="#808080" fill-opacity="0.27"/>
<circle cx="247.00" cy="442.60" r="2.1" fill="#808080" fill-opacity="0.27"/>
<circle cx="248.42" cy="397.70" r="2.1" fill="#808080" fill-opacity="0.27"/>
<circle cx="248.95" cy="405.00" r="2.1" fill="#808080" fill-opacity="0.27"/>
<circle cx="248.19" cy="432.90" r="2.1" fill="#808080" fill-opacity="0.27"/>
<circle cx="247.70" cy="435.50" r="2.1" fill="#808080" fill-opacity="0.27"/>
<line x1="243.23" y1="460.20" x2="253.63" y2="460.20" stroke="#555" stroke-width="0.9" stroke-opacity="0.75"/>
<line x1="248.43" y1="453.70" x2="248.43" y2="442.60" stroke="#5a5a5a" stroke-width="0.7" stroke-opacity="0.45"/>
<line x1="248.43" y1="463.70" x2="248.43" y2="467.80" stroke="#5a5a5a" stroke-width="0.7" stroke-opacity="0.45"/>
<line x1="243.23" y1="454.40" x2="253.63" y2="454.40" stroke="#000" stroke-width="1.4" />
<rect x="258.67" y="480.10" width="10.4" height="3.90" fill="#ff1493" fill-opacity="0.5" stroke="#666" stroke-opacity="0.6" stroke-width="0.8"/>
<line x1="263.87" y1="480.10" x2="263.87" y2="477.80" stroke="#5a5a5a" stroke-width="0.9" stroke-opacity="0.85"/>
<line x1="263.87" y1="484.00" x2="263.87" y2="486.10" stroke="#5a5a5a" stroke-width="0.9" stroke-opacity="0.85"/>
<line x1="261.27" y1="477.80" x2="266.47" y2="477.80" stroke="#444" stroke-width="1.0" />
<line x1="261.27" y1="486.10" x2="266.47" y2="486.10" stroke="#444" stroke-width="1.0" />
<circle cx="264.37" cy="486.10" r="2.1" fill="#ff1493" fill-opacity="0.27"/>
<circle cx="265.15" cy="485.73" r="2.1" fill="#ff1493" fill-opacity="0.27"/>
<circle cx="263.05" cy="485.41" r="2.1" fill="#ff1493" fill-opacity="0.27"/>
<circle cx="262.47" cy="485.12" r="2.1" fill="#ff1493" fill-opacity="0.27"/>
<circle cx="263.38" cy="484.86" r="2.1" fill="#ff1493" fill-opacity="0.27"/>
<circle cx="263.63" cy="484.64" r="2.1" fill="#ff1493" fill-opacity="0.27"/>
<circle cx="264.42" cy="484.46" r="2.1" fill="#ff1493" fill-opacity="0.27"/>
<circle cx="262.96" cy="484.31" r="2.1" fill="#ff1493" fill-opacity="0.27"/>
<circle cx="264.76" cy="484.19" r="2.1" fill="#ff1493" fill-opacity="0.27"/>
<circle cx="264.59" cy="484.10" r="2.1" fill="#ff1493" fill-opacity="0.27"/>
<circle cx="263.88" cy="484.04" r="2.1" fill="#ff1493" fill-opacity="0.27"/>
<circle cx="262.99" cy="484.01" r="2.1" fill="#ff1493" fill-opacity="0.27"/>
<circle cx="265.28" cy="484.00" r="2.1" fill="#ff1493" fill-opacity="0.27"/>
<circle cx="263.31" cy="483.88" r="2.1" fill="#ff1493" fill-opacity="0.27"/>
<circle cx="264.83" cy="483.75" r="2.1" fill="#ff1493" fill-opacity="0.27"/>
<circle cx="263.06" cy="483.62" r="2.1" fill="#ff1493" fill-opacity="0.27"/>
<circle cx="263.03" cy="483.50" r="2.1" fill="#ff1493" fill-opacity="0.27"/>
<circle cx="264.65" cy="483.38" r="2.1" fill="#ff1493" fill-opacity="0.27"/>
<circle cx="263.25" cy="483.25" r="2.1" fill="#ff1493" fill-opacity="0.27"/>
<circle cx="265.23" cy="483.12" r="2.1" fill="#ff1493" fill-opacity="0.27"/>
<circle cx="263.86" cy="483.00" r="2.1" fill="#ff1493" fill-opacity="0.27"/>
<circle cx="262.93" cy="482.88" r="2.1" fill="#ff1493" fill-opacity="0.27"/>
<circle cx="263.04" cy="482.75" r="2.1" fill="#ff1493" fill-opacity="0.27"/>
<circle cx="263.62" cy="482.62" r="2.1" fill="#ff1493" fill-opacity="0.27"/>
<circle cx="264.37" cy="482.50" r="2.1" fill="#ff1493" fill-opacity="0.27"/>
<circle cx="265.22" cy="482.30" r="2.1" fill="#ff1493" fill-opacity="0.27"/>
<circle cx="262.81" cy="482.10" r="2.1" fill="#ff1493" fill-opacity="0.27"/>
<circle cx="263.55" cy="481.90" r="2.1" fill="#ff1493" fill-opacity="0.27"/>
<circle cx="263.01" cy="481.70" r="2.1" fill="#ff1493" fill-opacity="0.27"/>
<circle cx="265.29" cy="481.50" r="2.1" fill="#ff1493" fill-opacity="0.27"/>
<circle cx="262.80" cy="481.30" r="2.1" fill="#ff1493" fill-opacity="0.27"/>
<circle cx="262.53" cy="481.10" r="2.1" fill="#ff1493" fill-opacity="0.27"/>
<circle cx="262.55" cy="480.90" r="2.1" fill="#ff1493" fill-opacity="0.27"/>
<circle cx="263.55" cy="480.70" r="2.1" fill="#ff1493" fill-opacity="0.27"/>
<circle cx="265.06" cy="480.50" r="2.1" fill="#ff1493" fill-opacity="0.27"/>
<circle cx="265.02" cy="480.30" r="2.1" fill="#ff1493" fill-opacity="0.27"/>
<circle cx="264.57" cy="480.10" r="2.1" fill="#ff1493" fill-opacity="0.27"/>
<circle cx="265.36" cy="480.09" r="2.1" fill="#ff1493" fill-opacity="0.27"/>
<circle cx="265.16" cy="480.06" r="2.1" fill="#ff1493" fill-opacity="0.27"/>
<circle cx="263.36" cy="479.99" r="2.1" fill="#ff1493" fill-opacity="0.27"/>
<circle cx="262.93" cy="479.89" r="2.1" fill="#ff1493" fill-opacity="0.27"/>
<circle cx="265.18" cy="479.76" r="2.1" fill="#ff1493" fill-opacity="0.27"/>
<circle cx="264.61" cy="479.60" r="2.1" fill="#ff1493" fill-opacity="0.27"/>
<circle cx="262.47" cy="479.40" r="2.1" fill="#ff1493" fill-opacity="0.27"/>
<circle cx="264.36" cy="479.16" r="2.1" fill="#ff1493" fill-opacity="0.27"/>
<circle cx="263.51" cy="478.88" r="2.1" fill="#ff1493" fill-opacity="0.27"/>
<circle cx="263.49" cy="478.56" r="2.1" fill="#ff1493" fill-opacity="0.27"/>
<circle cx="263.37" cy="478.20" r="2.1" fill="#ff1493" fill-opacity="0.27"/>
<circle cx="262.88" cy="477.80" r="2.1" fill="#ff1493" fill-opacity="0.27"/>
<circle cx="262.38" cy="468.10" r="2.1" fill="#ff1493" fill-opacity="0.27"/>
<circle cx="263.21" cy="474.30" r="2.1" fill="#ff1493" fill-opacity="0.27"/>
<line x1="258.67" y1="482.50" x2="269.07" y2="482.50" stroke="#555" stroke-width="0.9" stroke-opacity="0.75"/>
<line x1="263.87" y1="480.10" x2="263.87" y2="477.80" stroke="#5a5a5a" stroke-width="0.7" stroke-opacity="0.45"/>
<line x1="263.87" y1="484.00" x2="263.87" y2="486.10" stroke="#5a5a5a" stroke-width="0.7" stroke-opacity="0.45"/>
<line x1="258.67" y1="481.90" x2="269.07" y2="481.90" stroke="#000" stroke-width="1.4" />
<rect x="269.32" y="479.60" width="10.4" height="3.50" fill="#808080" fill-opacity="0.5" stroke="#666" stroke-opacity="0.6" stroke-width="0.8"/>
<line x1="274.52" y1="479.60" x2="274.52" y2="477.80" stroke="#5a5a5a" stroke-width="0.9" stroke-opacity="0.85"/>
<line x1="274.52" y1="483.10" x2="274.52" y2="485.40" stroke="#5a5a5a" stroke-width="0.9" stroke-opacity="0.85"/>
<line x1="271.92" y1="477.80" x2="277.12" y2="477.80" stroke="#444" stroke-width="1.0" />
<line x1="271.92" y1="485.40" x2="277.12" y2="485.40" stroke="#444" stroke-width="1.0" />
<circle cx="274.07" cy="485.40" r="2.1" fill="#808080" fill-opacity="0.27"/>
<circle cx="275.89" cy="484.83" r="2.1" fill="#808080" fill-opacity="0.27"/>
<circle cx="273.39" cy="484.35" r="2.1" fill="#808080" fill-opacity="0.27"/>
<circle cx="275.91" cy="483.95" r="2.1" fill="#808080" fill-opacity="0.27"/>
<circle cx="273.64" cy="483.63" r="2.1" fill="#808080" fill-opacity="0.27"/>
<circle cx="274.09" cy="483.40" r="2.1" fill="#808080" fill-opacity="0.27"/>
<circle cx="275.48" cy="483.23" r="2.1" fill="#808080" fill-opacity="0.27"/>
<circle cx="275.49" cy="483.14" r="2.1" fill="#808080" fill-opacity="0.27"/>
<circle cx="274.32" cy="483.10" r="2.1" fill="#808080" fill-opacity="0.27"/>
<circle cx="273.17" cy="482.98" r="2.1" fill="#808080" fill-opacity="0.27"/>
<circle cx="274.44" cy="482.82" r="2.1" fill="#808080" fill-opacity="0.27"/>
<circle cx="274.14" cy="482.67" r="2.1" fill="#808080" fill-opacity="0.27"/>
<circle cx="275.78" cy="482.51" r="2.1" fill="#808080" fill-opacity="0.27"/>
<circle cx="273.60" cy="482.35" r="2.1" fill="#808080" fill-opacity="0.27"/>
<circle cx="274.11" cy="482.19" r="2.1" fill="#808080" fill-opacity="0.27"/>
<circle cx="275.71" cy="482.04" r="2.1" fill="#808080" fill-opacity="0.27"/>
<circle cx="273.11" cy="481.88" r="2.1" fill="#808080" fill-opacity="0.27"/>
<circle cx="274.25" cy="481.67" r="2.1" fill="#808080" fill-opacity="0.27"/>
<circle cx="275.46" cy="481.40" r="2.1" fill="#808080" fill-opacity="0.27"/>
<circle cx="275.32" cy="481.13" r="2.1" fill="#808080" fill-opacity="0.27"/>
<circle cx="273.14" cy="480.87" r="2.1" fill="#808080" fill-opacity="0.27"/>
<circle cx="273.12" cy="480.60" r="2.1" fill="#808080" fill-opacity="0.27"/>
<circle cx="273.21" cy="480.33" r="2.1" fill="#808080" fill-opacity="0.27"/>
<circle cx="275.78" cy="480.07" r="2.1" fill="#808080" fill-opacity="0.27"/>
<circle cx="273.79" cy="479.80" r="2.1" fill="#808080" fill-opacity="0.27"/>
<circle cx="275.26" cy="479.60" r="2.1" fill="#808080" fill-opacity="0.27"/>
<circle cx="275.72" cy="479.57" r="2.1" fill="#808080" fill-opacity="0.27"/>
<circle cx="274.04" cy="479.50" r="2.1" fill="#808080" fill-opacity="0.27"/>
<circle cx="273.84" cy="479.37" r="2.1" fill="#808080" fill-opacity="0.27"/>
<circle cx="275.89" cy="479.18" r="2.1" fill="#808080" fill-opacity="0.27"/>
<circle cx="274.87" cy="478.93" r="2.1" fill="#808080" fill-opacity="0.27"/>
<circle cx="273.81" cy="478.62" r="2.1" fill="#808080" fill-opacity="0.27"/>
<circle cx="275.17" cy="478.25" r="2.1" fill="#808080" fill-opacity="0.27"/>
<circle cx="273.97" cy="477.80" r="2.1" fill="#808080" fill-opacity="0.27"/>
<circle cx="273.85" cy="472.00" r="2.1" fill="#808080" fill-opacity="0.27"/>
<circle cx="273.03" cy="473.80" r="2.1" fill="#808080" fill-opacity="0.27"/>
<line x1="269.32" y1="481.80" x2="279.72" y2="481.80" stroke="#555" stroke-width="0.9" stroke-opacity="0.75"/>
<line x1="274.52" y1="479.60" x2="274.52" y2="477.80" stroke="#5a5a5a" stroke-width="0.7" stroke-opacity="0.45"/>
<line x1="274.52" y1="483.10" x2="274.52" y2="485.40" stroke="#5a5a5a" stroke-width="0.7" stroke-opacity="0.45"/>
<line x1="269.32" y1="481.30" x2="279.72" y2="481.30" stroke="#000" stroke-width="1.4" />
<rect x="284.76" y="462.00" width="10.4" height="7.00" fill="#ff1493" fill-opacity="0.5" stroke="#666" stroke-opacity="0.6" stroke-width="0.8"/>
<line x1="289.96" y1="462.00" x2="289.96" y2="454.00" stroke="#5a5a5a" stroke-width="0.9" stroke-opacity="0.85"/>
<line x1="289.96" y1="469.00" x2="289.96" y2="475.20" stroke="#5a5a5a" stroke-width="0.9" stroke-opacity="0.85"/>
<line x1="287.36" y1="454.00" x2="292.56" y2="454.00" stroke="#444" stroke-width="1.0" />
<line x1="287.36" y1="475.20" x2="292.56" y2="475.20" stroke="#444" stroke-width="1.0" />
<circle cx="290.73" cy="475.20" r="2.1" fill="#ff1493" fill-opacity="0.27"/>
<circle cx="291.21" cy="474.08" r="2.1" fill="#ff1493" fill-opacity="0.27"/>
<circle cx="290.36" cy="473.07" r="2.1" fill="#ff1493" fill-opacity="0.27"/>
<circle cx="291.29" cy="472.19" r="2.1" fill="#ff1493" fill-opacity="0.27"/>
<circle cx="288.53" cy="471.42" r="2.1" fill="#ff1493" fill-opacity="0.27"/>
<circle cx="289.16" cy="470.77" r="2.1" fill="#ff1493" fill-opacity="0.27"/>
<circle cx="289.89" cy="470.22" r="2.1" fill="#ff1493" fill-opacity="0.27"/>
<circle cx="291.33" cy="469.79" r="2.1" fill="#ff1493" fill-opacity="0.27"/>
<circle cx="291.32" cy="469.45" r="2.1" fill="#ff1493" fill-opacity="0.27"/>
<circle cx="289.62" cy="469.22" r="2.1" fill="#ff1493" fill-opacity="0.27"/>
<circle cx="289.21" cy="469.07" r="2.1" fill="#ff1493" fill-opacity="0.27"/>
<circle cx="289.75" cy="469.01" r="2.1" fill="#ff1493" fill-opacity="0.27"/>
<circle cx="289.94" cy="468.87" r="2.1" fill="#ff1493" fill-opacity="0.27"/>
<circle cx="291.24" cy="468.61" r="2.1" fill="#ff1493" fill-opacity="0.27"/>
<circle cx="289.01" cy="468.35" r="2.1" fill="#ff1493" fill-opacity="0.27"/>
<circle cx="290.87" cy="468.09" r="2.1" fill="#ff1493" fill-opacity="0.27"/>
<circle cx="290.68" cy="467.83" r="2.1" fill="#ff1493" fill-opacity="0.27"/>
<circle cx="290.93" cy="467.57" r="2.1" fill="#ff1493" fill-opacity="0.27"/>
<circle cx="290.78" cy="467.30" r="2.1" fill="#ff1493" fill-opacity="0.27"/>
<circle cx="290.28" cy="467.04" r="2.1" fill="#ff1493" fill-opacity="0.27"/>
<circle cx="289.44" cy="466.78" r="2.1" fill="#ff1493" fill-opacity="0.27"/>
<circle cx="289.42" cy="466.52" r="2.1" fill="#ff1493" fill-opacity="0.27"/>
<circle cx="289.55" cy="466.26" r="2.1" fill="#ff1493" fill-opacity="0.27"/>
<circle cx="290.81" cy="466.00" r="2.1" fill="#ff1493" fill-opacity="0.27"/>
<circle cx="288.70" cy="465.65" r="2.1" fill="#ff1493" fill-opacity="0.27"/>
<circle cx="289.05" cy="465.30" r="2.1" fill="#ff1493" fill-opacity="0.27"/>
<circle cx="290.72" cy="464.96" r="2.1" fill="#ff1493" fill-opacity="0.27"/>
<circle cx="289.20" cy="464.61" r="2.1" fill="#ff1493" fill-opacity="0.27"/>
<circle cx="288.65" cy="464.26" r="2.1" fill="#ff1493" fill-opacity="0.27"/>
<circle cx="288.56" cy="463.91" r="2.1" fill="#ff1493" fill-opacity="0.27"/>
<circle cx="290.12" cy="463.57" r="2.1" fill="#ff1493" fill-opacity="0.27"/>
<circle cx="289.44" cy="463.22" r="2.1" fill="#ff1493" fill-opacity="0.27"/>
<circle cx="291.40" cy="462.87" r="2.1" fill="#ff1493" fill-opacity="0.27"/>
<circle cx="291.11" cy="462.52" r="2.1" fill="#ff1493" fill-opacity="0.27"/>
<circle cx="291.42" cy="462.17" r="2.1" fill="#ff1493" fill-opacity="0.27"/>
<circle cx="289.25" cy="461.99" r="2.1" fill="#ff1493" fill-opacity="0.27"/>
<circle cx="288.71" cy="461.91" r="2.1" fill="#ff1493" fill-opacity="0.27"/>
<circle cx="288.75" cy="461.72" r="2.1" fill="#ff1493" fill-opacity="0.27"/>
<circle cx="289.96" cy="461.42" r="2.1" fill="#ff1493" fill-opacity="0.27"/>
<circle cx="290.59" cy="460.98" r="2.1" fill="#ff1493" fill-opacity="0.27"/>
<circle cx="289.80" cy="460.42" r="2.1" fill="#ff1493" fill-opacity="0.27"/>
<circle cx="289.16" cy="459.72" r="2.1" fill="#ff1493" fill-opacity="0.27"/>
<circle cx="289.71" cy="458.88" r="2.1" fill="#ff1493" fill-opacity="0.27"/>
<circle cx="290.32" cy="457.89" r="2.1" fill="#ff1493" fill-opacity="0.27"/>
<circle cx="290.48" cy="456.75" r="2.1" fill="#ff1493" fill-opacity="0.27"/>
<circle cx="290.70" cy="455.45" r="2.1" fill="#ff1493" fill-opacity="0.27"/>
<circle cx="291.00" cy="454.00" r="2.1" fill="#ff1493" fill-opacity="0.27"/>
<circle cx="290.45" cy="425.50" r="2.1" fill="#ff1493" fill-opacity="0.27"/>
<circle cx="288.82" cy="445.20" r="2.1" fill="#ff1493" fill-opacity="0.27"/>
<circle cx="290.98" cy="446.10" r="2.1" fill="#ff1493" fill-opacity="0.27"/>
<circle cx="289.34" cy="450.90" r="2.1" fill="#ff1493" fill-opacity="0.27"/>
<line x1="284.76" y1="466.00" x2="295.16" y2="466.00" stroke="#555" stroke-width="0.9" stroke-opacity="0.75"/>
<line x1="289.96" y1="462.00" x2="289.96" y2="454.00" stroke="#5a5a5a" stroke-width="0.7" stroke-opacity="0.45"/>
<line x1="289.96" y1="469.00" x2="289.96" y2="475.20" stroke="#5a5a5a" stroke-width="0.7" stroke-opacity="0.45"/>
<line x1="284.76" y1="463.70" x2="295.16" y2="463.70" stroke="#000" stroke-width="1.4" />
<rect x="295.41" y="461.10" width="10.4" height="7.00" fill="#808080" fill-opacity="0.5" stroke="#666" stroke-opacity="0.6" stroke-width="0.8"/>
<line x1="300.61" y1="461.10" x2="300.61" y2="451.40" stroke="#5a5a5a" stroke-width="0.9" stroke-opacity="0.85"/>
<line x1="300.61" y1="468.10" x2="300.61" y2="476.60" stroke="#5a5a5a" stroke-width="0.9" stroke-opacity="0.85"/>
<line x1="298.01" y1="451.40" x2="303.21" y2="451.40" stroke="#444" stroke-width="1.0" />
<line x1="298.01" y1="476.60" x2="303.21" y2="476.60" stroke="#444" stroke-width="1.0" />
<circle cx="300.81" cy="476.60" r="2.1" fill="#808080" fill-opacity="0.27"/>
<circle cx="300.23" cy="474.44" r="2.1" fill="#808080" fill-opacity="0.27"/>
<circle cx="301.32" cy="472.61" r="2.1" fill="#808080" fill-opacity="0.27"/>
<circle cx="299.71" cy="471.12" r="2.1" fill="#808080" fill-opacity="0.27"/>
<circle cx="299.85" cy="469.95" r="2.1" fill="#808080" fill-opacity="0.27"/>
<circle cx="299.85" cy="469.08" r="2.1" fill="#808080" fill-opacity="0.27"/>
<circle cx="299.57" cy="468.50" r="2.1" fill="#808080" fill-opacity="0.27"/>
<circle cx="301.76" cy="468.19" r="2.1" fill="#808080" fill-opacity="0.27"/>
<circle cx="300.84" cy="468.10" r="2.1" fill="#808080" fill-opacity="0.27"/>
<circle cx="300.09" cy="467.84" r="2.1" fill="#808080" fill-opacity="0.27"/>
<circle cx="300.30" cy="467.58" r="2.1" fill="#808080" fill-opacity="0.27"/>
<circle cx="302.09" cy="467.31" r="2.1" fill="#808080" fill-opacity="0.27"/>
<circle cx="300.63" cy="467.05" r="2.1" fill="#808080" fill-opacity="0.27"/>
<circle cx="299.80" cy="466.79" r="2.1" fill="#808080" fill-opacity="0.27"/>
<circle cx="301.54" cy="466.52" r="2.1" fill="#808080" fill-opacity="0.27"/>
<circle cx="301.07" cy="466.26" r="2.1" fill="#808080" fill-opacity="0.27"/>
<circle cx="302.08" cy="466.00" r="2.1" fill="#808080" fill-opacity="0.27"/>
<circle cx="299.42" cy="465.39" r="2.1" fill="#808080" fill-opacity="0.27"/>
<circle cx="300.53" cy="464.77" r="2.1" fill="#808080" fill-opacity="0.27"/>
<circle cx="301.57" cy="464.16" r="2.1" fill="#808080" fill-opacity="0.27"/>
<circle cx="301.63" cy="463.55" r="2.1" fill="#808080" fill-opacity="0.27"/>
<circle cx="301.85" cy="462.94" r="2.1" fill="#808080" fill-opacity="0.27"/>
<circle cx="299.23" cy="462.33" r="2.1" fill="#808080" fill-opacity="0.27"/>
<circle cx="299.99" cy="461.71" r="2.1" fill="#808080" fill-opacity="0.27"/>
<circle cx="299.47" cy="461.10" r="2.1" fill="#808080" fill-opacity="0.27"/>
<circle cx="299.68" cy="461.00" r="2.1" fill="#808080" fill-opacity="0.27"/>
<circle cx="302.03" cy="460.64" r="2.1" fill="#808080" fill-opacity="0.27"/>
<circle cx="300.86" cy="459.98" r="2.1" fill="#808080" fill-opacity="0.27"/>
<circle cx="301.90" cy="458.99" r="2.1" fill="#808080" fill-opacity="0.27"/>
<circle cx="300.23" cy="457.65" r="2.1" fill="#808080" fill-opacity="0.27"/>
<circle cx="301.71" cy="455.95" r="2.1" fill="#808080" fill-opacity="0.27"/>
<circle cx="300.46" cy="453.87" r="2.1" fill="#808080" fill-opacity="0.27"/>
<circle cx="299.89" cy="451.40" r="2.1" fill="#808080" fill-opacity="0.27"/>
<circle cx="301.44" cy="424.60" r="2.1" fill="#808080" fill-opacity="0.27"/>
<circle cx="301.95" cy="442.00" r="2.1" fill="#808080" fill-opacity="0.27"/>
<circle cx="299.43" cy="446.10" r="2.1" fill="#808080" fill-opacity="0.27"/>
<line x1="295.41" y1="466.00" x2="305.81" y2="466.00" stroke="#555" stroke-width="0.9" stroke-opacity="0.75"/>
<line x1="300.61" y1="461.10" x2="300.61" y2="451.40" stroke="#5a5a5a" stroke-width="0.7" stroke-opacity="0.45"/>
<line x1="300.61" y1="468.10" x2="300.61" y2="476.60" stroke="#5a5a5a" stroke-width="0.7" stroke-opacity="0.45"/>
<line x1="295.41" y1="462.50" x2="305.81" y2="462.50" stroke="#000" stroke-width="1.4" />
<rect x="310.85" y="474.80" width="10.4" height="3.00" fill="#ff1493" fill-opacity="0.5" stroke="#666" stroke-opacity="0.6" stroke-width="0.8"/>
<line x1="316.05" y1="474.80" x2="316.05" y2="469.90" stroke="#5a5a5a" stroke-width="0.9" stroke-opacity="0.85"/>
<line x1="316.05" y1="477.80" x2="316.05" y2="481.30" stroke="#5a5a5a" stroke-width="0.9" stroke-opacity="0.85"/>
<line x1="313.45" y1="469.90" x2="318.65" y2="469.90" stroke="#444" stroke-width="1.0" />
<line x1="313.45" y1="481.30" x2="318.65" y2="481.30" stroke="#444" stroke-width="1.0" />
<circle cx="316.34" cy="481.30" r="2.1" fill="#ff1493" fill-opacity="0.27"/>
<circle cx="316.41" cy="480.69" r="2.1" fill="#ff1493" fill-opacity="0.27"/>
<circle cx="315.20" cy="480.14" r="2.1" fill="#ff1493" fill-opacity="0.27"/>
<circle cx="315.66" cy="479.66" r="2.1" fill="#ff1493" fill-opacity="0.27"/>
<circle cx="314.97" cy="479.23" r="2.1" fill="#ff1493" fill-opacity="0.27"/>
<circle cx="315.16" cy="478.87" r="2.1" fill="#ff1493" fill-opacity="0.27"/>
<circle cx="315.31" cy="478.56" r="2.1" fill="#ff1493" fill-opacity="0.27"/>
<circle cx="316.35" cy="478.31" r="2.1" fill="#ff1493" fill-opacity="0.27"/>
<circle cx="316.50" cy="478.11" r="2.1" fill="#ff1493" fill-opacity="0.27"/>
<circle cx="315.16" cy="477.97" r="2.1" fill="#ff1493" fill-opacity="0.27"/>
<circle cx="314.58" cy="477.87" r="2.1" fill="#ff1493" fill-opacity="0.27"/>
<circle cx="315.53" cy="477.81" r="2.1" fill="#ff1493" fill-opacity="0.27"/>
<circle cx="316.58" cy="477.80" r="2.1" fill="#ff1493" fill-opacity="0.27"/>
<circle cx="315.11" cy="477.70" r="2.1" fill="#ff1493" fill-opacity="0.27"/>
<circle cx="315.49" cy="477.60" r="2.1" fill="#ff1493" fill-opacity="0.27"/>
<circle cx="315.16" cy="477.50" r="2.1" fill="#ff1493" fill-opacity="0.27"/>
<circle cx="316.94" cy="477.40" r="2.1" fill="#ff1493" fill-opacity="0.27"/>
<circle cx="316.19" cy="477.30" r="2.1" fill="#ff1493" fill-opacity="0.27"/>
<circle cx="314.74" cy="477.20" r="2.1" fill="#ff1493" fill-opacity="0.27"/>
<circle cx="314.85" cy="477.10" r="2.1" fill="#ff1493" fill-opacity="0.27"/>
<circle cx="315.74" cy="477.00" r="2.1" fill="#ff1493" fill-opacity="0.27"/>
<circle cx="316.20" cy="476.90" r="2.1" fill="#ff1493" fill-opacity="0.27"/>
<circle cx="316.47" cy="476.80" r="2.1" fill="#ff1493" fill-opacity="0.27"/>
<circle cx="314.82" cy="476.70" r="2.1" fill="#ff1493" fill-opacity="0.27"/>
<circle cx="315.04" cy="476.60" r="2.1" fill="#ff1493" fill-opacity="0.27"/>
<circle cx="316.64" cy="476.45" r="2.1" fill="#ff1493" fill-opacity="0.27"/>
<circle cx="315.78" cy="476.30" r="2.1" fill="#ff1493" fill-opacity="0.27"/>
<circle cx="315.40" cy="476.15" r="2.1" fill="#ff1493" fill-opacity="0.27"/>
<circle cx="315.47" cy="476.00" r="2.1" fill="#ff1493" fill-opacity="0.27"/>
<circle cx="317.41" cy="475.85" r="2.1" fill="#ff1493" fill-opacity="0.27"/>
<circle cx="315.49" cy="475.70" r="2.1" fill="#ff1493" fill-opacity="0.27"/>
<circle cx="316.25" cy="475.55" r="2.1" fill="#ff1493" fill-opacity="0.27"/>
<circle cx="315.62" cy="475.40" r="2.1" fill="#ff1493" fill-opacity="0.27"/>
<circle cx="315.80" cy="475.25" r="2.1" fill="#ff1493" fill-opacity="0.27"/>
<circle cx="317.14" cy="475.10" r="2.1" fill="#ff1493" fill-opacity="0.27"/>
<circle cx="317.54" cy="474.95" r="2.1" fill="#ff1493" fill-opacity="0.27"/>
<circle cx="315.64" cy="474.80" r="2.1" fill="#ff1493" fill-opacity="0.27"/>
<circle cx="315.14" cy="474.78" r="2.1" fill="#ff1493" fill-opacity="0.27"/>
<circle cx="316.73" cy="474.70" r="2.1" fill="#ff1493" fill-opacity="0.27"/>
<circle cx="315.16" cy="474.57" r="2.1" fill="#ff1493" fill-opacity="0.27"/>
<circle cx="314.57" cy="474.36" r="2.1" fill="#ff1493" fill-opacity="0.27"/>
<circle cx="317.25" cy="474.09" r="2.1" fill="#ff1493" fill-opacity="0.27"/>
<circle cx="315.82" cy="473.73" r="2.1" fill="#ff1493" fill-opacity="0.27"/>
<circle cx="317.01" cy="473.30" r="2.1" fill="#ff1493" fill-opacity="0.27"/>
<circle cx="315.77" cy="472.79" r="2.1" fill="#ff1493" fill-opacity="0.27"/>
<circle cx="317.20" cy="472.20" r="2.1" fill="#ff1493" fill-opacity="0.27"/>
<circle cx="315.93" cy="471.52" r="2.1" fill="#ff1493" fill-opacity="0.27"/>
<circle cx="315.04" cy="470.75" r="2.1" fill="#ff1493" fill-opacity="0.27"/>
<circle cx="314.59" cy="469.90" r="2.1" fill="#ff1493" fill-opacity="0.27"/>
<circle cx="316.20" cy="456.70" r="2.1" fill="#ff1493" fill-opacity="0.27"/>
<circle cx="316.47" cy="466.40" r="2.1" fill="#ff1493" fill-opacity="0.27"/>
<line x1="310.85" y1="476.60" x2="321.25" y2="476.60" stroke="#555" stroke-width="0.9" stroke-opacity="0.75"/>
<line x1="316.05" y1="474.80" x2="316.05" y2="469.90" stroke="#5a5a5a" stroke-width="0.7" stroke-opacity="0.45"/>
<line x1="316.05" y1="477.80" x2="316.05" y2="481.30" stroke="#5a5a5a" stroke-width="0.7" stroke-opacity="0.45"/>
<line x1="310.85" y1="476.00" x2="321.25" y2="476.00" stroke="#000" stroke-width="1.4" />
<rect x="321.50" y="475.20" width="10.4" height="2.60" fill="#808080" fill-opacity="0.5" stroke="#666" stroke-opacity="0.6" stroke-width="0.8"/>
<line x1="326.70" y1="475.20" x2="326.70" y2="470.20" stroke="#5a5a5a" stroke-width="0.9" stroke-opacity="0.85"/>
<line x1="326.70" y1="477.80" x2="326.70" y2="481.30" stroke="#5a5a5a" stroke-width="0.9" stroke-opacity="0.85"/>
<line x1="324.10" y1="470.20" x2="329.30" y2="470.20" stroke="#444" stroke-width="1.0" />
<line x1="324.10" y1="481.30" x2="329.30" y2="481.30" stroke="#444" stroke-width="1.0" />
<circle cx="327.93" cy="481.30" r="2.1" fill="#808080" fill-opacity="0.27"/>
<circle cx="325.47" cy="480.41" r="2.1" fill="#808080" fill-opacity="0.27"/>
<circle cx="327.07" cy="479.66" r="2.1" fill="#808080" fill-opacity="0.27"/>
<circle cx="326.31" cy="479.04" r="2.1" fill="#808080" fill-opacity="0.27"/>
<circle cx="326.71" cy="478.56" r="2.1" fill="#808080" fill-opacity="0.27"/>
<circle cx="325.64" cy="478.20" r="2.1" fill="#808080" fill-opacity="0.27"/>
<circle cx="326.05" cy="477.97" r="2.1" fill="#808080" fill-opacity="0.27"/>
<circle cx="326.76" cy="477.84" r="2.1" fill="#808080" fill-opacity="0.27"/>
<circle cx="327.98" cy="477.80" r="2.1" fill="#808080" fill-opacity="0.27"/>
<circle cx="325.53" cy="477.65" r="2.1" fill="#808080" fill-opacity="0.27"/>
<circle cx="326.67" cy="477.50" r="2.1" fill="#808080" fill-opacity="0.27"/>
<circle cx="327.61" cy="477.35" r="2.1" fill="#808080" fill-opacity="0.27"/>
<circle cx="328.10" cy="477.20" r="2.1" fill="#808080" fill-opacity="0.27"/>
<circle cx="325.79" cy="477.05" r="2.1" fill="#808080" fill-opacity="0.27"/>
<circle cx="325.58" cy="476.90" r="2.1" fill="#808080" fill-opacity="0.27"/>
<circle cx="328.03" cy="476.75" r="2.1" fill="#808080" fill-opacity="0.27"/>
<circle cx="328.13" cy="476.60" r="2.1" fill="#808080" fill-opacity="0.27"/>
<circle cx="326.65" cy="476.43" r="2.1" fill="#808080" fill-opacity="0.27"/>
<circle cx="325.36" cy="476.25" r="2.1" fill="#808080" fill-opacity="0.27"/>
<circle cx="327.98" cy="476.07" r="2.1" fill="#808080" fill-opacity="0.27"/>
<circle cx="326.36" cy="475.90" r="2.1" fill="#808080" fill-opacity="0.27"/>
<circle cx="327.91" cy="475.73" r="2.1" fill="#808080" fill-opacity="0.27"/>
<circle cx="327.06" cy="475.55" r="2.1" fill="#808080" fill-opacity="0.27"/>
<circle cx="327.67" cy="475.38" r="2.1" fill="#808080" fill-opacity="0.27"/>
<circle cx="325.68" cy="475.20" r="2.1" fill="#808080" fill-opacity="0.27"/>
<circle cx="327.56" cy="475.15" r="2.1" fill="#808080" fill-opacity="0.27"/>
<circle cx="325.87" cy="474.96" r="2.1" fill="#808080" fill-opacity="0.27"/>
<circle cx="326.41" cy="474.62" r="2.1" fill="#808080" fill-opacity="0.27"/>
<circle cx="327.74" cy="474.11" r="2.1" fill="#808080" fill-opacity="0.27"/>
<circle cx="327.69" cy="473.42" r="2.1" fill="#808080" fill-opacity="0.27"/>
<circle cx="325.75" cy="472.54" r="2.1" fill="#808080" fill-opacity="0.27"/>
<circle cx="325.85" cy="471.47" r="2.1" fill="#808080" fill-opacity="0.27"/>
<circle cx="326.40" cy="470.20" r="2.1" fill="#808080" fill-opacity="0.27"/>
<circle cx="326.75" cy="458.40" r="2.1" fill="#808080" fill-opacity="0.27"/>
<circle cx="326.35" cy="463.70" r="2.1" fill="#808080" fill-opacity="0.27"/>
<circle cx="325.57" cy="466.00" r="2.1" fill="#808080" fill-opacity="0.27"/>
<line x1="321.50" y1="476.60" x2="331.90" y2="476.60" stroke="#555" stroke-width="0.9" stroke-opacity="0.75"/>
<line x1="326.70" y1="475.20" x2="326.70" y2="470.20" stroke="#5a5a5a" stroke-width="0.7" stroke-opacity="0.45"/>
<line x1="326.70" y1="477.80" x2="326.70" y2="481.30" stroke="#5a5a5a" stroke-width="0.7" stroke-opacity="0.45"/>
<line x1="321.50" y1="476.00" x2="331.90" y2="476.00" stroke="#000" stroke-width="1.4" />
<rect x="238.3" y="334.3" width="84.1" height="36.8" rx="1.8" fill="#fff" fill-opacity="0.85" stroke="#d4d4d4" stroke-width="0.8"/>
<circle cx="246.40" cy="341.50" r="2.75" fill="#ff1493"/>
<circle cx="246.40" cy="353.00" r="2.65" fill="#808080"/>
<line x1="241.90" y1="363.50" x2="251.70" y2="363.50" stroke="#000" stroke-width="1.3" />
<text x="255.10" y="344.20" font-size="9.2" text-anchor="start" fill="#1a1a1a" >proband (n=51)</text>
<text x="255.10" y="355.60" font-size="9.2" text-anchor="start" fill="#1a1a1a" >sibling (n=36)</text>
<text x="255.10" y="366.70" font-size="9.2" text-anchor="start" fill="#1a1a1a" >Mean</text>
<line x1="378.00" y1="297.20" x2="378.00" y2="495.80" stroke="#333" stroke-width="1.1" />
<line x1="377.50" y1="495.30" x2="676.30" y2="495.30" stroke="#333" stroke-width="1.1" />
<line x1="375.00" y1="487.00" x2="378.00" y2="487.00" stroke="#333" stroke-width="1" />
<text x="372.80" y="489.75" font-size="8.2" text-anchor="end" fill="#262626" >0</text>
<line x1="375.00" y1="460.60" x2="378.00" y2="460.60" stroke="#333" stroke-width="1" />
<text x="372.80" y="463.35" font-size="8.2" text-anchor="end" fill="#262626" >5</text>
<line x1="375.00" y1="434.20" x2="378.00" y2="434.20" stroke="#333" stroke-width="1" />
<text x="372.80" y="436.95" font-size="8.2" text-anchor="end" fill="#262626" >10</text>
<line x1="375.00" y1="407.80" x2="378.00" y2="407.80" stroke="#333" stroke-width="1" />
<text x="372.80" y="410.55" font-size="8.2" text-anchor="end" fill="#262626" >15</text>
<line x1="375.00" y1="381.40" x2="378.00" y2="381.40" stroke="#333" stroke-width="1" />
<text x="372.80" y="384.15" font-size="8.2" text-anchor="end" fill="#262626" >20</text>
<line x1="375.00" y1="355.00" x2="378.00" y2="355.00" stroke="#333" stroke-width="1" />
<text x="372.80" y="357.75" font-size="8.2" text-anchor="end" fill="#262626" >25</text>
<line x1="375.00" y1="328.60" x2="378.00" y2="328.60" stroke="#333" stroke-width="1" />
<text x="372.80" y="331.35" font-size="8.2" text-anchor="end" fill="#262626" >30</text>
<line x1="375.00" y1="302.20" x2="378.00" y2="302.20" stroke="#333" stroke-width="1" />
<text x="372.80" y="304.95" font-size="8.2" text-anchor="end" fill="#262626" >35</text>
<line x1="396.10" y1="495.30" x2="396.10" y2="498.30" stroke="#333" stroke-width="1" />
<text x="395.10" y="510.30" font-size="10.0" text-anchor="middle" fill="#1a1a1a" >Total</text>
<line x1="422.34" y1="495.30" x2="422.34" y2="498.30" stroke="#333" stroke-width="1" />
<text x="421.34" y="510.30" font-size="10.0" text-anchor="middle" fill="#1a1a1a" >Exon</text>
<line x1="448.58" y1="495.30" x2="448.58" y2="498.30" stroke="#333" stroke-width="1" />
<text x="447.58" y="510.30" font-size="10.0" text-anchor="middle" fill="#1a1a1a" >Inter</text>
<line x1="474.82" y1="495.30" x2="474.82" y2="498.30" stroke="#333" stroke-width="1" />
<text x="473.82" y="510.30" font-size="10.0" text-anchor="middle" fill="#1a1a1a" >Intron</text>
<line x1="501.06" y1="495.30" x2="501.06" y2="498.30" stroke="#333" stroke-width="1" />
<text x="500.06" y="510.30" font-size="10.0" text-anchor="middle" fill="#1a1a1a" >DEL</text>
<line x1="527.30" y1="495.30" x2="527.30" y2="498.30" stroke="#333" stroke-width="1" />
<text x="526.30" y="510.30" font-size="10.0" text-anchor="middle" fill="#1a1a1a" >INS</text>
<line x1="553.54" y1="495.30" x2="553.54" y2="498.30" stroke="#333" stroke-width="1" />
<text x="552.54" y="510.30" font-size="10.0" text-anchor="middle" fill="#1a1a1a" >Mat</text>
<line x1="579.78" y1="495.30" x2="579.78" y2="498.30" stroke="#333" stroke-width="1" />
<text x="578.78" y="510.30" font-size="10.0" text-anchor="middle" fill="#1a1a1a" >Pat</text>
<line x1="606.02" y1="495.30" x2="606.02" y2="498.30" stroke="#333" stroke-width="1" />
<text x="605.02" y="510.30" font-size="10.0" text-anchor="middle" fill="#1a1a1a" >NDD</text>
<line x1="632.26" y1="495.30" x2="632.26" y2="498.30" stroke="#333" stroke-width="1" />
<text x="631.26" y="510.30" font-size="10.0" text-anchor="middle" fill="#1a1a1a" >REG</text>
<line x1="658.50" y1="495.30" x2="658.50" y2="498.30" stroke="#333" stroke-width="1" />
<text x="663.00" y="510.30" font-size="10.0" text-anchor="middle" fill="#1a1a1a" >brainREG</text>
<text transform="translate(356.40,386.40) rotate(-90)" font-size="11.5" text-anchor="middle" fill="#1a1a1a">Private SVs per female</text>
<text x="470.70" y="319.10" font-size="11.5" text-anchor="start" fill="#1a1a1a" >X chromosome</text>
<rect x="385.45" y="434.30" width="10.4" height="21.10" fill="#ff1493" fill-opacity="0.5" stroke="#666" stroke-opacity="0.6" stroke-width="0.8"/>
<line x1="390.65" y1="434.30" x2="390.65" y2="402.60" stroke="#5a5a5a" stroke-width="0.9" stroke-opacity="0.85"/>
<line x1="390.65" y1="455.40" x2="390.65" y2="471.20" stroke="#5a5a5a" stroke-width="0.9" stroke-opacity="0.85"/>
<line x1="388.05" y1="402.60" x2="393.25" y2="402.60" stroke="#444" stroke-width="1.0" />
<line x1="388.05" y1="471.20" x2="393.25" y2="471.20" stroke="#444" stroke-width="1.0" />
<circle cx="390.40" cy="471.16" r="2.1" fill="#ff1493" fill-opacity="0.27"/>
<circle cx="390.87" cy="465.88" r="2.1" fill="#ff1493" fill-opacity="0.27"/>
<circle cx="391.05" cy="465.88" r="2.1" fill="#ff1493" fill-opacity="0.27"/>
<circle cx="390.19" cy="460.60" r="2.1" fill="#ff1493" fill-opacity="0.27"/>
<circle cx="390.71" cy="460.60" r="2.1" fill="#ff1493" fill-opacity="0.27"/>
<circle cx="390.91" cy="455.32" r="2.1" fill="#ff1493" fill-opacity="0.27"/>
<circle cx="390.19" cy="455.32" r="2.1" fill="#ff1493" fill-opacity="0.27"/>
<circle cx="390.99" cy="455.32" r="2.1" fill="#ff1493" fill-opacity="0.27"/>
<circle cx="390.27" cy="455.32" r="2.1" fill="#ff1493" fill-opacity="0.27"/>
<circle cx="390.75" cy="450.04" r="2.1" fill="#ff1493" fill-opacity="0.27"/>
<circle cx="390.70" cy="450.04" r="2.1" fill="#ff1493" fill-opacity="0.27"/>
<circle cx="390.78" cy="450.04" r="2.1" fill="#ff1493" fill-opacity="0.27"/>
<circle cx="390.46" cy="450.04" r="2.1" fill="#ff1493" fill-opacity="0.27"/>
<circle cx="390.57" cy="444.76" r="2.1" fill="#ff1493" fill-opacity="0.27"/>
<circle cx="390.73" cy="444.76" r="2.1" fill="#ff1493" fill-opacity="0.27"/>
<circle cx="390.58" cy="444.76" r="2.1" fill="#ff1493" fill-opacity="0.27"/>
<circle cx="390.81" cy="444.76" r="2.1" fill="#ff1493" fill-opacity="0.27"/>
<circle cx="390.60" cy="444.76" r="2.1" fill="#ff1493" fill-opacity="0.27"/>
<circle cx="390.59" cy="444.76" r="2.1" fill="#ff1493" fill-opacity="0.27"/>
<circle cx="390.17" cy="439.48" r="2.1" fill="#ff1493" fill-opacity="0.27"/>
<circle cx="390.77" cy="439.48" r="2.1" fill="#ff1493" fill-opacity="0.27"/>
<circle cx="390.64" cy="439.48" r="2.1" fill="#ff1493" fill-opacity="0.27"/>
<circle cx="390.39" cy="439.48" r="2.1" fill="#ff1493" fill-opacity="0.27"/>
<circle cx="390.91" cy="439.48" r="2.1" fill="#ff1493" fill-opacity="0.27"/>
<circle cx="390.93" cy="434.20" r="2.1" fill="#ff1493" fill-opacity="0.27"/>
<circle cx="390.61" cy="434.20" r="2.1" fill="#ff1493" fill-opacity="0.27"/>
<circle cx="390.33" cy="434.20" r="2.1" fill="#ff1493" fill-opacity="0.27"/>
<circle cx="390.62" cy="434.20" r="2.1" fill="#ff1493" fill-opacity="0.27"/>
<circle cx="390.26" cy="434.20" r="2.1" fill="#ff1493" fill-opacity="0.27"/>
<circle cx="390.28" cy="434.20" r="2.1" fill="#ff1493" fill-opacity="0.27"/>
<circle cx="390.58" cy="428.92" r="2.1" fill="#ff1493" fill-opacity="0.27"/>
<circle cx="390.24" cy="428.92" r="2.1" fill="#ff1493" fill-opacity="0.27"/>
<circle cx="390.59" cy="423.64" r="2.1" fill="#ff1493" fill-opacity="0.27"/>
<circle cx="390.66" cy="423.64" r="2.1" fill="#ff1493" fill-opacity="0.27"/>
<circle cx="390.19" cy="418.36" r="2.1" fill="#ff1493" fill-opacity="0.27"/>
<circle cx="390.79" cy="418.36" r="2.1" fill="#ff1493" fill-opacity="0.27"/>
<circle cx="390.23" cy="407.80" r="2.1" fill="#ff1493" fill-opacity="0.27"/>
<circle cx="390.88" cy="407.80" r="2.1" fill="#ff1493" fill-opacity="0.27"/>
<circle cx="390.93" cy="402.52" r="2.1" fill="#ff1493" fill-opacity="0.27"/>
<circle cx="390.66" cy="307.48" r="2.1" fill="#ff1493" fill-opacity="0.27"/>
<line x1="385.45" y1="444.60" x2="395.85" y2="444.60" stroke="#555" stroke-width="0.9" stroke-opacity="0.75"/>
<line x1="390.65" y1="434.30" x2="390.65" y2="402.60" stroke="#5a5a5a" stroke-width="0.7" stroke-opacity="0.45"/>
<line x1="390.65" y1="455.40" x2="390.65" y2="471.20" stroke="#5a5a5a" stroke-width="0.7" stroke-opacity="0.45"/>
<line x1="385.45" y1="437.40" x2="395.85" y2="437.40" stroke="#000" stroke-width="1.4" />
<rect x="396.20" y="436.90" width="10.4" height="13.10" fill="#808080" fill-opacity="0.5" stroke="#666" stroke-opacity="0.6" stroke-width="0.8"/>
<line x1="401.40" y1="436.90" x2="401.40" y2="423.60" stroke="#5a5a5a" stroke-width="0.9" stroke-opacity="0.85"/>
<line x1="401.40" y1="450.00" x2="401.40" y2="465.90" stroke="#5a5a5a" stroke-width="0.9" stroke-opacity="0.85"/>
<line x1="398.80" y1="423.60" x2="404.00" y2="423.60" stroke="#444" stroke-width="1.0" />
<line x1="398.80" y1="465.90" x2="404.00" y2="465.90" stroke="#444" stroke-width="1.0" />
<circle cx="400.95" cy="465.88" r="2.1" fill="#808080" fill-opacity="0.27"/>
<circle cx="401.40" cy="460.60" r="2.1" fill="#808080" fill-opacity="0.27"/>
<circle cx="401.28" cy="450.04" r="2.1" fill="#808080" fill-opacity="0.27"/>
<circle cx="401.85" cy="450.04" r="2.1" fill="#808080" fill-opacity="0.27"/>
<circle cx="401.04" cy="450.04" r="2.1" fill="#808080" fill-opacity="0.27"/>
<circle cx="401.76" cy="444.76" r="2.1" fill="#808080" fill-opacity="0.27"/>
<circle cx="401.90" cy="444.76" r="2.1" fill="#808080" fill-opacity="0.27"/>
<circle cx="401.63" cy="444.76" r="2.1" fill="#808080" fill-opacity="0.27"/>
<circle cx="401.71" cy="444.76" r="2.1" fill="#808080" fill-opacity="0.27"/>
<circle cx="401.09" cy="444.76" r="2.1" fill="#808080" fill-opacity="0.27"/>
<circle cx="401.88" cy="439.48" r="2.1" fill="#808080" fill-opacity="0.27"/>
<circle cx="401.39" cy="439.48" r="2.1" fill="#808080" fill-opacity="0.27"/>
<circle cx="401.86" cy="434.20" r="2.1" fill="#808080" fill-opacity="0.27"/>
<circle cx="401.82" cy="428.92" r="2.1" fill="#808080" fill-opacity="0.27"/>
<circle cx="401.07" cy="423.64" r="2.1" fill="#808080" fill-opacity="0.27"/>
<line x1="396.20" y1="444.60" x2="406.60" y2="444.60" stroke="#555" stroke-width="0.9" stroke-opacity="0.75"/>
<line x1="401.40" y1="436.90" x2="401.40" y2="423.60" stroke="#5a5a5a" stroke-width="0.7" stroke-opacity="0.45"/>
<line x1="401.40" y1="450.00" x2="401.40" y2="465.90" stroke="#5a5a5a" stroke-width="0.7" stroke-opacity="0.45"/>
<line x1="396.20" y1="444.60" x2="406.60" y2="444.60" stroke="#000" stroke-width="1.4" />
<rect x="411.69" y="483.90" width="10.4" height="3.10" fill="#ff1493" fill-opacity="0.5" stroke="#666" stroke-opacity="0.6" stroke-width="0.8"/>
<line x1="416.89" y1="483.90" x2="416.89" y2="476.40" stroke="#5a5a5a" stroke-width="0.9" stroke-opacity="0.85"/>
<line x1="416.89" y1="487.00" x2="416.89" y2="487.00" stroke="#5a5a5a" stroke-width="0.9" stroke-opacity="0.85"/>
<line x1="414.29" y1="476.40" x2="419.49" y2="476.40" stroke="#444" stroke-width="1.0" />
<line x1="414.29" y1="487.00" x2="419.49" y2="487.00" stroke="#444" stroke-width="1.0" />
<circle cx="417.18" cy="487.00" r="2.1" fill="#ff1493" fill-opacity="0.27"/>
<circle cx="417.32" cy="487.00" r="2.1" fill="#ff1493" fill-opacity="0.27"/>
<circle cx="416.46" cy="487.00" r="2.1" fill="#ff1493" fill-opacity="0.27"/>
<circle cx="416.74" cy="487.00" r="2.1" fill="#ff1493" fill-opacity="0.27"/>
<circle cx="417.15" cy="487.00" r="2.1" fill="#ff1493" fill-opacity="0.27"/>
<circle cx="416.55" cy="487.00" r="2.1" fill="#ff1493" fill-opacity="0.27"/>
<circle cx="417.29" cy="487.00" r="2.1" fill="#ff1493" fill-opacity="0.27"/>
<circle cx="416.66" cy="487.00" r="2.1" fill="#ff1493" fill-opacity="0.27"/>
<circle cx="417.21" cy="487.00" r="2.1" fill="#ff1493" fill-opacity="0.27"/>
<circle cx="416.53" cy="487.00" r="2.1" fill="#ff1493" fill-opacity="0.27"/>
<circle cx="416.89" cy="487.00" r="2.1" fill="#ff1493" fill-opacity="0.27"/>
<circle cx="417.31" cy="487.00" r="2.1" fill="#ff1493" fill-opacity="0.27"/>
<circle cx="416.60" cy="487.00" r="2.1" fill="#ff1493" fill-opacity="0.27"/>
<circle cx="416.65" cy="487.00" r="2.1" fill="#ff1493" fill-opacity="0.27"/>
<circle cx="416.90" cy="487.00" r="2.1" fill="#ff1493" fill-opacity="0.27"/>
<circle cx="416.71" cy="487.00" r="2.1" fill="#ff1493" fill-opacity="0.27"/>
<circle cx="416.43" cy="487.00" r="2.1" fill="#ff1493" fill-opacity="0.27"/>
<circle cx="416.57" cy="487.00" r="2.1" fill="#ff1493" fill-opacity="0.27"/>
<circle cx="416.55" cy="487.00" r="2.1" fill="#ff1493" fill-opacity="0.27"/>
<circle cx="417.33" cy="487.00" r="2.1" fill="#ff1493" fill-opacity="0.27"/>
<circle cx="417.07" cy="487.00" r="2.1" fill="#ff1493" fill-opacity="0.27"/>
<circle cx="417.29" cy="487.00" r="2.1" fill="#ff1493" fill-opacity="0.27"/>
<circle cx="416.56" cy="481.72" r="2.1" fill="#ff1493" fill-opacity="0.27"/>
<circle cx="417.17" cy="481.72" r="2.1" fill="#ff1493" fill-opacity="0.27"/>
<circle cx="416.51" cy="481.72" r="2.1" fill="#ff1493" fill-opacity="0.27"/>
<circle cx="416.92" cy="481.72" r="2.1" fill="#ff1493" fill-opacity="0.27"/>
<circle cx="417.03" cy="481.72" r="2.1" fill="#ff1493" fill-opacity="0.27"/>
<circle cx="416.75" cy="481.72" r="2.1" fill="#ff1493" fill-opacity="0.27"/>
<circle cx="417.26" cy="481.72" r="2.1" fill="#ff1493" fill-opacity="0.27"/>
<circle cx="416.95" cy="481.72" r="2.1" fill="#ff1493" fill-opacity="0.27"/>
<circle cx="416.97" cy="481.72" r="2.1" fill="#ff1493" fill-opacity="0.27"/>
<circle cx="417.27" cy="481.72" r="2.1" fill="#ff1493" fill-opacity="0.27"/>
<circle cx="416.49" cy="481.72" r="2.1" fill="#ff1493" fill-opacity="0.27"/>
<circle cx="417.38" cy="481.72" r="2.1" fill="#ff1493" fill-opacity="0.27"/>
<circle cx="417.02" cy="481.72" r="2.1" fill="#ff1493" fill-opacity="0.27"/>
<circle cx="416.78" cy="481.72" r="2.1" fill="#ff1493" fill-opacity="0.27"/>
<circle cx="417.19" cy="476.44" r="2.1" fill="#ff1493" fill-opacity="0.27"/>
<circle cx="416.65" cy="476.44" r="2.1" fill="#ff1493" fill-opacity="0.27"/>
<circle cx="417.38" cy="476.44" r="2.1" fill="#ff1493" fill-opacity="0.27"/>
<circle cx="416.97" cy="476.44" r="2.1" fill="#ff1493" fill-opacity="0.27"/>
<circle cx="416.75" cy="471.16" r="2.1" fill="#ff1493" fill-opacity="0.27"/>
<line x1="411.69" y1="487.00" x2="422.09" y2="487.00" stroke="#555" stroke-width="0.9" stroke-opacity="0.75"/>
<line x1="416.89" y1="483.90" x2="416.89" y2="476.40" stroke="#5a5a5a" stroke-width="0.7" stroke-opacity="0.45"/>
<line x1="416.89" y1="487.00" x2="416.89" y2="487.00" stroke="#5a5a5a" stroke-width="0.7" stroke-opacity="0.45"/>
<line x1="411.69" y1="484.30" x2="422.09" y2="484.30" stroke="#000" stroke-width="1.4" />
<rect x="422.44" y="484.40" width="10.4" height="2.60" fill="#808080" fill-opacity="0.5" stroke="#666" stroke-opacity="0.6" stroke-width="0.8"/>
<line x1="427.64" y1="484.40" x2="427.64" y2="481.70" stroke="#5a5a5a" stroke-width="0.9" stroke-opacity="0.85"/>
<line x1="427.64" y1="487.00" x2="427.64" y2="487.00" stroke="#5a5a5a" stroke-width="0.9" stroke-opacity="0.85"/>
<line x1="425.04" y1="481.70" x2="430.24" y2="481.70" stroke="#444" stroke-width="1.0" />
<line x1="425.04" y1="487.00" x2="430.24" y2="487.00" stroke="#444" stroke-width="1.0" />
<circle cx="427.90" cy="487.00" r="2.1" fill="#808080" fill-opacity="0.27"/>
<circle cx="427.58" cy="487.00" r="2.1" fill="#808080" fill-opacity="0.27"/>
<circle cx="427.32" cy="487.00" r="2.1" fill="#808080" fill-opacity="0.27"/>
<circle cx="427.88" cy="487.00" r="2.1" fill="#808080" fill-opacity="0.27"/>
<circle cx="427.19" cy="487.00" r="2.1" fill="#808080" fill-opacity="0.27"/>
<circle cx="427.96" cy="487.00" r="2.1" fill="#808080" fill-opacity="0.27"/>
<circle cx="427.39" cy="487.00" r="2.1" fill="#808080" fill-opacity="0.27"/>
<circle cx="427.78" cy="487.00" r="2.1" fill="#808080" fill-opacity="0.27"/>
<circle cx="428.12" cy="487.00" r="2.1" fill="#808080" fill-opacity="0.27"/>
<circle cx="427.73" cy="487.00" r="2.1" fill="#808080" fill-opacity="0.27"/>
<circle cx="427.80" cy="481.72" r="2.1" fill="#808080" fill-opacity="0.27"/>
<circle cx="427.45" cy="481.72" r="2.1" fill="#808080" fill-opacity="0.27"/>
<circle cx="427.14" cy="481.72" r="2.1" fill="#808080" fill-opacity="0.27"/>
<circle cx="427.17" cy="481.72" r="2.1" fill="#808080" fill-opacity="0.27"/>
<circle cx="427.29" cy="476.44" r="2.1" fill="#808080" fill-opacity="0.27"/>
<line x1="422.44" y1="487.00" x2="432.84" y2="487.00" stroke="#555" stroke-width="0.9" stroke-opacity="0.75"/>
<line x1="427.64" y1="484.40" x2="427.64" y2="481.70" stroke="#5a5a5a" stroke-width="0.7" stroke-opacity="0.45"/>
<line x1="427.64" y1="487.00" x2="427.64" y2="487.00" stroke="#5a5a5a" stroke-width="0.7" stroke-opacity="0.45"/>
<line x1="422.44" y1="485.20" x2="432.84" y2="485.20" stroke="#000" stroke-width="1.4" />
<rect x="437.93" y="455.70" width="10.4" height="10.20" fill="#ff1493" fill-opacity="0.5" stroke="#666" stroke-opacity="0.6" stroke-width="0.8"/>
<line x1="443.13" y1="455.70" x2="443.13" y2="439.50" stroke="#5a5a5a" stroke-width="0.9" stroke-opacity="0.85"/>
<line x1="443.13" y1="465.90" x2="443.13" y2="476.40" stroke="#5a5a5a" stroke-width="0.9" stroke-opacity="0.85"/>
<line x1="440.53" y1="439.50" x2="445.73" y2="439.50" stroke="#444" stroke-width="1.0" />
<line x1="440.53" y1="476.40" x2="445.73" y2="476.40" stroke="#444" stroke-width="1.0" />
<circle cx="443.25" cy="476.44" r="2.1" fill="#ff1493" fill-opacity="0.27"/>
<circle cx="443.06" cy="476.44" r="2.1" fill="#ff1493" fill-opacity="0.27"/>
<circle cx="443.14" cy="471.16" r="2.1" fill="#ff1493" fill-opacity="0.27"/>
<circle cx="443.53" cy="471.16" r="2.1" fill="#ff1493" fill-opacity="0.27"/>
<circle cx="442.76" cy="471.16" r="2.1" fill="#ff1493" fill-opacity="0.27"/>
<circle cx="442.86" cy="465.88" r="2.1" fill="#ff1493" fill-opacity="0.27"/>
<circle cx="443.28" cy="465.88" r="2.1" fill="#ff1493" fill-opacity="0.27"/>
<circle cx="442.65" cy="465.88" r="2.1" fill="#ff1493" fill-opacity="0.27"/>
<circle cx="442.63" cy="465.88" r="2.1" fill="#ff1493" fill-opacity="0.27"/>
<circle cx="442.98" cy="465.88" r="2.1" fill="#ff1493" fill-opacity="0.27"/>
<circle cx="442.74" cy="465.88" r="2.1" fill="#ff1493" fill-opacity="0.27"/>
<circle cx="442.99" cy="465.88" r="2.1" fill="#ff1493" fill-opacity="0.27"/>
<circle cx="442.85" cy="460.60" r="2.1" fill="#ff1493" fill-opacity="0.27"/>
<circle cx="443.21" cy="460.60" r="2.1" fill="#ff1493" fill-opacity="0.27"/>
<circle cx="443.22" cy="460.60" r="2.1" fill="#ff1493" fill-opacity="0.27"/>
<circle cx="442.83" cy="460.60" r="2.1" fill="#ff1493" fill-opacity="0.27"/>
<circle cx="443.25" cy="460.60" r="2.1" fill="#ff1493" fill-opacity="0.27"/>
<circle cx="443.10" cy="460.60" r="2.1" fill="#ff1493" fill-opacity="0.27"/>
<circle cx="442.76" cy="460.60" r="2.1" fill="#ff1493" fill-opacity="0.27"/>
<circle cx="443.57" cy="460.60" r="2.1" fill="#ff1493" fill-opacity="0.27"/>
<circle cx="442.87" cy="460.60" r="2.1" fill="#ff1493" fill-opacity="0.27"/>
<circle cx="442.78" cy="455.32" r="2.1" fill="#ff1493" fill-opacity="0.27"/>
<circle cx="442.73" cy="455.32" r="2.1" fill="#ff1493" fill-opacity="0.27"/>
<circle cx="443.27" cy="455.32" r="2.1" fill="#ff1493" fill-opacity="0.27"/>
<circle cx="443.50" cy="455.32" r="2.1" fill="#ff1493" fill-opacity="0.27"/>
<circle cx="443.41" cy="455.32" r="2.1" fill="#ff1493" fill-opacity="0.27"/>
<circle cx="443.03" cy="455.32" r="2.1" fill="#ff1493" fill-opacity="0.27"/>
<circle cx="442.89" cy="455.32" r="2.1" fill="#ff1493" fill-opacity="0.27"/>
<circle cx="442.64" cy="455.32" r="2.1" fill="#ff1493" fill-opacity="0.27"/>
<circle cx="443.27" cy="455.32" r="2.1" fill="#ff1493" fill-opacity="0.27"/>
<circle cx="443.19" cy="450.04" r="2.1" fill="#ff1493" fill-opacity="0.27"/>
<circle cx="442.98" cy="450.04" r="2.1" fill="#ff1493" fill-opacity="0.27"/>
<circle cx="443.28" cy="450.04" r="2.1" fill="#ff1493" fill-opacity="0.27"/>
<circle cx="443.07" cy="450.04" r="2.1" fill="#ff1493" fill-opacity="0.27"/>
<circle cx="443.57" cy="450.04" r="2.1" fill="#ff1493" fill-opacity="0.27"/>
<circle cx="443.36" cy="444.76" r="2.1" fill="#ff1493" fill-opacity="0.27"/>
<circle cx="442.88" cy="444.76" r="2.1" fill="#ff1493" fill-opacity="0.27"/>
<circle cx="443.53" cy="444.76" r="2.1" fill="#ff1493" fill-opacity="0.27"/>
<circle cx="442.67" cy="439.48" r="2.1" fill="#ff1493" fill-opacity="0.27"/>
<circle cx="443.16" cy="439.48" r="2.1" fill="#ff1493" fill-opacity="0.27"/>
<circle cx="443.04" cy="434.20" r="2.1" fill="#ff1493" fill-opacity="0.27"/>
<circle cx="442.87" cy="365.56" r="2.1" fill="#ff1493" fill-opacity="0.27"/>
<line x1="437.93" y1="460.60" x2="448.33" y2="460.60" stroke="#555" stroke-width="0.9" stroke-opacity="0.75"/>
<line x1="443.13" y1="455.70" x2="443.13" y2="439.50" stroke="#5a5a5a" stroke-width="0.7" stroke-opacity="0.45"/>
<line x1="443.13" y1="465.90" x2="443.13" y2="476.40" stroke="#5a5a5a" stroke-width="0.7" stroke-opacity="0.45"/>
<line x1="437.93" y1="457.50" x2="448.33" y2="457.50" stroke="#000" stroke-width="1.4" />
<rect x="448.68" y="458.60" width="10.4" height="11.40" fill="#808080" fill-opacity="0.5" stroke="#666" stroke-opacity="0.6" stroke-width="0.8"/>
<line x1="453.88" y1="458.60" x2="453.88" y2="450.00" stroke="#5a5a5a" stroke-width="0.9" stroke-opacity="0.85"/>
<line x1="453.88" y1="470.00" x2="453.88" y2="481.70" stroke="#5a5a5a" stroke-width="0.9" stroke-opacity="0.85"/>
<line x1="451.28" y1="450.00" x2="456.48" y2="450.00" stroke="#444" stroke-width="1.0" />
<line x1="451.28" y1="481.70" x2="456.48" y2="481.70" stroke="#444" stroke-width="1.0" />
<circle cx="453.44" cy="481.72" r="2.1" fill="#808080" fill-opacity="0.27"/>
<circle cx="454.16" cy="476.44" r="2.1" fill="#808080" fill-opacity="0.27"/>
<circle cx="453.39" cy="471.16" r="2.1" fill="#808080" fill-opacity="0.27"/>
<circle cx="453.93" cy="471.16" r="2.1" fill="#808080" fill-opacity="0.27"/>
<circle cx="454.32" cy="471.16" r="2.1" fill="#808080" fill-opacity="0.27"/>
<circle cx="453.52" cy="465.88" r="2.1" fill="#808080" fill-opacity="0.27"/>
<circle cx="453.58" cy="465.88" r="2.1" fill="#808080" fill-opacity="0.27"/>
<circle cx="453.99" cy="465.88" r="2.1" fill="#808080" fill-opacity="0.27"/>
<circle cx="453.89" cy="460.60" r="2.1" fill="#808080" fill-opacity="0.27"/>
<circle cx="454.02" cy="460.60" r="2.1" fill="#808080" fill-opacity="0.27"/>
<circle cx="454.19" cy="460.60" r="2.1" fill="#808080" fill-opacity="0.27"/>
<circle cx="453.55" cy="460.60" r="2.1" fill="#808080" fill-opacity="0.27"/>
<circle cx="453.69" cy="455.32" r="2.1" fill="#808080" fill-opacity="0.27"/>
<circle cx="453.68" cy="450.04" r="2.1" fill="#808080" fill-opacity="0.27"/>
<circle cx="453.43" cy="450.04" r="2.1" fill="#808080" fill-opacity="0.27"/>
<line x1="448.68" y1="460.60" x2="459.08" y2="460.60" stroke="#555" stroke-width="0.9" stroke-opacity="0.75"/>
<line x1="453.88" y1="458.60" x2="453.88" y2="450.00" stroke="#5a5a5a" stroke-width="0.7" stroke-opacity="0.45"/>
<line x1="453.88" y1="470.00" x2="453.88" y2="481.70" stroke="#5a5a5a" stroke-width="0.7" stroke-opacity="0.45"/>
<line x1="448.68" y1="463.30" x2="459.08" y2="463.30" stroke="#000" stroke-width="1.4" />
<rect x="464.17" y="466.90" width="10.4" height="9.50" fill="#ff1493" fill-opacity="0.5" stroke="#666" stroke-opacity="0.6" stroke-width="0.8"/>
<line x1="469.37" y1="466.90" x2="469.37" y2="455.30" stroke="#5a5a5a" stroke-width="0.9" stroke-opacity="0.85"/>
<line x1="469.37" y1="476.40" x2="469.37" y2="487.00" stroke="#5a5a5a" stroke-width="0.9" stroke-opacity="0.85"/>
<line x1="466.77" y1="455.30" x2="471.97" y2="455.30" stroke="#444" stroke-width="1.0" />
<line x1="466.77" y1="487.00" x2="471.97" y2="487.00" stroke="#444" stroke-width="1.0" />
<circle cx="469.76" cy="487.00" r="2.1" fill="#ff1493" fill-opacity="0.27"/>
<circle cx="469.65" cy="487.00" r="2.1" fill="#ff1493" fill-opacity="0.27"/>
<circle cx="469.59" cy="487.00" r="2.1" fill="#ff1493" fill-opacity="0.27"/>
<circle cx="468.88" cy="487.00" r="2.1" fill="#ff1493" fill-opacity="0.27"/>
<circle cx="469.71" cy="481.72" r="2.1" fill="#ff1493" fill-opacity="0.27"/>
<circle cx="469.62" cy="481.72" r="2.1" fill="#ff1493" fill-opacity="0.27"/>
<circle cx="469.34" cy="481.72" r="2.1" fill="#ff1493" fill-opacity="0.27"/>
<circle cx="469.61" cy="481.72" r="2.1" fill="#ff1493" fill-opacity="0.27"/>
<circle cx="469.32" cy="476.44" r="2.1" fill="#ff1493" fill-opacity="0.27"/>
<circle cx="469.10" cy="476.44" r="2.1" fill="#ff1493" fill-opacity="0.27"/>
<circle cx="468.98" cy="476.44" r="2.1" fill="#ff1493" fill-opacity="0.27"/>
<circle cx="469.10" cy="476.44" r="2.1" fill="#ff1493" fill-opacity="0.27"/>
<circle cx="468.91" cy="476.44" r="2.1" fill="#ff1493" fill-opacity="0.27"/>
<circle cx="469.21" cy="476.44" r="2.1" fill="#ff1493" fill-opacity="0.27"/>
<circle cx="469.62" cy="476.44" r="2.1" fill="#ff1493" fill-opacity="0.27"/>
<circle cx="469.57" cy="471.16" r="2.1" fill="#ff1493" fill-opacity="0.27"/>
<circle cx="469.72" cy="471.16" r="2.1" fill="#ff1493" fill-opacity="0.27"/>
<circle cx="469.58" cy="471.16" r="2.1" fill="#ff1493" fill-opacity="0.27"/>
<circle cx="469.14" cy="471.16" r="2.1" fill="#ff1493" fill-opacity="0.27"/>
<circle cx="469.42" cy="471.16" r="2.1" fill="#ff1493" fill-opacity="0.27"/>
<circle cx="469.31" cy="471.16" r="2.1" fill="#ff1493" fill-opacity="0.27"/>
<circle cx="469.66" cy="471.16" r="2.1" fill="#ff1493" fill-opacity="0.27"/>
<circle cx="469.39" cy="471.16" r="2.1" fill="#ff1493" fill-opacity="0.27"/>
<circle cx="469.14" cy="471.16" r="2.1" fill="#ff1493" fill-opacity="0.27"/>
<circle cx="469.51" cy="471.16" r="2.1" fill="#ff1493" fill-opacity="0.27"/>
<circle cx="469.84" cy="465.88" r="2.1" fill="#ff1493" fill-opacity="0.27"/>
<circle cx="469.09" cy="465.88" r="2.1" fill="#ff1493" fill-opacity="0.27"/>
<circle cx="469.75" cy="465.88" r="2.1" fill="#ff1493" fill-opacity="0.27"/>
<circle cx="468.89" cy="465.88" r="2.1" fill="#ff1493" fill-opacity="0.27"/>
<circle cx="469.13" cy="465.88" r="2.1" fill="#ff1493" fill-opacity="0.27"/>
<circle cx="469.11" cy="465.88" r="2.1" fill="#ff1493" fill-opacity="0.27"/>
<circle cx="469.61" cy="465.88" r="2.1" fill="#ff1493" fill-opacity="0.27"/>
<circle cx="469.81" cy="460.60" r="2.1" fill="#ff1493" fill-opacity="0.27"/>
<circle cx="469.62" cy="460.60" r="2.1" fill="#ff1493" fill-opacity="0.27"/>
<circle cx="469.20" cy="460.60" r="2.1" fill="#ff1493" fill-opacity="0.27"/>
<circle cx="469.75" cy="460.60" r="2.1" fill="#ff1493" fill-opacity="0.27"/>
<circle cx="469.20" cy="455.32" r="2.1" fill="#ff1493" fill-opacity="0.27"/>
<circle cx="469.11" cy="455.32" r="2.1" fill="#ff1493" fill-opacity="0.27"/>
<circle cx="469.78" cy="455.32" r="2.1" fill="#ff1493" fill-opacity="0.27"/>
<circle cx="469.50" cy="434.20" r="2.1" fill="#ff1493" fill-opacity="0.27"/>
<circle cx="469.56" cy="428.92" r="2.1" fill="#ff1493" fill-opacity="0.27"/>
<line x1="464.17" y1="471.20" x2="474.57" y2="471.20" stroke="#555" stroke-width="0.9" stroke-opacity="0.75"/>
<line x1="469.37" y1="466.90" x2="469.37" y2="455.30" stroke="#5a5a5a" stroke-width="0.7" stroke-opacity="0.45"/>
<line x1="469.37" y1="476.40" x2="469.37" y2="487.00" stroke="#5a5a5a" stroke-width="0.7" stroke-opacity="0.45"/>
<line x1="464.17" y1="469.20" x2="474.57" y2="469.20" stroke="#000" stroke-width="1.4" />
<rect x="474.92" y="466.90" width="10.4" height="5.80" fill="#808080" fill-opacity="0.5" stroke="#666" stroke-opacity="0.6" stroke-width="0.8"/>
<line x1="480.12" y1="466.90" x2="480.12" y2="460.60" stroke="#5a5a5a" stroke-width="0.9" stroke-opacity="0.85"/>
<line x1="480.12" y1="472.70" x2="480.12" y2="481.70" stroke="#5a5a5a" stroke-width="0.9" stroke-opacity="0.85"/>
<line x1="477.52" y1="460.60" x2="482.72" y2="460.60" stroke="#444" stroke-width="1.0" />
<line x1="477.52" y1="481.70" x2="482.72" y2="481.70" stroke="#444" stroke-width="1.0" />
<circle cx="480.29" cy="481.72" r="2.1" fill="#808080" fill-opacity="0.27"/>
<circle cx="480.60" cy="476.44" r="2.1" fill="#808080" fill-opacity="0.27"/>
<circle cx="480.09" cy="476.44" r="2.1" fill="#808080" fill-opacity="0.27"/>
<circle cx="480.46" cy="471.16" r="2.1" fill="#808080" fill-opacity="0.27"/>
<circle cx="480.32" cy="471.16" r="2.1" fill="#808080" fill-opacity="0.27"/>
<circle cx="480.48" cy="471.16" r="2.1" fill="#808080" fill-opacity="0.27"/>
<circle cx="480.06" cy="471.16" r="2.1" fill="#808080" fill-opacity="0.27"/>
<circle cx="480.34" cy="471.16" r="2.1" fill="#808080" fill-opacity="0.27"/>
<circle cx="480.19" cy="465.88" r="2.1" fill="#808080" fill-opacity="0.27"/>
<circle cx="479.93" cy="465.88" r="2.1" fill="#808080" fill-opacity="0.27"/>
<circle cx="479.83" cy="465.88" r="2.1" fill="#808080" fill-opacity="0.27"/>
<circle cx="480.24" cy="465.88" r="2.1" fill="#808080" fill-opacity="0.27"/>
<circle cx="479.70" cy="465.88" r="2.1" fill="#808080" fill-opacity="0.27"/>
<circle cx="480.53" cy="460.60" r="2.1" fill="#808080" fill-opacity="0.27"/>
<circle cx="479.76" cy="460.60" r="2.1" fill="#808080" fill-opacity="0.27"/>
<line x1="474.92" y1="471.20" x2="485.32" y2="471.20" stroke="#555" stroke-width="0.9" stroke-opacity="0.75"/>
<line x1="480.12" y1="466.90" x2="480.12" y2="460.60" stroke="#5a5a5a" stroke-width="0.7" stroke-opacity="0.45"/>
<line x1="480.12" y1="472.70" x2="480.12" y2="481.70" stroke="#5a5a5a" stroke-width="0.7" stroke-opacity="0.45"/>
<line x1="474.92" y1="469.20" x2="485.32" y2="469.20" stroke="#000" stroke-width="1.4" />
<rect x="490.41" y="460.60" width="10.4" height="15.80" fill="#ff1493" fill-opacity="0.5" stroke="#666" stroke-opacity="0.6" stroke-width="0.8"/>
<line x1="495.61" y1="460.60" x2="495.61" y2="444.80" stroke="#5a5a5a" stroke-width="0.9" stroke-opacity="0.85"/>
<line x1="495.61" y1="476.40" x2="495.61" y2="487.00" stroke="#5a5a5a" stroke-width="0.9" stroke-opacity="0.85"/>
<line x1="493.01" y1="444.80" x2="498.21" y2="444.80" stroke="#444" stroke-width="1.0" />
<line x1="493.01" y1="487.00" x2="498.21" y2="487.00" stroke="#444" stroke-width="1.0" />
<circle cx="495.14" cy="487.00" r="2.1" fill="#ff1493" fill-opacity="0.27"/>
<circle cx="495.22" cy="487.00" r="2.1" fill="#ff1493" fill-opacity="0.27"/>
<circle cx="496.04" cy="487.00" r="2.1" fill="#ff1493" fill-opacity="0.27"/>
<circle cx="495.45" cy="481.72" r="2.1" fill="#ff1493" fill-opacity="0.27"/>
<circle cx="495.25" cy="481.72" r="2.1" fill="#ff1493" fill-opacity="0.27"/>
<circle cx="495.14" cy="481.72" r="2.1" fill="#ff1493" fill-opacity="0.27"/>
<circle cx="495.15" cy="481.72" r="2.1" fill="#ff1493" fill-opacity="0.27"/>
<circle cx="495.80" cy="481.72" r="2.1" fill="#ff1493" fill-opacity="0.27"/>
<circle cx="495.74" cy="476.44" r="2.1" fill="#ff1493" fill-opacity="0.27"/>
<circle cx="495.81" cy="476.44" r="2.1" fill="#ff1493" fill-opacity="0.27"/>
<circle cx="495.85" cy="476.44" r="2.1" fill="#ff1493" fill-opacity="0.27"/>
<circle cx="495.18" cy="476.44" r="2.1" fill="#ff1493" fill-opacity="0.27"/>
<circle cx="495.70" cy="476.44" r="2.1" fill="#ff1493" fill-opacity="0.27"/>
<circle cx="495.47" cy="476.44" r="2.1" fill="#ff1493" fill-opacity="0.27"/>
<circle cx="495.93" cy="471.16" r="2.1" fill="#ff1493" fill-opacity="0.27"/>
<circle cx="495.93" cy="471.16" r="2.1" fill="#ff1493" fill-opacity="0.27"/>
<circle cx="496.00" cy="471.16" r="2.1" fill="#ff1493" fill-opacity="0.27"/>
<circle cx="495.18" cy="471.16" r="2.1" fill="#ff1493" fill-opacity="0.27"/>
<circle cx="495.98" cy="471.16" r="2.1" fill="#ff1493" fill-opacity="0.27"/>
<circle cx="496.02" cy="471.16" r="2.1" fill="#ff1493" fill-opacity="0.27"/>
<circle cx="496.05" cy="471.16" r="2.1" fill="#ff1493" fill-opacity="0.27"/>
<circle cx="495.22" cy="465.88" r="2.1" fill="#ff1493" fill-opacity="0.27"/>
<circle cx="495.32" cy="465.88" r="2.1" fill="#ff1493" fill-opacity="0.27"/>
<circle cx="495.22" cy="465.88" r="2.1" fill="#ff1493" fill-opacity="0.27"/>
<circle cx="495.14" cy="465.88" r="2.1" fill="#ff1493" fill-opacity="0.27"/>
<circle cx="495.96" cy="465.88" r="2.1" fill="#ff1493" fill-opacity="0.27"/>
<circle cx="495.92" cy="465.88" r="2.1" fill="#ff1493" fill-opacity="0.27"/>
<circle cx="495.74" cy="460.60" r="2.1" fill="#ff1493" fill-opacity="0.27"/>
<circle cx="495.94" cy="460.60" r="2.1" fill="#ff1493" fill-opacity="0.27"/>
<circle cx="495.74" cy="460.60" r="2.1" fill="#ff1493" fill-opacity="0.27"/>
<circle cx="495.40" cy="460.60" r="2.1" fill="#ff1493" fill-opacity="0.27"/>
<circle cx="495.21" cy="460.60" r="2.1" fill="#ff1493" fill-opacity="0.27"/>
<circle cx="495.21" cy="460.60" r="2.1" fill="#ff1493" fill-opacity="0.27"/>
<circle cx="495.87" cy="455.32" r="2.1" fill="#ff1493" fill-opacity="0.27"/>
<circle cx="495.31" cy="455.32" r="2.1" fill="#ff1493" fill-opacity="0.27"/>
<circle cx="495.43" cy="455.32" r="2.1" fill="#ff1493" fill-opacity="0.27"/>
<circle cx="495.53" cy="450.04" r="2.1" fill="#ff1493" fill-opacity="0.27"/>
<circle cx="495.13" cy="450.04" r="2.1" fill="#ff1493" fill-opacity="0.27"/>
<circle cx="495.37" cy="444.76" r="2.1" fill="#ff1493" fill-opacity="0.27"/>
<circle cx="495.39" cy="428.92" r="2.1" fill="#ff1493" fill-opacity="0.27"/>
<circle cx="495.83" cy="418.36" r="2.1" fill="#ff1493" fill-opacity="0.27"/>
<line x1="490.41" y1="471.20" x2="500.81" y2="471.20" stroke="#555" stroke-width="0.9" stroke-opacity="0.75"/>
<line x1="495.61" y1="460.60" x2="495.61" y2="444.80" stroke="#5a5a5a" stroke-width="0.7" stroke-opacity="0.45"/>
<line x1="495.61" y1="476.40" x2="495.61" y2="487.00" stroke="#5a5a5a" stroke-width="0.7" stroke-opacity="0.45"/>
<line x1="490.41" y1="466.40" x2="500.81" y2="466.40" stroke="#000" stroke-width="1.4" />
<rect x="501.16" y="466.40" width="10.4" height="15.00" fill="#808080" fill-opacity="0.5" stroke="#666" stroke-opacity="0.6" stroke-width="0.8"/>
<line x1="506.36" y1="466.40" x2="506.36" y2="455.30" stroke="#5a5a5a" stroke-width="0.9" stroke-opacity="0.85"/>
<line x1="506.36" y1="481.40" x2="506.36" y2="487.00" stroke="#5a5a5a" stroke-width="0.9" stroke-opacity="0.85"/>
<line x1="503.76" y1="455.30" x2="508.96" y2="455.30" stroke="#444" stroke-width="1.0" />
<line x1="503.76" y1="487.00" x2="508.96" y2="487.00" stroke="#444" stroke-width="1.0" />
<circle cx="506.23" cy="487.00" r="2.1" fill="#808080" fill-opacity="0.27"/>
<circle cx="506.18" cy="487.00" r="2.1" fill="#808080" fill-opacity="0.27"/>
<circle cx="506.82" cy="481.72" r="2.1" fill="#808080" fill-opacity="0.27"/>
<circle cx="506.36" cy="481.72" r="2.1" fill="#808080" fill-opacity="0.27"/>
<circle cx="506.71" cy="476.44" r="2.1" fill="#808080" fill-opacity="0.27"/>
<circle cx="506.48" cy="476.44" r="2.1" fill="#808080" fill-opacity="0.27"/>
<circle cx="505.89" cy="476.44" r="2.1" fill="#808080" fill-opacity="0.27"/>
<circle cx="506.27" cy="471.16" r="2.1" fill="#808080" fill-opacity="0.27"/>
<circle cx="506.30" cy="471.16" r="2.1" fill="#808080" fill-opacity="0.27"/>
<circle cx="506.63" cy="471.16" r="2.1" fill="#808080" fill-opacity="0.27"/>
<circle cx="506.21" cy="471.16" r="2.1" fill="#808080" fill-opacity="0.27"/>
<circle cx="506.56" cy="465.88" r="2.1" fill="#808080" fill-opacity="0.27"/>
<circle cx="506.40" cy="465.88" r="2.1" fill="#808080" fill-opacity="0.27"/>
<circle cx="506.08" cy="460.60" r="2.1" fill="#808080" fill-opacity="0.27"/>
<circle cx="506.72" cy="455.32" r="2.1" fill="#808080" fill-opacity="0.27"/>
<line x1="501.16" y1="471.20" x2="511.56" y2="471.20" stroke="#555" stroke-width="0.9" stroke-opacity="0.75"/>
<line x1="506.36" y1="466.40" x2="506.36" y2="455.30" stroke="#5a5a5a" stroke-width="0.7" stroke-opacity="0.45"/>
<line x1="506.36" y1="481.40" x2="506.36" y2="487.00" stroke="#5a5a5a" stroke-width="0.7" stroke-opacity="0.45"/>
<line x1="501.16" y1="472.70" x2="511.56" y2="472.70" stroke="#000" stroke-width="1.4" />
<rect x="516.65" y="455.70" width="10.4" height="10.20" fill="#ff1493" fill-opacity="0.5" stroke="#666" stroke-opacity="0.6" stroke-width="0.8"/>
<line x1="521.85" y1="455.70" x2="521.85" y2="439.50" stroke="#5a5a5a" stroke-width="0.9" stroke-opacity="0.85"/>
<line x1="521.85" y1="465.90" x2="521.85" y2="481.70" stroke="#5a5a5a" stroke-width="0.9" stroke-opacity="0.85"/>
<line x1="519.25" y1="439.50" x2="524.45" y2="439.50" stroke="#444" stroke-width="1.0" />
<line x1="519.25" y1="481.70" x2="524.45" y2="481.70" stroke="#444" stroke-width="1.0" />
<circle cx="521.44" cy="481.72" r="2.1" fill="#ff1493" fill-opacity="0.27"/>
<circle cx="522.17" cy="481.72" r="2.1" fill="#ff1493" fill-opacity="0.27"/>
<circle cx="521.52" cy="476.44" r="2.1" fill="#ff1493" fill-opacity="0.27"/>
<circle cx="521.35" cy="476.44" r="2.1" fill="#ff1493" fill-opacity="0.27"/>
<circle cx="521.55" cy="476.44" r="2.1" fill="#ff1493" fill-opacity="0.27"/>
<circle cx="522.11" cy="471.16" r="2.1" fill="#ff1493" fill-opacity="0.27"/>
<circle cx="522.33" cy="471.16" r="2.1" fill="#ff1493" fill-opacity="0.27"/>
<circle cx="521.35" cy="471.16" r="2.1" fill="#ff1493" fill-opacity="0.27"/>
<circle cx="521.84" cy="471.16" r="2.1" fill="#ff1493" fill-opacity="0.27"/>
<circle cx="521.84" cy="465.88" r="2.1" fill="#ff1493" fill-opacity="0.27"/>
<circle cx="522.15" cy="465.88" r="2.1" fill="#ff1493" fill-opacity="0.27"/>
<circle cx="521.53" cy="465.88" r="2.1" fill="#ff1493" fill-opacity="0.27"/>
<circle cx="521.84" cy="465.88" r="2.1" fill="#ff1493" fill-opacity="0.27"/>
<circle cx="521.70" cy="465.88" r="2.1" fill="#ff1493" fill-opacity="0.27"/>
<circle cx="522.18" cy="465.88" r="2.1" fill="#ff1493" fill-opacity="0.27"/>
<circle cx="521.61" cy="460.60" r="2.1" fill="#ff1493" fill-opacity="0.27"/>
<circle cx="522.29" cy="460.60" r="2.1" fill="#ff1493" fill-opacity="0.27"/>
<circle cx="521.63" cy="460.60" r="2.1" fill="#ff1493" fill-opacity="0.27"/>
<circle cx="521.56" cy="460.60" r="2.1" fill="#ff1493" fill-opacity="0.27"/>
<circle cx="522.05" cy="460.60" r="2.1" fill="#ff1493" fill-opacity="0.27"/>
<circle cx="521.85" cy="460.60" r="2.1" fill="#ff1493" fill-opacity="0.27"/>
<circle cx="521.46" cy="460.60" r="2.1" fill="#ff1493" fill-opacity="0.27"/>
<circle cx="521.99" cy="460.60" r="2.1" fill="#ff1493" fill-opacity="0.27"/>
<circle cx="521.43" cy="460.60" r="2.1" fill="#ff1493" fill-opacity="0.27"/>
<circle cx="522.14" cy="455.32" r="2.1" fill="#ff1493" fill-opacity="0.27"/>
<circle cx="522.05" cy="455.32" r="2.1" fill="#ff1493" fill-opacity="0.27"/>
<circle cx="522.14" cy="455.32" r="2.1" fill="#ff1493" fill-opacity="0.27"/>
<circle cx="521.98" cy="455.32" r="2.1" fill="#ff1493" fill-opacity="0.27"/>
<circle cx="521.71" cy="455.32" r="2.1" fill="#ff1493" fill-opacity="0.27"/>
<circle cx="521.75" cy="455.32" r="2.1" fill="#ff1493" fill-opacity="0.27"/>
<circle cx="521.74" cy="455.32" r="2.1" fill="#ff1493" fill-opacity="0.27"/>
<circle cx="522.24" cy="450.04" r="2.1" fill="#ff1493" fill-opacity="0.27"/>
<circle cx="521.44" cy="450.04" r="2.1" fill="#ff1493" fill-opacity="0.27"/>
<circle cx="522.24" cy="450.04" r="2.1" fill="#ff1493" fill-opacity="0.27"/>
<circle cx="521.38" cy="450.04" r="2.1" fill="#ff1493" fill-opacity="0.27"/>
<circle cx="521.56" cy="444.76" r="2.1" fill="#ff1493" fill-opacity="0.27"/>
<circle cx="521.61" cy="444.76" r="2.1" fill="#ff1493" fill-opacity="0.27"/>
<circle cx="522.25" cy="439.48" r="2.1" fill="#ff1493" fill-opacity="0.27"/>
<circle cx="521.85" cy="439.48" r="2.1" fill="#ff1493" fill-opacity="0.27"/>
<circle cx="521.73" cy="428.92" r="2.1" fill="#ff1493" fill-opacity="0.27"/>
<circle cx="522.23" cy="376.12" r="2.1" fill="#ff1493" fill-opacity="0.27"/>
<line x1="516.65" y1="460.60" x2="527.05" y2="460.60" stroke="#555" stroke-width="0.9" stroke-opacity="0.75"/>
<line x1="521.85" y1="455.70" x2="521.85" y2="439.50" stroke="#5a5a5a" stroke-width="0.7" stroke-opacity="0.45"/>
<line x1="521.85" y1="465.90" x2="521.85" y2="481.70" stroke="#5a5a5a" stroke-width="0.7" stroke-opacity="0.45"/>
<line x1="516.65" y1="458.60" x2="527.05" y2="458.60" stroke="#000" stroke-width="1.4" />
<rect x="527.40" y="452.80" width="10.4" height="12.20" fill="#808080" fill-opacity="0.5" stroke="#666" stroke-opacity="0.6" stroke-width="0.8"/>
<line x1="532.60" y1="452.80" x2="532.60" y2="439.50" stroke="#5a5a5a" stroke-width="0.9" stroke-opacity="0.85"/>
<line x1="532.60" y1="465.00" x2="532.60" y2="476.40" stroke="#5a5a5a" stroke-width="0.9" stroke-opacity="0.85"/>
<line x1="530.00" y1="439.50" x2="535.20" y2="439.50" stroke="#444" stroke-width="1.0" />
<line x1="530.00" y1="476.40" x2="535.20" y2="476.40" stroke="#444" stroke-width="1.0" />
<circle cx="532.33" cy="476.44" r="2.1" fill="#808080" fill-opacity="0.27"/>
<circle cx="532.56" cy="471.16" r="2.1" fill="#808080" fill-opacity="0.27"/>
<circle cx="532.63" cy="465.88" r="2.1" fill="#808080" fill-opacity="0.27"/>
<circle cx="532.85" cy="465.88" r="2.1" fill="#808080" fill-opacity="0.27"/>
<circle cx="532.85" cy="465.88" r="2.1" fill="#808080" fill-opacity="0.27"/>
<circle cx="532.75" cy="460.60" r="2.1" fill="#808080" fill-opacity="0.27"/>
<circle cx="532.45" cy="460.60" r="2.1" fill="#808080" fill-opacity="0.27"/>
<circle cx="532.43" cy="460.60" r="2.1" fill="#808080" fill-opacity="0.27"/>
<circle cx="532.26" cy="455.32" r="2.1" fill="#808080" fill-opacity="0.27"/>
<circle cx="532.94" cy="455.32" r="2.1" fill="#808080" fill-opacity="0.27"/>
<circle cx="532.76" cy="455.32" r="2.1" fill="#808080" fill-opacity="0.27"/>
<circle cx="532.84" cy="450.04" r="2.1" fill="#808080" fill-opacity="0.27"/>
<circle cx="532.27" cy="450.04" r="2.1" fill="#808080" fill-opacity="0.27"/>
<circle cx="532.54" cy="439.48" r="2.1" fill="#808080" fill-opacity="0.27"/>
<circle cx="532.87" cy="439.48" r="2.1" fill="#808080" fill-opacity="0.27"/>
<line x1="527.40" y1="460.60" x2="537.80" y2="460.60" stroke="#555" stroke-width="0.9" stroke-opacity="0.75"/>
<line x1="532.60" y1="452.80" x2="532.60" y2="439.50" stroke="#5a5a5a" stroke-width="0.7" stroke-opacity="0.45"/>
<line x1="532.60" y1="465.00" x2="532.60" y2="476.40" stroke="#5a5a5a" stroke-width="0.7" stroke-opacity="0.45"/>
<line x1="527.40" y1="457.90" x2="537.80" y2="457.90" stroke="#000" stroke-width="1.4" />
<rect x="542.89" y="460.60" width="10.4" height="15.80" fill="#ff1493" fill-opacity="0.5" stroke="#666" stroke-opacity="0.6" stroke-width="0.8"/>
<line x1="548.09" y1="460.60" x2="548.09" y2="444.80" stroke="#5a5a5a" stroke-width="0.9" stroke-opacity="0.85"/>
<line x1="548.09" y1="476.40" x2="548.09" y2="487.00" stroke="#5a5a5a" stroke-width="0.9" stroke-opacity="0.85"/>
<line x1="545.49" y1="444.80" x2="550.69" y2="444.80" stroke="#444" stroke-width="1.0" />
<line x1="545.49" y1="487.00" x2="550.69" y2="487.00" stroke="#444" stroke-width="1.0" />
<circle cx="548.17" cy="487.00" r="2.1" fill="#ff1493" fill-opacity="0.27"/>
<circle cx="547.72" cy="487.00" r="2.1" fill="#ff1493" fill-opacity="0.27"/>
<circle cx="548.05" cy="487.00" r="2.1" fill="#ff1493" fill-opacity="0.27"/>
<circle cx="548.48" cy="481.72" r="2.1" fill="#ff1493" fill-opacity="0.27"/>
<circle cx="547.83" cy="481.72" r="2.1" fill="#ff1493" fill-opacity="0.27"/>
<circle cx="547.78" cy="481.72" r="2.1" fill="#ff1493" fill-opacity="0.27"/>
<circle cx="547.89" cy="481.72" r="2.1" fill="#ff1493" fill-opacity="0.27"/>
<circle cx="548.29" cy="476.44" r="2.1" fill="#ff1493" fill-opacity="0.27"/>
<circle cx="548.43" cy="476.44" r="2.1" fill="#ff1493" fill-opacity="0.27"/>
<circle cx="547.74" cy="476.44" r="2.1" fill="#ff1493" fill-opacity="0.27"/>
<circle cx="547.75" cy="476.44" r="2.1" fill="#ff1493" fill-opacity="0.27"/>
<circle cx="547.84" cy="476.44" r="2.1" fill="#ff1493" fill-opacity="0.27"/>
<circle cx="547.92" cy="471.16" r="2.1" fill="#ff1493" fill-opacity="0.27"/>
<circle cx="548.11" cy="471.16" r="2.1" fill="#ff1493" fill-opacity="0.27"/>
<circle cx="547.75" cy="471.16" r="2.1" fill="#ff1493" fill-opacity="0.27"/>
<circle cx="547.92" cy="471.16" r="2.1" fill="#ff1493" fill-opacity="0.27"/>
<circle cx="547.78" cy="471.16" r="2.1" fill="#ff1493" fill-opacity="0.27"/>
<circle cx="548.57" cy="471.16" r="2.1" fill="#ff1493" fill-opacity="0.27"/>
<circle cx="548.32" cy="465.88" r="2.1" fill="#ff1493" fill-opacity="0.27"/>
<circle cx="547.69" cy="465.88" r="2.1" fill="#ff1493" fill-opacity="0.27"/>
<circle cx="548.55" cy="465.88" r="2.1" fill="#ff1493" fill-opacity="0.27"/>
<circle cx="547.69" cy="465.88" r="2.1" fill="#ff1493" fill-opacity="0.27"/>
<circle cx="547.97" cy="465.88" r="2.1" fill="#ff1493" fill-opacity="0.27"/>
<circle cx="548.57" cy="465.88" r="2.1" fill="#ff1493" fill-opacity="0.27"/>
<circle cx="548.38" cy="465.88" r="2.1" fill="#ff1493" fill-opacity="0.27"/>
<circle cx="548.32" cy="460.60" r="2.1" fill="#ff1493" fill-opacity="0.27"/>
<circle cx="548.02" cy="460.60" r="2.1" fill="#ff1493" fill-opacity="0.27"/>
<circle cx="547.79" cy="460.60" r="2.1" fill="#ff1493" fill-opacity="0.27"/>
<circle cx="548.23" cy="460.60" r="2.1" fill="#ff1493" fill-opacity="0.27"/>
<circle cx="547.70" cy="460.60" r="2.1" fill="#ff1493" fill-opacity="0.27"/>
<circle cx="547.80" cy="460.60" r="2.1" fill="#ff1493" fill-opacity="0.27"/>
<circle cx="547.98" cy="455.32" r="2.1" fill="#ff1493" fill-opacity="0.27"/>
<circle cx="547.62" cy="455.32" r="2.1" fill="#ff1493" fill-opacity="0.27"/>
<circle cx="547.99" cy="455.32" r="2.1" fill="#ff1493" fill-opacity="0.27"/>
<circle cx="548.38" cy="450.04" r="2.1" fill="#ff1493" fill-opacity="0.27"/>
<circle cx="548.28" cy="450.04" r="2.1" fill="#ff1493" fill-opacity="0.27"/>
<circle cx="548.09" cy="450.04" r="2.1" fill="#ff1493" fill-opacity="0.27"/>
<circle cx="548.22" cy="444.76" r="2.1" fill="#ff1493" fill-opacity="0.27"/>
<circle cx="548.05" cy="444.76" r="2.1" fill="#ff1493" fill-opacity="0.27"/>
<circle cx="547.73" cy="428.92" r="2.1" fill="#ff1493" fill-opacity="0.27"/>
<circle cx="548.19" cy="391.96" r="2.1" fill="#ff1493" fill-opacity="0.27"/>
<line x1="542.89" y1="465.90" x2="553.29" y2="465.90" stroke="#555" stroke-width="0.9" stroke-opacity="0.75"/>
<line x1="548.09" y1="460.60" x2="548.09" y2="444.80" stroke="#5a5a5a" stroke-width="0.7" stroke-opacity="0.45"/>
<line x1="548.09" y1="476.40" x2="548.09" y2="487.00" stroke="#5a5a5a" stroke-width="0.7" stroke-opacity="0.45"/>
<line x1="542.89" y1="463.30" x2="553.29" y2="463.30" stroke="#000" stroke-width="1.4" />
<rect x="553.64" y="463.30" width="10.4" height="12.90" fill="#808080" fill-opacity="0.5" stroke="#666" stroke-opacity="0.6" stroke-width="0.8"/>
<line x1="558.84" y1="463.30" x2="558.84" y2="444.80" stroke="#5a5a5a" stroke-width="0.9" stroke-opacity="0.85"/>
<line x1="558.84" y1="476.20" x2="558.84" y2="481.70" stroke="#5a5a5a" stroke-width="0.9" stroke-opacity="0.85"/>
<line x1="556.24" y1="444.80" x2="561.44" y2="444.80" stroke="#444" stroke-width="1.0" />
<line x1="556.24" y1="481.70" x2="561.44" y2="481.70" stroke="#444" stroke-width="1.0" />
<circle cx="558.74" cy="481.72" r="2.1" fill="#808080" fill-opacity="0.27"/>
<circle cx="559.08" cy="476.44" r="2.1" fill="#808080" fill-opacity="0.27"/>
<circle cx="559.25" cy="476.44" r="2.1" fill="#808080" fill-opacity="0.27"/>
<circle cx="558.77" cy="476.44" r="2.1" fill="#808080" fill-opacity="0.27"/>
<circle cx="558.91" cy="471.16" r="2.1" fill="#808080" fill-opacity="0.27"/>
<circle cx="559.09" cy="471.16" r="2.1" fill="#808080" fill-opacity="0.27"/>
<circle cx="558.76" cy="471.16" r="2.1" fill="#808080" fill-opacity="0.27"/>
<circle cx="558.57" cy="471.16" r="2.1" fill="#808080" fill-opacity="0.27"/>
<circle cx="559.06" cy="465.88" r="2.1" fill="#808080" fill-opacity="0.27"/>
<circle cx="559.22" cy="465.88" r="2.1" fill="#808080" fill-opacity="0.27"/>
<circle cx="559.11" cy="465.88" r="2.1" fill="#808080" fill-opacity="0.27"/>
<circle cx="559.04" cy="460.60" r="2.1" fill="#808080" fill-opacity="0.27"/>
<circle cx="559.19" cy="460.60" r="2.1" fill="#808080" fill-opacity="0.27"/>
<circle cx="559.02" cy="455.32" r="2.1" fill="#808080" fill-opacity="0.27"/>
<circle cx="558.98" cy="444.76" r="2.1" fill="#808080" fill-opacity="0.27"/>
<line x1="553.64" y1="469.00" x2="564.04" y2="469.00" stroke="#555" stroke-width="0.9" stroke-opacity="0.75"/>
<line x1="558.84" y1="463.30" x2="558.84" y2="444.80" stroke="#5a5a5a" stroke-width="0.7" stroke-opacity="0.45"/>
<line x1="558.84" y1="476.20" x2="558.84" y2="481.70" stroke="#5a5a5a" stroke-width="0.7" stroke-opacity="0.45"/>
<line x1="553.64" y1="468.70" x2="564.04" y2="468.70" stroke="#000" stroke-width="1.4" />
<rect x="569.13" y="455.30" width="10.4" height="15.90" fill="#ff1493" fill-opacity="0.5" stroke="#666" stroke-opacity="0.6" stroke-width="0.8"/>
<line x1="574.33" y1="455.30" x2="574.33" y2="439.50" stroke="#5a5a5a" stroke-width="0.9" stroke-opacity="0.85"/>
<line x1="574.33" y1="471.20" x2="574.33" y2="481.70" stroke="#5a5a5a" stroke-width="0.9" stroke-opacity="0.85"/>
<line x1="571.73" y1="439.50" x2="576.93" y2="439.50" stroke="#444" stroke-width="1.0" />
<line x1="571.73" y1="481.70" x2="576.93" y2="481.70" stroke="#444" stroke-width="1.0" />
<circle cx="574.28" cy="481.72" r="2.1" fill="#ff1493" fill-opacity="0.27"/>
<circle cx="574.14" cy="481.72" r="2.1" fill="#ff1493" fill-opacity="0.27"/>
<circle cx="574.46" cy="476.44" r="2.1" fill="#ff1493" fill-opacity="0.27"/>
<circle cx="573.93" cy="476.44" r="2.1" fill="#ff1493" fill-opacity="0.27"/>
<circle cx="574.25" cy="476.44" r="2.1" fill="#ff1493" fill-opacity="0.27"/>
<circle cx="574.61" cy="471.16" r="2.1" fill="#ff1493" fill-opacity="0.27"/>
<circle cx="574.54" cy="471.16" r="2.1" fill="#ff1493" fill-opacity="0.27"/>
<circle cx="574.46" cy="471.16" r="2.1" fill="#ff1493" fill-opacity="0.27"/>
<circle cx="574.08" cy="471.16" r="2.1" fill="#ff1493" fill-opacity="0.27"/>
<circle cx="574.25" cy="471.16" r="2.1" fill="#ff1493" fill-opacity="0.27"/>
<circle cx="574.29" cy="465.88" r="2.1" fill="#ff1493" fill-opacity="0.27"/>
<circle cx="574.45" cy="465.88" r="2.1" fill="#ff1493" fill-opacity="0.27"/>
<circle cx="574.24" cy="465.88" r="2.1" fill="#ff1493" fill-opacity="0.27"/>
<circle cx="574.51" cy="465.88" r="2.1" fill="#ff1493" fill-opacity="0.27"/>
<circle cx="574.76" cy="465.88" r="2.1" fill="#ff1493" fill-opacity="0.27"/>
<circle cx="574.01" cy="465.88" r="2.1" fill="#ff1493" fill-opacity="0.27"/>
<circle cx="574.48" cy="465.88" r="2.1" fill="#ff1493" fill-opacity="0.27"/>
<circle cx="574.61" cy="460.60" r="2.1" fill="#ff1493" fill-opacity="0.27"/>
<circle cx="574.22" cy="460.60" r="2.1" fill="#ff1493" fill-opacity="0.27"/>
<circle cx="574.32" cy="460.60" r="2.1" fill="#ff1493" fill-opacity="0.27"/>
<circle cx="574.80" cy="460.60" r="2.1" fill="#ff1493" fill-opacity="0.27"/>
<circle cx="573.87" cy="460.60" r="2.1" fill="#ff1493" fill-opacity="0.27"/>
<circle cx="574.37" cy="460.60" r="2.1" fill="#ff1493" fill-opacity="0.27"/>
<circle cx="573.99" cy="460.60" r="2.1" fill="#ff1493" fill-opacity="0.27"/>
<circle cx="574.61" cy="460.60" r="2.1" fill="#ff1493" fill-opacity="0.27"/>
<circle cx="574.77" cy="455.32" r="2.1" fill="#ff1493" fill-opacity="0.27"/>
<circle cx="574.35" cy="455.32" r="2.1" fill="#ff1493" fill-opacity="0.27"/>
<circle cx="573.93" cy="455.32" r="2.1" fill="#ff1493" fill-opacity="0.27"/>
<circle cx="574.40" cy="455.32" r="2.1" fill="#ff1493" fill-opacity="0.27"/>
<circle cx="574.37" cy="455.32" r="2.1" fill="#ff1493" fill-opacity="0.27"/>
<circle cx="574.55" cy="455.32" r="2.1" fill="#ff1493" fill-opacity="0.27"/>
<circle cx="574.34" cy="450.04" r="2.1" fill="#ff1493" fill-opacity="0.27"/>
<circle cx="574.47" cy="450.04" r="2.1" fill="#ff1493" fill-opacity="0.27"/>
<circle cx="574.66" cy="450.04" r="2.1" fill="#ff1493" fill-opacity="0.27"/>
<circle cx="574.35" cy="450.04" r="2.1" fill="#ff1493" fill-opacity="0.27"/>
<circle cx="574.24" cy="444.76" r="2.1" fill="#ff1493" fill-opacity="0.27"/>
<circle cx="574.78" cy="444.76" r="2.1" fill="#ff1493" fill-opacity="0.27"/>
<circle cx="574.04" cy="439.48" r="2.1" fill="#ff1493" fill-opacity="0.27"/>
<circle cx="574.51" cy="428.92" r="2.1" fill="#ff1493" fill-opacity="0.27"/>
<circle cx="574.22" cy="423.64" r="2.1" fill="#ff1493" fill-opacity="0.27"/>
<circle cx="574.59" cy="402.52" r="2.1" fill="#ff1493" fill-opacity="0.27"/>
<line x1="569.13" y1="465.90" x2="579.53" y2="465.90" stroke="#555" stroke-width="0.9" stroke-opacity="0.75"/>
<line x1="574.33" y1="455.30" x2="574.33" y2="439.50" stroke="#5a5a5a" stroke-width="0.7" stroke-opacity="0.45"/>
<line x1="574.33" y1="471.20" x2="574.33" y2="481.70" stroke="#5a5a5a" stroke-width="0.7" stroke-opacity="0.45"/>
<line x1="569.13" y1="461.00" x2="579.53" y2="461.00" stroke="#000" stroke-width="1.4" />
<rect x="579.88" y="457.90" width="10.4" height="10.80" fill="#808080" fill-opacity="0.5" stroke="#666" stroke-opacity="0.6" stroke-width="0.8"/>
<line x1="585.08" y1="457.90" x2="585.08" y2="450.00" stroke="#5a5a5a" stroke-width="0.9" stroke-opacity="0.85"/>
<line x1="585.08" y1="468.70" x2="585.08" y2="476.40" stroke="#5a5a5a" stroke-width="0.9" stroke-opacity="0.85"/>
<line x1="582.48" y1="450.00" x2="587.68" y2="450.00" stroke="#444" stroke-width="1.0" />
<line x1="582.48" y1="476.40" x2="587.68" y2="476.40" stroke="#444" stroke-width="1.0" />
<circle cx="584.70" cy="487.00" r="2.1" fill="#808080" fill-opacity="0.27"/>
<circle cx="585.56" cy="476.44" r="2.1" fill="#808080" fill-opacity="0.27"/>
<circle cx="584.94" cy="471.16" r="2.1" fill="#808080" fill-opacity="0.27"/>
<circle cx="584.64" cy="471.16" r="2.1" fill="#808080" fill-opacity="0.27"/>
<circle cx="584.85" cy="465.88" r="2.1" fill="#808080" fill-opacity="0.27"/>
<circle cx="584.98" cy="465.88" r="2.1" fill="#808080" fill-opacity="0.27"/>
<circle cx="584.59" cy="465.88" r="2.1" fill="#808080" fill-opacity="0.27"/>
<circle cx="585.00" cy="465.88" r="2.1" fill="#808080" fill-opacity="0.27"/>
<circle cx="585.00" cy="460.60" r="2.1" fill="#808080" fill-opacity="0.27"/>
<circle cx="585.28" cy="460.60" r="2.1" fill="#808080" fill-opacity="0.27"/>
<circle cx="584.93" cy="460.60" r="2.1" fill="#808080" fill-opacity="0.27"/>
<circle cx="584.85" cy="460.60" r="2.1" fill="#808080" fill-opacity="0.27"/>
<circle cx="584.80" cy="455.32" r="2.1" fill="#808080" fill-opacity="0.27"/>
<circle cx="585.32" cy="455.32" r="2.1" fill="#808080" fill-opacity="0.27"/>
<circle cx="585.52" cy="450.04" r="2.1" fill="#808080" fill-opacity="0.27"/>
<circle cx="585.11" cy="439.48" r="2.1" fill="#808080" fill-opacity="0.27"/>
<line x1="579.88" y1="463.50" x2="590.28" y2="463.50" stroke="#555" stroke-width="0.9" stroke-opacity="0.75"/>
<line x1="585.08" y1="457.90" x2="585.08" y2="450.00" stroke="#5a5a5a" stroke-width="0.7" stroke-opacity="0.45"/>
<line x1="585.08" y1="468.70" x2="585.08" y2="476.40" stroke="#5a5a5a" stroke-width="0.7" stroke-opacity="0.45"/>
<line x1="579.88" y1="462.20" x2="590.28" y2="462.20" stroke="#000" stroke-width="1.4" />
<rect x="595.37" y="476.40" width="10.4" height="10.60" fill="#ff1493" fill-opacity="0.5" stroke="#666" stroke-opacity="0.6" stroke-width="0.8"/>
<line x1="600.57" y1="476.40" x2="600.57" y2="465.90" stroke="#5a5a5a" stroke-width="0.9" stroke-opacity="0.85"/>
<line x1="600.57" y1="487.00" x2="600.57" y2="487.00" stroke="#5a5a5a" stroke-width="0.9" stroke-opacity="0.85"/>
<line x1="597.97" y1="465.90" x2="603.17" y2="465.90" stroke="#444" stroke-width="1.0" />
<line x1="597.97" y1="487.00" x2="603.17" y2="487.00" stroke="#444" stroke-width="1.0" />
<circle cx="600.29" cy="487.00" r="2.1" fill="#ff1493" fill-opacity="0.27"/>
<circle cx="600.87" cy="487.00" r="2.1" fill="#ff1493" fill-opacity="0.27"/>
<circle cx="600.46" cy="487.00" r="2.1" fill="#ff1493" fill-opacity="0.27"/>
<circle cx="600.28" cy="487.00" r="2.1" fill="#ff1493" fill-opacity="0.27"/>
<circle cx="600.20" cy="487.00" r="2.1" fill="#ff1493" fill-opacity="0.27"/>
<circle cx="600.85" cy="487.00" r="2.1" fill="#ff1493" fill-opacity="0.27"/>
<circle cx="600.88" cy="487.00" r="2.1" fill="#ff1493" fill-opacity="0.27"/>
<circle cx="600.70" cy="487.00" r="2.1" fill="#ff1493" fill-opacity="0.27"/>
<circle cx="600.54" cy="487.00" r="2.1" fill="#ff1493" fill-opacity="0.27"/>
<circle cx="600.63" cy="487.00" r="2.1" fill="#ff1493" fill-opacity="0.27"/>
<circle cx="600.30" cy="487.00" r="2.1" fill="#ff1493" fill-opacity="0.27"/>
<circle cx="601.03" cy="487.00" r="2.1" fill="#ff1493" fill-opacity="0.27"/>
<circle cx="600.42" cy="487.00" r="2.1" fill="#ff1493" fill-opacity="0.27"/>
<circle cx="600.71" cy="487.00" r="2.1" fill="#ff1493" fill-opacity="0.27"/>
<circle cx="600.89" cy="487.00" r="2.1" fill="#ff1493" fill-opacity="0.27"/>
<circle cx="600.89" cy="487.00" r="2.1" fill="#ff1493" fill-opacity="0.27"/>
<circle cx="600.54" cy="481.72" r="2.1" fill="#ff1493" fill-opacity="0.27"/>
<circle cx="600.36" cy="481.72" r="2.1" fill="#ff1493" fill-opacity="0.27"/>
<circle cx="600.62" cy="481.72" r="2.1" fill="#ff1493" fill-opacity="0.27"/>
<circle cx="600.20" cy="481.72" r="2.1" fill="#ff1493" fill-opacity="0.27"/>
<circle cx="600.90" cy="481.72" r="2.1" fill="#ff1493" fill-opacity="0.27"/>
<circle cx="600.42" cy="481.72" r="2.1" fill="#ff1493" fill-opacity="0.27"/>
<circle cx="600.92" cy="481.72" r="2.1" fill="#ff1493" fill-opacity="0.27"/>
<circle cx="600.34" cy="481.72" r="2.1" fill="#ff1493" fill-opacity="0.27"/>
<circle cx="600.45" cy="481.72" r="2.1" fill="#ff1493" fill-opacity="0.27"/>
<circle cx="600.32" cy="481.72" r="2.1" fill="#ff1493" fill-opacity="0.27"/>
<circle cx="600.50" cy="481.72" r="2.1" fill="#ff1493" fill-opacity="0.27"/>
<circle cx="600.26" cy="481.72" r="2.1" fill="#ff1493" fill-opacity="0.27"/>
<circle cx="600.07" cy="476.44" r="2.1" fill="#ff1493" fill-opacity="0.27"/>
<circle cx="600.79" cy="476.44" r="2.1" fill="#ff1493" fill-opacity="0.27"/>
<circle cx="600.35" cy="476.44" r="2.1" fill="#ff1493" fill-opacity="0.27"/>
<circle cx="600.31" cy="476.44" r="2.1" fill="#ff1493" fill-opacity="0.27"/>
<circle cx="600.37" cy="476.44" r="2.1" fill="#ff1493" fill-opacity="0.27"/>
<circle cx="600.55" cy="476.44" r="2.1" fill="#ff1493" fill-opacity="0.27"/>
<circle cx="600.50" cy="476.44" r="2.1" fill="#ff1493" fill-opacity="0.27"/>
<circle cx="600.71" cy="476.44" r="2.1" fill="#ff1493" fill-opacity="0.27"/>
<circle cx="600.73" cy="471.16" r="2.1" fill="#ff1493" fill-opacity="0.27"/>
<circle cx="600.43" cy="471.16" r="2.1" fill="#ff1493" fill-opacity="0.27"/>
<circle cx="601.00" cy="471.16" r="2.1" fill="#ff1493" fill-opacity="0.27"/>
<circle cx="600.92" cy="465.88" r="2.1" fill="#ff1493" fill-opacity="0.27"/>
<circle cx="600.13" cy="465.88" r="2.1" fill="#ff1493" fill-opacity="0.27"/>
<line x1="595.37" y1="481.70" x2="605.77" y2="481.70" stroke="#555" stroke-width="0.9" stroke-opacity="0.75"/>
<line x1="600.57" y1="476.40" x2="600.57" y2="465.90" stroke="#5a5a5a" stroke-width="0.7" stroke-opacity="0.45"/>
<line x1="600.57" y1="487.00" x2="600.57" y2="487.00" stroke="#5a5a5a" stroke-width="0.7" stroke-opacity="0.45"/>
<line x1="595.37" y1="480.90" x2="605.77" y2="480.90" stroke="#000" stroke-width="1.4" />
<rect x="606.12" y="476.40" width="10.4" height="5.30" fill="#808080" fill-opacity="0.5" stroke="#666" stroke-opacity="0.6" stroke-width="0.8"/>
<line x1="611.32" y1="476.40" x2="611.32" y2="471.20" stroke="#5a5a5a" stroke-width="0.9" stroke-opacity="0.85"/>
<line x1="611.32" y1="481.70" x2="611.32" y2="487.00" stroke="#5a5a5a" stroke-width="0.9" stroke-opacity="0.85"/>
<line x1="608.72" y1="471.20" x2="613.92" y2="471.20" stroke="#444" stroke-width="1.0" />
<line x1="608.72" y1="487.00" x2="613.92" y2="487.00" stroke="#444" stroke-width="1.0" />
<circle cx="611.65" cy="487.00" r="2.1" fill="#808080" fill-opacity="0.27"/>
<circle cx="611.73" cy="487.00" r="2.1" fill="#808080" fill-opacity="0.27"/>
<circle cx="611.60" cy="481.72" r="2.1" fill="#808080" fill-opacity="0.27"/>
<circle cx="610.96" cy="481.72" r="2.1" fill="#808080" fill-opacity="0.27"/>
<circle cx="611.65" cy="481.72" r="2.1" fill="#808080" fill-opacity="0.27"/>
<circle cx="611.45" cy="481.72" r="2.1" fill="#808080" fill-opacity="0.27"/>
<circle cx="610.83" cy="481.72" r="2.1" fill="#808080" fill-opacity="0.27"/>
<circle cx="610.83" cy="481.72" r="2.1" fill="#808080" fill-opacity="0.27"/>
<circle cx="611.77" cy="476.44" r="2.1" fill="#808080" fill-opacity="0.27"/>
<circle cx="611.48" cy="476.44" r="2.1" fill="#808080" fill-opacity="0.27"/>
<circle cx="611.07" cy="476.44" r="2.1" fill="#808080" fill-opacity="0.27"/>
<circle cx="610.92" cy="476.44" r="2.1" fill="#808080" fill-opacity="0.27"/>
<circle cx="610.96" cy="476.44" r="2.1" fill="#808080" fill-opacity="0.27"/>
<circle cx="611.05" cy="471.16" r="2.1" fill="#808080" fill-opacity="0.27"/>
<circle cx="611.60" cy="471.16" r="2.1" fill="#808080" fill-opacity="0.27"/>
<line x1="606.12" y1="481.70" x2="616.52" y2="481.70" stroke="#555" stroke-width="0.9" stroke-opacity="0.75"/>
<line x1="611.32" y1="476.40" x2="611.32" y2="471.20" stroke="#5a5a5a" stroke-width="0.7" stroke-opacity="0.45"/>
<line x1="611.32" y1="481.70" x2="611.32" y2="487.00" stroke="#5a5a5a" stroke-width="0.7" stroke-opacity="0.45"/>
<line x1="606.12" y1="479.30" x2="616.52" y2="479.30" stroke="#000" stroke-width="1.4" />
<rect x="621.61" y="476.40" width="10.4" height="5.30" fill="#ff1493" fill-opacity="0.5" stroke="#666" stroke-opacity="0.6" stroke-width="0.8"/>
<line x1="626.81" y1="476.40" x2="626.81" y2="471.20" stroke="#5a5a5a" stroke-width="0.9" stroke-opacity="0.85"/>
<line x1="626.81" y1="481.70" x2="626.81" y2="487.00" stroke="#5a5a5a" stroke-width="0.9" stroke-opacity="0.85"/>
<line x1="624.21" y1="471.20" x2="629.41" y2="471.20" stroke="#444" stroke-width="1.0" />
<line x1="624.21" y1="487.00" x2="629.41" y2="487.00" stroke="#444" stroke-width="1.0" />
<circle cx="626.66" cy="487.00" r="2.1" fill="#ff1493" fill-opacity="0.27"/>
<circle cx="626.46" cy="487.00" r="2.1" fill="#ff1493" fill-opacity="0.27"/>
<circle cx="627.21" cy="487.00" r="2.1" fill="#ff1493" fill-opacity="0.27"/>
<circle cx="627.10" cy="487.00" r="2.1" fill="#ff1493" fill-opacity="0.27"/>
<circle cx="626.48" cy="487.00" r="2.1" fill="#ff1493" fill-opacity="0.27"/>
<circle cx="627.20" cy="487.00" r="2.1" fill="#ff1493" fill-opacity="0.27"/>
<circle cx="626.92" cy="487.00" r="2.1" fill="#ff1493" fill-opacity="0.27"/>
<circle cx="627.09" cy="487.00" r="2.1" fill="#ff1493" fill-opacity="0.27"/>
<circle cx="626.98" cy="481.72" r="2.1" fill="#ff1493" fill-opacity="0.27"/>
<circle cx="627.20" cy="481.72" r="2.1" fill="#ff1493" fill-opacity="0.27"/>
<circle cx="627.10" cy="481.72" r="2.1" fill="#ff1493" fill-opacity="0.27"/>
<circle cx="627.15" cy="481.72" r="2.1" fill="#ff1493" fill-opacity="0.27"/>
<circle cx="626.51" cy="481.72" r="2.1" fill="#ff1493" fill-opacity="0.27"/>
<circle cx="627.00" cy="481.72" r="2.1" fill="#ff1493" fill-opacity="0.27"/>
<circle cx="626.84" cy="481.72" r="2.1" fill="#ff1493" fill-opacity="0.27"/>
<circle cx="627.05" cy="481.72" r="2.1" fill="#ff1493" fill-opacity="0.27"/>
<circle cx="626.75" cy="481.72" r="2.1" fill="#ff1493" fill-opacity="0.27"/>
<circle cx="627.19" cy="481.72" r="2.1" fill="#ff1493" fill-opacity="0.27"/>
<circle cx="626.87" cy="481.72" r="2.1" fill="#ff1493" fill-opacity="0.27"/>
<circle cx="626.57" cy="481.72" r="2.1" fill="#ff1493" fill-opacity="0.27"/>
<circle cx="626.54" cy="481.72" r="2.1" fill="#ff1493" fill-opacity="0.27"/>
<circle cx="626.45" cy="481.72" r="2.1" fill="#ff1493" fill-opacity="0.27"/>
<circle cx="626.80" cy="481.72" r="2.1" fill="#ff1493" fill-opacity="0.27"/>
<circle cx="626.37" cy="476.44" r="2.1" fill="#ff1493" fill-opacity="0.27"/>
<circle cx="626.78" cy="476.44" r="2.1" fill="#ff1493" fill-opacity="0.27"/>
<circle cx="626.45" cy="476.44" r="2.1" fill="#ff1493" fill-opacity="0.27"/>
<circle cx="626.80" cy="476.44" r="2.1" fill="#ff1493" fill-opacity="0.27"/>
<circle cx="626.81" cy="476.44" r="2.1" fill="#ff1493" fill-opacity="0.27"/>
<circle cx="626.85" cy="476.44" r="2.1" fill="#ff1493" fill-opacity="0.27"/>
<circle cx="627.17" cy="476.44" r="2.1" fill="#ff1493" fill-opacity="0.27"/>
<circle cx="626.32" cy="476.44" r="2.1" fill="#ff1493" fill-opacity="0.27"/>
<circle cx="627.15" cy="476.44" r="2.1" fill="#ff1493" fill-opacity="0.27"/>
<circle cx="626.78" cy="476.44" r="2.1" fill="#ff1493" fill-opacity="0.27"/>
<circle cx="626.87" cy="476.44" r="2.1" fill="#ff1493" fill-opacity="0.27"/>
<circle cx="626.98" cy="476.44" r="2.1" fill="#ff1493" fill-opacity="0.27"/>
<circle cx="627.15" cy="471.16" r="2.1" fill="#ff1493" fill-opacity="0.27"/>
<circle cx="626.68" cy="471.16" r="2.1" fill="#ff1493" fill-opacity="0.27"/>
<circle cx="626.73" cy="471.16" r="2.1" fill="#ff1493" fill-opacity="0.27"/>
<circle cx="627.27" cy="471.16" r="2.1" fill="#ff1493" fill-opacity="0.27"/>
<circle cx="626.39" cy="465.88" r="2.1" fill="#ff1493" fill-opacity="0.27"/>
<circle cx="626.95" cy="465.88" r="2.1" fill="#ff1493" fill-opacity="0.27"/>
<line x1="621.61" y1="481.70" x2="632.01" y2="481.70" stroke="#555" stroke-width="0.9" stroke-opacity="0.75"/>
<line x1="626.81" y1="476.40" x2="626.81" y2="471.20" stroke="#5a5a5a" stroke-width="0.7" stroke-opacity="0.45"/>
<line x1="626.81" y1="481.70" x2="626.81" y2="487.00" stroke="#5a5a5a" stroke-width="0.7" stroke-opacity="0.45"/>
<line x1="621.61" y1="480.00" x2="632.01" y2="480.00" stroke="#000" stroke-width="1.4" />
<rect x="632.36" y="479.30" width="10.4" height="7.70" fill="#808080" fill-opacity="0.5" stroke="#666" stroke-opacity="0.6" stroke-width="0.8"/>
<line x1="637.56" y1="479.30" x2="637.56" y2="471.20" stroke="#5a5a5a" stroke-width="0.9" stroke-opacity="0.85"/>
<line x1="637.56" y1="487.00" x2="637.56" y2="487.00" stroke="#5a5a5a" stroke-width="0.9" stroke-opacity="0.85"/>
<line x1="634.96" y1="471.20" x2="640.16" y2="471.20" stroke="#444" stroke-width="1.0" />
<line x1="634.96" y1="487.00" x2="640.16" y2="487.00" stroke="#444" stroke-width="1.0" />
<circle cx="637.70" cy="487.00" r="2.1" fill="#808080" fill-opacity="0.27"/>
<circle cx="637.09" cy="487.00" r="2.1" fill="#808080" fill-opacity="0.27"/>
<circle cx="637.67" cy="487.00" r="2.1" fill="#808080" fill-opacity="0.27"/>
<circle cx="637.74" cy="487.00" r="2.1" fill="#808080" fill-opacity="0.27"/>
<circle cx="637.99" cy="487.00" r="2.1" fill="#808080" fill-opacity="0.27"/>
<circle cx="637.39" cy="481.72" r="2.1" fill="#808080" fill-opacity="0.27"/>
<circle cx="638.04" cy="481.72" r="2.1" fill="#808080" fill-opacity="0.27"/>
<circle cx="637.57" cy="481.72" r="2.1" fill="#808080" fill-opacity="0.27"/>
<circle cx="637.54" cy="481.72" r="2.1" fill="#808080" fill-opacity="0.27"/>
<circle cx="637.96" cy="481.72" r="2.1" fill="#808080" fill-opacity="0.27"/>
<circle cx="637.09" cy="476.44" r="2.1" fill="#808080" fill-opacity="0.27"/>
<circle cx="637.78" cy="476.44" r="2.1" fill="#808080" fill-opacity="0.27"/>
<circle cx="637.69" cy="476.44" r="2.1" fill="#808080" fill-opacity="0.27"/>
<circle cx="637.40" cy="476.44" r="2.1" fill="#808080" fill-opacity="0.27"/>
<circle cx="637.92" cy="471.16" r="2.1" fill="#808080" fill-opacity="0.27"/>
<line x1="632.36" y1="481.70" x2="642.76" y2="481.70" stroke="#555" stroke-width="0.9" stroke-opacity="0.75"/>
<line x1="637.56" y1="479.30" x2="637.56" y2="471.20" stroke="#5a5a5a" stroke-width="0.7" stroke-opacity="0.45"/>
<line x1="637.56" y1="487.00" x2="637.56" y2="487.00" stroke="#5a5a5a" stroke-width="0.7" stroke-opacity="0.45"/>
<line x1="632.36" y1="481.50" x2="642.76" y2="481.50" stroke="#000" stroke-width="1.4" />
<rect x="647.85" y="481.70" width="10.4" height="5.30" fill="#ff1493" fill-opacity="0.5" stroke="#666" stroke-opacity="0.6" stroke-width="0.8"/>
<line x1="653.05" y1="481.70" x2="653.05" y2="476.40" stroke="#5a5a5a" stroke-width="0.9" stroke-opacity="0.85"/>
<line x1="653.05" y1="487.00" x2="653.05" y2="487.00" stroke="#5a5a5a" stroke-width="0.9" stroke-opacity="0.85"/>
<line x1="650.45" y1="476.40" x2="655.65" y2="476.40" stroke="#444" stroke-width="1.0" />
<line x1="650.45" y1="487.00" x2="655.65" y2="487.00" stroke="#444" stroke-width="1.0" />
<circle cx="652.92" cy="487.00" r="2.1" fill="#ff1493" fill-opacity="0.27"/>
<circle cx="653.02" cy="487.00" r="2.1" fill="#ff1493" fill-opacity="0.27"/>
<circle cx="653.08" cy="487.00" r="2.1" fill="#ff1493" fill-opacity="0.27"/>
<circle cx="653.32" cy="487.00" r="2.1" fill="#ff1493" fill-opacity="0.27"/>
<circle cx="652.76" cy="487.00" r="2.1" fill="#ff1493" fill-opacity="0.27"/>
<circle cx="652.99" cy="487.00" r="2.1" fill="#ff1493" fill-opacity="0.27"/>
<circle cx="652.97" cy="487.00" r="2.1" fill="#ff1493" fill-opacity="0.27"/>
<circle cx="653.10" cy="487.00" r="2.1" fill="#ff1493" fill-opacity="0.27"/>
<circle cx="653.38" cy="487.00" r="2.1" fill="#ff1493" fill-opacity="0.27"/>
<circle cx="652.84" cy="487.00" r="2.1" fill="#ff1493" fill-opacity="0.27"/>
<circle cx="653.38" cy="487.00" r="2.1" fill="#ff1493" fill-opacity="0.27"/>
<circle cx="652.95" cy="487.00" r="2.1" fill="#ff1493" fill-opacity="0.27"/>
<circle cx="653.05" cy="487.00" r="2.1" fill="#ff1493" fill-opacity="0.27"/>
<circle cx="652.82" cy="487.00" r="2.1" fill="#ff1493" fill-opacity="0.27"/>
<circle cx="653.06" cy="487.00" r="2.1" fill="#ff1493" fill-opacity="0.27"/>
<circle cx="653.52" cy="487.00" r="2.1" fill="#ff1493" fill-opacity="0.27"/>
<circle cx="653.20" cy="487.00" r="2.1" fill="#ff1493" fill-opacity="0.27"/>
<circle cx="653.34" cy="481.72" r="2.1" fill="#ff1493" fill-opacity="0.27"/>
<circle cx="652.88" cy="481.72" r="2.1" fill="#ff1493" fill-opacity="0.27"/>
<circle cx="652.87" cy="481.72" r="2.1" fill="#ff1493" fill-opacity="0.27"/>
<circle cx="652.85" cy="481.72" r="2.1" fill="#ff1493" fill-opacity="0.27"/>
<circle cx="653.14" cy="481.72" r="2.1" fill="#ff1493" fill-opacity="0.27"/>
<circle cx="653.18" cy="481.72" r="2.1" fill="#ff1493" fill-opacity="0.27"/>
<circle cx="653.33" cy="481.72" r="2.1" fill="#ff1493" fill-opacity="0.27"/>
<circle cx="652.59" cy="481.72" r="2.1" fill="#ff1493" fill-opacity="0.27"/>
<circle cx="653.27" cy="481.72" r="2.1" fill="#ff1493" fill-opacity="0.27"/>
<circle cx="653.44" cy="481.72" r="2.1" fill="#ff1493" fill-opacity="0.27"/>
<circle cx="653.10" cy="481.72" r="2.1" fill="#ff1493" fill-opacity="0.27"/>
<circle cx="652.60" cy="481.72" r="2.1" fill="#ff1493" fill-opacity="0.27"/>
<circle cx="652.85" cy="481.72" r="2.1" fill="#ff1493" fill-opacity="0.27"/>
<circle cx="652.56" cy="481.72" r="2.1" fill="#ff1493" fill-opacity="0.27"/>
<circle cx="652.74" cy="481.72" r="2.1" fill="#ff1493" fill-opacity="0.27"/>
<circle cx="653.47" cy="481.72" r="2.1" fill="#ff1493" fill-opacity="0.27"/>
<circle cx="653.16" cy="476.44" r="2.1" fill="#ff1493" fill-opacity="0.27"/>
<circle cx="653.21" cy="476.44" r="2.1" fill="#ff1493" fill-opacity="0.27"/>
<circle cx="653.34" cy="476.44" r="2.1" fill="#ff1493" fill-opacity="0.27"/>
<circle cx="653.46" cy="476.44" r="2.1" fill="#ff1493" fill-opacity="0.27"/>
<circle cx="653.16" cy="476.44" r="2.1" fill="#ff1493" fill-opacity="0.27"/>
<circle cx="653.17" cy="476.44" r="2.1" fill="#ff1493" fill-opacity="0.27"/>
<circle cx="653.18" cy="476.44" r="2.1" fill="#ff1493" fill-opacity="0.27"/>
<circle cx="653.25" cy="476.44" r="2.1" fill="#ff1493" fill-opacity="0.27"/>
<line x1="647.85" y1="487.00" x2="658.25" y2="487.00" stroke="#555" stroke-width="0.9" stroke-opacity="0.75"/>
<line x1="653.05" y1="481.70" x2="653.05" y2="476.40" stroke="#5a5a5a" stroke-width="0.7" stroke-opacity="0.45"/>
<line x1="653.05" y1="487.00" x2="653.05" y2="487.00" stroke="#5a5a5a" stroke-width="0.7" stroke-opacity="0.45"/>
<line x1="647.85" y1="483.70" x2="658.25" y2="483.70" stroke="#000" stroke-width="1.4" />
<rect x="658.60" y="481.70" width="10.4" height="5.30" fill="#808080" fill-opacity="0.5" stroke="#666" stroke-opacity="0.6" stroke-width="0.8"/>
<line x1="663.80" y1="481.70" x2="663.80" y2="476.40" stroke="#5a5a5a" stroke-width="0.9" stroke-opacity="0.85"/>
<line x1="663.80" y1="487.00" x2="663.80" y2="487.00" stroke="#5a5a5a" stroke-width="0.9" stroke-opacity="0.85"/>
<line x1="661.20" y1="476.40" x2="666.40" y2="476.40" stroke="#444" stroke-width="1.0" />
<line x1="661.20" y1="487.00" x2="666.40" y2="487.00" stroke="#444" stroke-width="1.0" />
<circle cx="663.90" cy="487.00" r="2.1" fill="#808080" fill-opacity="0.27"/>
<circle cx="663.98" cy="487.00" r="2.1" fill="#808080" fill-opacity="0.27"/>
<circle cx="663.51" cy="487.00" r="2.1" fill="#808080" fill-opacity="0.27"/>
<circle cx="663.97" cy="487.00" r="2.1" fill="#808080" fill-opacity="0.27"/>
<circle cx="663.76" cy="487.00" r="2.1" fill="#808080" fill-opacity="0.27"/>
<circle cx="664.06" cy="487.00" r="2.1" fill="#808080" fill-opacity="0.27"/>
<circle cx="663.40" cy="487.00" r="2.1" fill="#808080" fill-opacity="0.27"/>
<circle cx="663.48" cy="481.72" r="2.1" fill="#808080" fill-opacity="0.27"/>
<circle cx="663.34" cy="481.72" r="2.1" fill="#808080" fill-opacity="0.27"/>
<circle cx="664.07" cy="481.72" r="2.1" fill="#808080" fill-opacity="0.27"/>
<circle cx="664.21" cy="481.72" r="2.1" fill="#808080" fill-opacity="0.27"/>
<circle cx="663.96" cy="481.72" r="2.1" fill="#808080" fill-opacity="0.27"/>
<circle cx="663.67" cy="481.72" r="2.1" fill="#808080" fill-opacity="0.27"/>
<circle cx="664.12" cy="476.44" r="2.1" fill="#808080" fill-opacity="0.27"/>
<circle cx="664.09" cy="476.44" r="2.1" fill="#808080" fill-opacity="0.27"/>
<line x1="658.60" y1="487.00" x2="669.00" y2="487.00" stroke="#555" stroke-width="0.9" stroke-opacity="0.75"/>
<line x1="663.80" y1="481.70" x2="663.80" y2="476.40" stroke="#5a5a5a" stroke-width="0.7" stroke-opacity="0.45"/>
<line x1="663.80" y1="487.00" x2="663.80" y2="487.00" stroke="#5a5a5a" stroke-width="0.7" stroke-opacity="0.45"/>
<line x1="658.60" y1="484.30" x2="669.00" y2="484.30" stroke="#000" stroke-width="1.4" />
<rect x="574.5" y="334.5" width="84.0" height="36.5" rx="1.8" fill="#fff" fill-opacity="0.85" stroke="#d4d4d4" stroke-width="0.8"/>
<circle cx="582.60" cy="341.70" r="2.75" fill="#ff1493"/>
<circle cx="582.60" cy="353.20" r="2.65" fill="#808080"/>
<line x1="578.10" y1="363.70" x2="587.90" y2="363.70" stroke="#000" stroke-width="1.3" />
<text x="591.30" y="344.40" font-size="9.2" text-anchor="start" fill="#1a1a1a" >proband (n=41)</text>
<text x="591.30" y="355.80" font-size="9.2" text-anchor="start" fill="#1a1a1a" >sibling (n=15)</text>
<text x="591.30" y="366.90" font-size="9.2" text-anchor="start" fill="#1a1a1a" >Mean</text>
</svg>
</body></html>
